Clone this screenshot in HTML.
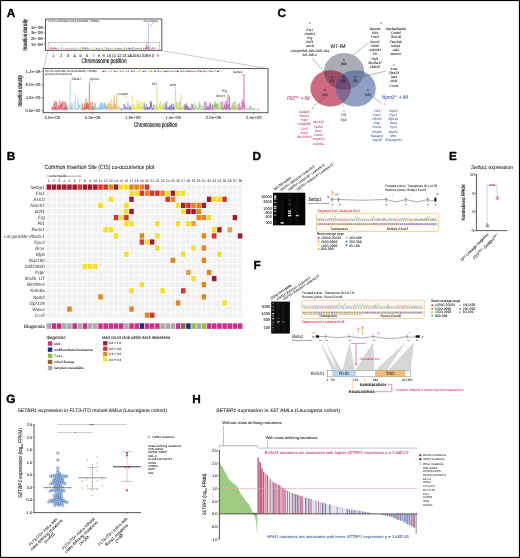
<!DOCTYPE html>
<html><head><meta charset="utf-8"><style>
html,body{margin:0;padding:0;background:#fff;}
svg{display:block;font-family:"Liberation Sans",sans-serif;}
text{text-rendering:geometricPrecision;}
</style></head><body>
<svg width="520" height="558" viewBox="0 0 520 558">
<rect x="0" y="0" width="520" height="558" fill="#fff"/>
<g opacity="0.999">
<text x="6.8" y="16.8" font-size="11.8" font-weight="bold" fill="#000" stroke="#000" stroke-width="0.35" stroke-linejoin="round">A</text>
<text x="6.8" y="160" font-size="11.8" font-weight="bold" fill="#000" stroke="#000" stroke-width="0.35" stroke-linejoin="round">B</text>
<text x="277.5" y="17" font-size="11.8" font-weight="bold" fill="#000" stroke="#000" stroke-width="0.35" stroke-linejoin="round">C</text>
<text x="252.5" y="159.8" font-size="11.8" font-weight="bold" fill="#000" stroke="#000" stroke-width="0.35" stroke-linejoin="round">D</text>
<text x="449" y="159.8" font-size="11.8" font-weight="bold" fill="#000" stroke="#000" stroke-width="0.35" stroke-linejoin="round">E</text>
<text x="253.5" y="269.2" font-size="11.8" font-weight="bold" fill="#000" stroke="#000" stroke-width="0.35" stroke-linejoin="round">F</text>
<text x="6.3" y="403" font-size="11.8" font-weight="bold" fill="#000" stroke="#000" stroke-width="0.35" stroke-linejoin="round">G</text>
<text x="192.3" y="403" font-size="11.8" font-weight="bold" fill="#000" stroke="#000" stroke-width="0.35" stroke-linejoin="round">H</text>
<path d="M51.8,110.6 L51.80,110.1 L52.34,106.2 L52.76,109.3 L53.17,107.7 L53.66,109.9 L54.15,102.8 L54.57,109.3 L55.00,100.6 L55.41,109.6 L55.81,106.9 L56.12,110.0 L56.42,101.6 L56.97,109.8 L57.52,108.6 L58.03,109.6 L58.53,104.8 L58.88,109.4 L59.23,107.2 L59.61,109.5 L60.00,100.6 L60.51,108.3 L61.01,104.3 L61.28,109.6 L61.55,103.3 L62.09,108.6 L62.64,101.4 L63.06,109.9 L63.49,108.6 L63.74,109.7 L64.00,101.6 L64.50,109.9 L65.00,107.1 L65.34,109.2 L65.69,102.1 L66.02,109.8 L66.34,105.2 L66.71,110.0 L67.08,108.5 L67.70,110.1 L67.7,110.6 Z" fill="#d03040" opacity="0.18" />
<path d="M51.80,110.1 L52.34,106.2 L52.76,109.3 L53.17,107.7 L53.66,109.9 L54.15,102.8 L54.57,109.3 L55.00,100.6 L55.41,109.6 L55.81,106.9 L56.12,110.0 L56.42,101.6 L56.97,109.8 L57.52,108.6 L58.03,109.6 L58.53,104.8 L58.88,109.4 L59.23,107.2 L59.61,109.5 L60.00,100.6 L60.51,108.3 L61.01,104.3 L61.28,109.6 L61.55,103.3 L62.09,108.6 L62.64,101.4 L63.06,109.9 L63.49,108.6 L63.74,109.7 L64.00,101.6 L64.50,109.9 L65.00,107.1 L65.34,109.2 L65.69,102.1 L66.02,109.8 L66.34,105.2 L66.71,110.0 L67.08,108.5 L67.70,110.1" fill="none" stroke="#d03040" stroke-width="0.42" />
<path d="M67.7,110.6 L67.70,110.1 L68.17,105.1 L68.70,109.0 L69.22,105.9 L69.71,109.5 L70.20,82.6 L70.39,109.6 L70.57,105.5 L71.00,109.5 L71.43,103.1 L71.69,110.0 L71.94,107.1 L72.20,109.2 L72.45,102.9 L72.90,109.9 L73.35,108.6 L73.90,109.6 L74.44,101.4 L74.92,108.7 L75.40,93.6 L75.63,109.5 L75.87,108.7 L76.27,109.6 L76.66,108.5 L76.95,110.1 L77.24,107.5 L77.62,109.8 L78.00,97.6 L78.22,107.6 L78.44,102.6 L78.84,109.0 L79.23,104.4 L79.62,108.1 L80.00,104.3 L80.38,109.6 L80.75,107.3 L81.30,110.0 L81.85,101.1 L82.20,110.1 L82.2,110.6 Z" fill="#9cc8e4" opacity="0.18" />
<path d="M67.70,110.1 L68.17,105.1 L68.70,109.0 L69.22,105.9 L69.71,109.5 L70.20,82.6 L70.39,109.6 L70.57,105.5 L71.00,109.5 L71.43,103.1 L71.69,110.0 L71.94,107.1 L72.20,109.2 L72.45,102.9 L72.90,109.9 L73.35,108.6 L73.90,109.6 L74.44,101.4 L74.92,108.7 L75.40,93.6 L75.63,109.5 L75.87,108.7 L76.27,109.6 L76.66,108.5 L76.95,110.1 L77.24,107.5 L77.62,109.8 L78.00,97.6 L78.22,107.6 L78.44,102.6 L78.84,109.0 L79.23,104.4 L79.62,108.1 L80.00,104.3 L80.38,109.6 L80.75,107.3 L81.30,110.0 L81.85,101.1 L82.20,110.1" fill="none" stroke="#9cc8e4" stroke-width="0.42" />
<path d="M82.2,110.6 L82.20,110.1 L82.68,104.3 L83.13,110.0 L83.57,108.1 L83.80,109.6 L84.02,106.6 L84.34,109.9 L84.65,102.9 L85.10,109.6 L85.55,104.8 L85.78,108.5 L86.00,98.6 L86.18,109.1 L86.36,104.3 L86.64,109.4 L86.91,106.1 L87.19,109.2 L87.46,102.0 L87.71,108.7 L87.95,102.8 L88.20,109.1 L88.45,104.0 L88.93,109.8 L89.40,82.6 L89.76,109.7 L90.12,108.7 L90.36,109.5 L90.61,101.9 L91.00,109.4 L91.39,108.4 L91.93,109.6 L92.48,101.6 L92.74,109.5 L93.00,106.2 L93.27,109.6 L93.54,107.0 L94.20,110.1 L94.2,110.6 Z" fill="#d65a38" opacity="0.18" />
<path d="M82.20,110.1 L82.68,104.3 L83.13,110.0 L83.57,108.1 L83.80,109.6 L84.02,106.6 L84.34,109.9 L84.65,102.9 L85.10,109.6 L85.55,104.8 L85.78,108.5 L86.00,98.6 L86.18,109.1 L86.36,104.3 L86.64,109.4 L86.91,106.1 L87.19,109.2 L87.46,102.0 L87.71,108.7 L87.95,102.8 L88.20,109.1 L88.45,104.0 L88.93,109.8 L89.40,82.6 L89.76,109.7 L90.12,108.7 L90.36,109.5 L90.61,101.9 L91.00,109.4 L91.39,108.4 L91.93,109.6 L92.48,101.6 L92.74,109.5 L93.00,106.2 L93.27,109.6 L93.54,107.0 L94.20,110.1" fill="none" stroke="#d65a38" stroke-width="0.42" />
<path d="M94.2,110.6 L94.20,110.1 L94.56,104.1 L95.00,109.6 L95.45,102.6 L95.74,109.3 L96.02,107.6 L96.29,109.3 L96.57,107.6 L97.03,109.4 L97.49,108.2 L97.89,109.6 L98.29,107.7 L98.61,109.6 L98.93,106.2 L99.47,109.0 L100.00,103.6 L100.19,109.9 L100.38,107.3 L100.66,109.4 L100.93,102.3 L101.42,108.8 L101.91,103.0 L102.40,109.5 L102.89,103.5 L103.43,109.4 L103.96,103.1 L104.27,108.6 L104.58,102.5 L104.96,109.3 L105.34,103.4 L105.75,109.4 L106.16,106.2 L106.50,109.2 L106.85,106.2 L107.20,110.1 L107.2,110.6 Z" fill="#7eaade" opacity="0.18" />
<path d="M94.20,110.1 L94.56,104.1 L95.00,109.6 L95.45,102.6 L95.74,109.3 L96.02,107.6 L96.29,109.3 L96.57,107.6 L97.03,109.4 L97.49,108.2 L97.89,109.6 L98.29,107.7 L98.61,109.6 L98.93,106.2 L99.47,109.0 L100.00,103.6 L100.19,109.9 L100.38,107.3 L100.66,109.4 L100.93,102.3 L101.42,108.8 L101.91,103.0 L102.40,109.5 L102.89,103.5 L103.43,109.4 L103.96,103.1 L104.27,108.6 L104.58,102.5 L104.96,109.3 L105.34,103.4 L105.75,109.4 L106.16,106.2 L106.50,109.2 L106.85,106.2 L107.20,110.1" fill="none" stroke="#7eaade" stroke-width="0.42" />
<path d="M107.2,110.6 L107.20,110.1 L107.46,103.9 L107.90,108.1 L108.34,101.7 L108.65,109.4 L108.96,107.4 L109.43,109.9 L109.89,104.3 L110.21,108.8 L110.54,104.1 L110.77,108.6 L111.00,99.6 L111.39,109.9 L111.77,107.6 L112.29,110.0 L112.81,106.7 L113.12,109.0 L113.43,103.0 L113.71,108.6 L114.00,95.6 L114.55,109.5 L115.10,104.2 L115.38,109.0 L115.65,104.3 L116.08,109.5 L116.50,94.6 L117.14,109.0 L117.77,106.4 L118.32,109.4 L118.87,106.1 L120.00,110.1 L120.0,110.6 Z" fill="#e6a03c" opacity="0.18" />
<path d="M107.20,110.1 L107.46,103.9 L107.90,108.1 L108.34,101.7 L108.65,109.4 L108.96,107.4 L109.43,109.9 L109.89,104.3 L110.21,108.8 L110.54,104.1 L110.77,108.6 L111.00,99.6 L111.39,109.9 L111.77,107.6 L112.29,110.0 L112.81,106.7 L113.12,109.0 L113.43,103.0 L113.71,108.6 L114.00,95.6 L114.55,109.5 L115.10,104.2 L115.38,109.0 L115.65,104.3 L116.08,109.5 L116.50,94.6 L117.14,109.0 L117.77,106.4 L118.32,109.4 L118.87,106.1 L120.00,110.1" fill="none" stroke="#e6a03c" stroke-width="0.42" />
<path d="M120.0,110.6 L120.00,110.1 L120.78,108.7 L121.24,109.9 L121.71,108.0 L122.25,109.8 L122.80,108.7 L123.31,109.6 L123.82,104.1 L124.41,108.6 L125.00,103.6 L125.22,109.6 L125.43,106.8 L125.89,109.2 L126.34,107.2 L126.65,109.1 L126.96,107.6 L127.47,109.6 L127.97,102.3 L128.46,109.2 L128.94,107.6 L129.47,110.0 L129.99,105.5 L130.29,109.8 L130.59,106.0 L130.95,110.0 L131.32,108.4 L131.70,110.1 L131.7,110.6 Z" fill="#7474c4" opacity="0.18" />
<path d="M120.00,110.1 L120.78,108.7 L121.24,109.9 L121.71,108.0 L122.25,109.8 L122.80,108.7 L123.31,109.6 L123.82,104.1 L124.41,108.6 L125.00,103.6 L125.22,109.6 L125.43,106.8 L125.89,109.2 L126.34,107.2 L126.65,109.1 L126.96,107.6 L127.47,109.6 L127.97,102.3 L128.46,109.2 L128.94,107.6 L129.47,110.0 L129.99,105.5 L130.29,109.8 L130.59,106.0 L130.95,110.0 L131.32,108.4 L131.70,110.1" fill="none" stroke="#7474c4" stroke-width="0.42" />
<path d="M131.7,110.6 L131.70,110.1 L132.30,95.1 L132.57,109.9 L132.84,106.0 L133.20,108.6 L133.55,104.3 L133.86,108.4 L134.17,104.5 L134.40,109.2 L134.63,107.1 L134.96,109.7 L135.30,108.1 L135.76,109.9 L136.23,107.0 L136.61,109.9 L137.00,99.1 L137.40,109.0 L137.81,102.1 L138.30,109.0 L138.78,104.2 L139.02,109.9 L139.25,106.0 L139.63,109.0 L140.00,100.1 L140.35,109.2 L140.70,107.0 L141.01,110.0 L141.32,103.1 L141.66,108.9 L142.00,106.2 L142.43,109.3 L142.87,101.6 L143.80,110.1 L143.8,110.6 Z" fill="#e4dc3a" opacity="0.18" />
<path d="M131.70,110.1 L132.30,95.1 L132.57,109.9 L132.84,106.0 L133.20,108.6 L133.55,104.3 L133.86,108.4 L134.17,104.5 L134.40,109.2 L134.63,107.1 L134.96,109.7 L135.30,108.1 L135.76,109.9 L136.23,107.0 L136.61,109.9 L137.00,99.1 L137.40,109.0 L137.81,102.1 L138.30,109.0 L138.78,104.2 L139.02,109.9 L139.25,106.0 L139.63,109.0 L140.00,100.1 L140.35,109.2 L140.70,107.0 L141.01,110.0 L141.32,103.1 L141.66,108.9 L142.00,106.2 L142.43,109.3 L142.87,101.6 L143.80,110.1" fill="none" stroke="#e4dc3a" stroke-width="0.42" />
<path d="M143.8,110.6 L143.80,110.1 L144.31,103.0 L144.85,109.8 L145.39,107.2 L145.86,109.5 L146.34,103.9 L146.78,109.5 L147.22,108.3 L147.45,109.6 L147.68,106.5 L148.15,109.7 L148.62,107.4 L149.01,110.0 L149.39,107.0 L149.89,109.0 L150.39,101.6 L150.75,108.5 L151.11,101.1 L151.35,107.5 L151.60,102.9 L152.11,110.0 L152.61,108.0 L153.07,109.5 L153.52,105.1 L154.60,110.1 L154.6,110.6 Z" fill="#5c5cb4" opacity="0.18" />
<path d="M143.80,110.1 L144.31,103.0 L144.85,109.8 L145.39,107.2 L145.86,109.5 L146.34,103.9 L146.78,109.5 L147.22,108.3 L147.45,109.6 L147.68,106.5 L148.15,109.7 L148.62,107.4 L149.01,110.0 L149.39,107.0 L149.89,109.0 L150.39,101.6 L150.75,108.5 L151.11,101.1 L151.35,107.5 L151.60,102.9 L152.11,110.0 L152.61,108.0 L153.07,109.5 L153.52,105.1 L154.60,110.1" fill="none" stroke="#5c5cb4" stroke-width="0.42" />
<path d="M154.6,110.6 L154.60,110.1 L154.91,104.3 L155.24,109.2 L155.58,107.8 L155.96,109.9 L156.34,105.7 L156.67,108.9 L157.00,88.1 L157.36,109.5 L157.73,107.4 L158.18,109.5 L158.63,106.9 L159.07,109.4 L159.52,103.1 L160.02,108.0 L160.53,101.6 L160.83,109.5 L161.13,107.5 L161.60,109.8 L162.06,105.0 L162.35,109.7 L162.64,104.1 L163.15,108.9 L163.66,102.7 L163.95,109.1 L164.25,107.1 L164.70,110.1 L164.7,110.6 Z" fill="#d2d244" opacity="0.18" />
<path d="M154.60,110.1 L154.91,104.3 L155.24,109.2 L155.58,107.8 L155.96,109.9 L156.34,105.7 L156.67,108.9 L157.00,88.1 L157.36,109.5 L157.73,107.4 L158.18,109.5 L158.63,106.9 L159.07,109.4 L159.52,103.1 L160.02,108.0 L160.53,101.6 L160.83,109.5 L161.13,107.5 L161.60,109.8 L162.06,105.0 L162.35,109.7 L162.64,104.1 L163.15,108.9 L163.66,102.7 L163.95,109.1 L164.25,107.1 L164.70,110.1" fill="none" stroke="#d2d244" stroke-width="0.42" />
<path d="M164.7,110.6 L164.70,110.1 L165.31,103.2 L165.70,109.5 L166.09,105.5 L166.45,108.6 L166.80,101.1 L167.12,109.4 L167.44,108.1 L167.75,109.5 L168.06,107.4 L168.39,109.1 L168.72,107.3 L168.98,109.8 L169.24,106.9 L169.57,109.4 L169.89,105.0 L170.18,109.6 L170.47,108.5 L170.77,109.6 L171.06,105.3 L171.41,109.3 L171.76,103.6 L172.24,109.8 L172.73,106.3 L172.99,109.2 L173.24,103.7 L173.72,109.9 L174.19,106.4 L174.80,110.1 L174.8,110.6 Z" fill="#6c60b6" opacity="0.18" />
<path d="M164.70,110.1 L165.31,103.2 L165.70,109.5 L166.09,105.5 L166.45,108.6 L166.80,101.1 L167.12,109.4 L167.44,108.1 L167.75,109.5 L168.06,107.4 L168.39,109.1 L168.72,107.3 L168.98,109.8 L169.24,106.9 L169.57,109.4 L169.89,105.0 L170.18,109.6 L170.47,108.5 L170.77,109.6 L171.06,105.3 L171.41,109.3 L171.76,103.6 L172.24,109.8 L172.73,106.3 L172.99,109.2 L173.24,103.7 L173.72,109.9 L174.19,106.4 L174.80,110.1" fill="none" stroke="#6c60b6" stroke-width="0.42" />
<path d="M174.8,110.6 L174.80,110.1 L175.50,89.1 L176.00,108.5 L176.49,102.0 L176.80,109.7 L177.11,104.5 L177.63,108.8 L178.15,102.3 L178.56,110.0 L178.97,107.9 L179.33,110.0 L179.69,101.2 L179.95,109.8 L180.21,107.0 L180.60,109.3 L181.00,94.6 L181.43,109.7 L181.86,107.0 L182.38,109.3 L182.90,106.9 L183.26,109.8 L183.63,104.6 L184.50,110.1 L184.5,110.6 Z" fill="#b4cc46" opacity="0.18" />
<path d="M174.80,110.1 L175.50,89.1 L176.00,108.5 L176.49,102.0 L176.80,109.7 L177.11,104.5 L177.63,108.8 L178.15,102.3 L178.56,110.0 L178.97,107.9 L179.33,110.0 L179.69,101.2 L179.95,109.8 L180.21,107.0 L180.60,109.3 L181.00,94.6 L181.43,109.7 L181.86,107.0 L182.38,109.3 L182.90,106.9 L183.26,109.8 L183.63,104.6 L184.50,110.1" fill="none" stroke="#b4cc46" stroke-width="0.42" />
<path d="M184.5,110.6 L184.50,110.1 L184.80,104.0 L185.23,109.5 L185.66,105.8 L185.96,109.2 L186.25,103.1 L186.74,109.8 L187.23,105.5 L187.62,109.2 L188.01,107.5 L188.23,109.7 L188.46,106.6 L188.87,110.0 L189.29,108.5 L189.77,109.6 L190.25,107.6 L190.55,110.0 L190.86,108.6 L191.40,109.5 L191.95,103.6 L192.46,109.1 L192.97,104.7 L193.50,110.1 L193.5,110.6 Z" fill="#8046a6" opacity="0.18" />
<path d="M184.50,110.1 L184.80,104.0 L185.23,109.5 L185.66,105.8 L185.96,109.2 L186.25,103.1 L186.74,109.8 L187.23,105.5 L187.62,109.2 L188.01,107.5 L188.23,109.7 L188.46,106.6 L188.87,110.0 L189.29,108.5 L189.77,109.6 L190.25,107.6 L190.55,110.0 L190.86,108.6 L191.40,109.5 L191.95,103.6 L192.46,109.1 L192.97,104.7 L193.50,110.1" fill="none" stroke="#8046a6" stroke-width="0.42" />
<path d="M193.5,110.6 L193.50,110.1 L194.27,108.1 L194.64,109.6 L195.00,102.6 L195.59,108.9 L196.18,106.8 L196.70,109.3 L197.21,107.6 L197.75,109.2 L198.29,107.0 L198.71,109.4 L199.13,101.8 L199.56,108.4 L200.00,103.6 L200.47,109.7 L200.93,108.6 L201.44,109.9 L201.95,104.9 L202.28,109.3 L202.61,107.8 L203.70,110.1 L203.7,110.6 Z" fill="#84bc48" opacity="0.18" />
<path d="M193.50,110.1 L194.27,108.1 L194.64,109.6 L195.00,102.6 L195.59,108.9 L196.18,106.8 L196.70,109.3 L197.21,107.6 L197.75,109.2 L198.29,107.0 L198.71,109.4 L199.13,101.8 L199.56,108.4 L200.00,103.6 L200.47,109.7 L200.93,108.6 L201.44,109.9 L201.95,104.9 L202.28,109.3 L202.61,107.8 L203.70,110.1" fill="none" stroke="#84bc48" stroke-width="0.42" />
<path d="M203.7,110.6 L203.70,110.1 L204.45,101.6 L204.97,109.9 L205.49,108.4 L205.74,109.6 L206.00,101.6 L206.56,109.8 L207.11,108.2 L207.40,109.7 L207.69,106.1 L207.99,109.1 L208.28,106.0 L208.52,109.9 L208.75,108.4 L209.37,110.0 L210.00,102.6 L210.22,108.9 L210.44,103.6 L210.79,109.6 L211.13,108.5 L211.61,109.7 L212.09,104.9 L212.52,109.1 L212.96,104.6 L213.80,110.1 L213.8,110.6 Z" fill="#9646a8" opacity="0.18" />
<path d="M203.70,110.1 L204.45,101.6 L204.97,109.9 L205.49,108.4 L205.74,109.6 L206.00,101.6 L206.56,109.8 L207.11,108.2 L207.40,109.7 L207.69,106.1 L207.99,109.1 L208.28,106.0 L208.52,109.9 L208.75,108.4 L209.37,110.0 L210.00,102.6 L210.22,108.9 L210.44,103.6 L210.79,109.6 L211.13,108.5 L211.61,109.7 L212.09,104.9 L212.52,109.1 L212.96,104.6 L213.80,110.1" fill="none" stroke="#9646a8" stroke-width="0.42" />
<path d="M213.8,110.6 L213.80,110.1 L214.43,102.6 L214.71,108.0 L215.00,101.1 L215.28,108.3 L215.57,104.2 L215.83,109.6 L216.08,103.4 L216.36,109.2 L216.63,103.9 L217.09,109.2 L217.55,103.3 L217.78,108.7 L218.00,103.6 L218.69,109.8 L219.38,108.2 L219.77,109.4 L220.17,101.5 L220.63,108.7 L221.10,106.1 L221.42,109.5 L221.74,101.6 L222.30,110.1 L222.3,110.6 Z" fill="#84bc4e" opacity="0.18" />
<path d="M213.80,110.1 L214.43,102.6 L214.71,108.0 L215.00,101.1 L215.28,108.3 L215.57,104.2 L215.83,109.6 L216.08,103.4 L216.36,109.2 L216.63,103.9 L217.09,109.2 L217.55,103.3 L217.78,108.7 L218.00,103.6 L218.69,109.8 L219.38,108.2 L219.77,109.4 L220.17,101.5 L220.63,108.7 L221.10,106.1 L221.42,109.5 L221.74,101.6 L222.30,110.1" fill="none" stroke="#84bc4e" stroke-width="0.42" />
<path d="M222.3,110.6 L222.30,110.1 L222.73,101.8 L223.23,109.6 L223.72,107.7 L224.23,110.0 L224.74,104.5 L224.98,108.1 L225.22,101.6 L225.53,109.4 L225.83,107.1 L226.17,109.9 L226.50,100.6 L226.80,108.7 L227.09,104.0 L227.55,109.1 L228.00,94.6 L228.52,109.6 L229.05,104.6 L229.27,109.6 L229.50,96.6 L229.77,109.7 L230.03,107.9 L230.80,110.1 L230.8,110.6 Z" fill="#b646a6" opacity="0.18" />
<path d="M222.30,110.1 L222.73,101.8 L223.23,109.6 L223.72,107.7 L224.23,110.0 L224.74,104.5 L224.98,108.1 L225.22,101.6 L225.53,109.4 L225.83,107.1 L226.17,109.9 L226.50,100.6 L226.80,108.7 L227.09,104.0 L227.55,109.1 L228.00,94.6 L228.52,109.6 L229.05,104.6 L229.27,109.6 L229.50,96.6 L229.77,109.7 L230.03,107.9 L230.80,110.1" fill="none" stroke="#b646a6" stroke-width="0.42" />
<path d="M230.8,110.6 L230.80,110.1 L231.45,107.7 L231.74,109.4 L232.03,104.8 L232.28,108.2 L232.52,103.2 L232.99,110.1 L233.47,108.6 L233.73,109.5 L234.00,101.6 L234.18,109.6 L234.36,105.6 L234.79,109.8 L235.22,101.6 L235.77,109.2 L236.31,106.3 L237.50,110.1 L237.5,110.6 Z" fill="#8cbc46" opacity="0.18" />
<path d="M230.80,110.1 L231.45,107.7 L231.74,109.4 L232.03,104.8 L232.28,108.2 L232.52,103.2 L232.99,110.1 L233.47,108.6 L233.73,109.5 L234.00,101.6 L234.18,109.6 L234.36,105.6 L234.79,109.8 L235.22,101.6 L235.77,109.2 L236.31,106.3 L237.50,110.1" fill="none" stroke="#8cbc46" stroke-width="0.42" />
<path d="M237.5,110.6 L237.50,110.1 L238.09,103.9 L238.63,109.5 L239.16,107.8 L239.41,109.2 L239.65,102.8 L239.99,110.0 L240.32,106.6 L240.81,109.3 L241.30,107.9 L241.65,109.5 L242.00,99.6 L242.42,109.1 L242.84,101.9 L243.42,108.2 L244.00,74.1 L244.33,109.1 L244.66,103.2 L245.10,110.1 L245.1,110.6 Z" fill="#d046a0" opacity="0.18" />
<path d="M237.50,110.1 L238.09,103.9 L238.63,109.5 L239.16,107.8 L239.41,109.2 L239.65,102.8 L239.99,110.0 L240.32,106.6 L240.81,109.3 L241.30,107.9 L241.65,109.5 L242.00,99.6 L242.42,109.1 L242.84,101.9 L243.42,108.2 L244.00,74.1 L244.33,109.1 L244.66,103.2 L245.10,110.1" fill="none" stroke="#d046a0" stroke-width="0.42" />
<path d="M245.1,110.6 L245.10,110.1 L245.37,109.4 L245.79,110.0 L246.21,109.3 L246.47,109.8 L246.74,108.4 L247.10,110.0 L247.46,109.2 L247.82,110.1 L248.17,106.8 L248.44,110.0 L248.70,109.3 L248.94,110.1 L249.17,109.1 L249.43,110.0 L249.68,106.2 L250.01,109.9 L250.34,106.2 L250.60,109.1 L250.87,106.5 L251.26,109.3 L251.65,107.5 L252.09,109.9 L252.53,109.0 L252.83,109.9 L253.13,107.5 L253.40,110.1 L253.67,109.7 L254.14,109.9 L254.62,107.7 L255.30,110.1 L255.3,110.6 Z" fill="#94c494" opacity="0.18" />
<path d="M245.10,110.1 L245.37,109.4 L245.79,110.0 L246.21,109.3 L246.47,109.8 L246.74,108.4 L247.10,110.0 L247.46,109.2 L247.82,110.1 L248.17,106.8 L248.44,110.0 L248.70,109.3 L248.94,110.1 L249.17,109.1 L249.43,110.0 L249.68,106.2 L250.01,109.9 L250.34,106.2 L250.60,109.1 L250.87,106.5 L251.26,109.3 L251.65,107.5 L252.09,109.9 L252.53,109.0 L252.83,109.9 L253.13,107.5 L253.40,110.1 L253.67,109.7 L254.14,109.9 L254.62,107.7 L255.30,110.1" fill="none" stroke="#94c494" stroke-width="0.42" />
<path d="M255.3,110.6 L255.30,110.1 L255.83,109.6 L256.33,110.0 L256.83,109.7 L257.22,110.1 L257.61,109.6 L257.97,110.0 L258.33,108.2 L259.00,110.1 L259.0,110.6 Z" fill="#d466be" opacity="0.18" />
<path d="M255.30,110.1 L255.83,109.6 L256.33,110.0 L256.83,109.7 L257.22,110.1 L257.61,109.6 L257.97,110.0 L258.33,108.2 L259.00,110.1" fill="none" stroke="#d466be" stroke-width="0.42" />
<rect x="43.20" y="68.60" width="224.80" height="44.10" fill="none" stroke="#444" stroke-width="0.9"/>
<text x="44.80" y="72.20" font-size="2.9" fill="#333" textLength="52.00" lengthAdjust="spacingAndGlyphs" text-rendering="geometricPrecision" stroke="#333" stroke-width="0.04">Top 5% cutoff data; kernel bandwidth = 2500bp</text>
<text x="44.80" y="75.20" font-size="2.9" fill="#333" textLength="27.00" lengthAdjust="spacingAndGlyphs" text-rendering="geometricPrecision" stroke="#333" stroke-width="0.04">excluding chromosome 18</text>
<rect x="102.40" y="70.80" width="2.20" height="1.30" fill="#d03040"/>
<text x="105.20" y="72.20" font-size="2.4" fill="#555" text-rendering="geometricPrecision" stroke="#555" stroke-width="0.04">1</text>
<rect x="108.12" y="70.80" width="2.20" height="1.30" fill="#9cc8e4"/>
<text x="110.92" y="72.20" font-size="2.4" fill="#555" text-rendering="geometricPrecision" stroke="#555" stroke-width="0.04">2</text>
<rect x="113.84" y="70.80" width="2.20" height="1.30" fill="#d65a38"/>
<text x="116.64" y="72.20" font-size="2.4" fill="#555" text-rendering="geometricPrecision" stroke="#555" stroke-width="0.04">3</text>
<rect x="119.56" y="70.80" width="2.20" height="1.30" fill="#7eaade"/>
<text x="122.36" y="72.20" font-size="2.4" fill="#555" text-rendering="geometricPrecision" stroke="#555" stroke-width="0.04">4</text>
<rect x="125.28" y="70.80" width="2.20" height="1.30" fill="#e6a03c"/>
<text x="128.08" y="72.20" font-size="2.4" fill="#555" text-rendering="geometricPrecision" stroke="#555" stroke-width="0.04">5</text>
<rect x="131.00" y="70.80" width="2.20" height="1.30" fill="#7474c4"/>
<text x="133.80" y="72.20" font-size="2.4" fill="#555" text-rendering="geometricPrecision" stroke="#555" stroke-width="0.04">6</text>
<rect x="136.72" y="70.80" width="2.20" height="1.30" fill="#e4dc3a"/>
<text x="139.52" y="72.20" font-size="2.4" fill="#555" text-rendering="geometricPrecision" stroke="#555" stroke-width="0.04">7</text>
<rect x="142.44" y="70.80" width="2.20" height="1.30" fill="#5c5cb4"/>
<text x="145.24" y="72.20" font-size="2.4" fill="#555" text-rendering="geometricPrecision" stroke="#555" stroke-width="0.04">8</text>
<rect x="148.16" y="70.80" width="2.20" height="1.30" fill="#d2d244"/>
<text x="150.96" y="72.20" font-size="2.4" fill="#555" text-rendering="geometricPrecision" stroke="#555" stroke-width="0.04">9</text>
<rect x="153.88" y="70.80" width="2.20" height="1.30" fill="#6c60b6"/>
<text x="156.68" y="72.20" font-size="2.4" fill="#555" text-rendering="geometricPrecision" stroke="#555" stroke-width="0.04">10</text>
<rect x="159.60" y="70.80" width="2.20" height="1.30" fill="#b4cc46"/>
<text x="162.40" y="72.20" font-size="2.4" fill="#555" text-rendering="geometricPrecision" stroke="#555" stroke-width="0.04">11</text>
<rect x="165.32" y="70.80" width="2.20" height="1.30" fill="#8046a6"/>
<text x="168.12" y="72.20" font-size="2.4" fill="#555" text-rendering="geometricPrecision" stroke="#555" stroke-width="0.04">12</text>
<rect x="171.04" y="70.80" width="2.20" height="1.30" fill="#84bc48"/>
<text x="173.84" y="72.20" font-size="2.4" fill="#555" text-rendering="geometricPrecision" stroke="#555" stroke-width="0.04">13</text>
<rect x="176.76" y="70.80" width="2.20" height="1.30" fill="#9646a8"/>
<text x="179.56" y="72.20" font-size="2.4" fill="#555" text-rendering="geometricPrecision" stroke="#555" stroke-width="0.04">14</text>
<rect x="182.48" y="70.80" width="2.20" height="1.30" fill="#84bc4e"/>
<text x="185.28" y="72.20" font-size="2.4" fill="#555" text-rendering="geometricPrecision" stroke="#555" stroke-width="0.04">15</text>
<rect x="188.20" y="70.80" width="2.20" height="1.30" fill="#b646a6"/>
<text x="191.00" y="72.20" font-size="2.4" fill="#555" text-rendering="geometricPrecision" stroke="#555" stroke-width="0.04">16</text>
<rect x="193.92" y="70.80" width="2.20" height="1.30" fill="#8cbc46"/>
<text x="196.72" y="72.20" font-size="2.4" fill="#555" text-rendering="geometricPrecision" stroke="#555" stroke-width="0.04">17</text>
<rect x="199.64" y="70.80" width="2.20" height="1.30" fill="#d046a0"/>
<text x="202.44" y="72.20" font-size="2.4" fill="#555" text-rendering="geometricPrecision" stroke="#555" stroke-width="0.04">18</text>
<rect x="205.36" y="70.80" width="2.20" height="1.30" fill="#94c494"/>
<text x="208.16" y="72.20" font-size="2.4" fill="#555" text-rendering="geometricPrecision" stroke="#555" stroke-width="0.04">19</text>
<rect x="211.08" y="70.80" width="2.20" height="1.30" fill="#d466be"/>
<text x="213.88" y="72.20" font-size="2.4" fill="#555" text-rendering="geometricPrecision" stroke="#555" stroke-width="0.04">X</text>
<rect x="216.80" y="70.80" width="2.20" height="1.30" fill="#b0306a"/>
<text x="219.60" y="72.20" font-size="2.4" fill="#555" text-rendering="geometricPrecision" stroke="#555" stroke-width="0.04">Y</text>
<line x1="41.20" y1="71.60" x2="43.20" y2="71.60" stroke="#444" stroke-width="0.5"/>
<text x="40.40" y="73.00" font-size="4.2" text-rendering="geometricPrecision" text-anchor="end" textLength="15.00" lengthAdjust="spacingAndGlyphs">1.2e-08</text>
<line x1="41.20" y1="84.60" x2="43.20" y2="84.60" stroke="#444" stroke-width="0.5"/>
<text x="40.40" y="86.00" font-size="4.2" text-rendering="geometricPrecision" text-anchor="end" textLength="15.00" lengthAdjust="spacingAndGlyphs">8.0e-09</text>
<line x1="41.20" y1="97.60" x2="43.20" y2="97.60" stroke="#444" stroke-width="0.5"/>
<text x="40.40" y="99.00" font-size="4.2" text-rendering="geometricPrecision" text-anchor="end" textLength="15.00" lengthAdjust="spacingAndGlyphs">4.0e-09</text>
<line x1="41.20" y1="110.60" x2="43.20" y2="110.60" stroke="#444" stroke-width="0.5"/>
<text x="40.40" y="112.00" font-size="4.2" text-rendering="geometricPrecision" text-anchor="end" textLength="15.00" lengthAdjust="spacingAndGlyphs">0.0e+00</text>
<text x="22.30" y="90.80" font-size="6.4" stroke="#111" stroke-width="0.18" text-rendering="geometricPrecision" text-anchor="middle" fill="#111" textLength="31.50" lengthAdjust="spacingAndGlyphs" transform="rotate(-90 22.30 90.80)">Insertion density</text>
<line x1="52.30" y1="112.70" x2="52.30" y2="114.30" stroke="#444" stroke-width="0.5"/>
<text x="52.30" y="119.40" font-size="4.2" text-rendering="geometricPrecision" text-anchor="middle" textLength="15.50" lengthAdjust="spacingAndGlyphs">0.0e+00</text>
<line x1="92.60" y1="112.70" x2="92.60" y2="114.30" stroke="#444" stroke-width="0.5"/>
<text x="92.60" y="119.40" font-size="4.2" text-rendering="geometricPrecision" text-anchor="middle" textLength="15.50" lengthAdjust="spacingAndGlyphs">5.0e+08</text>
<line x1="132.90" y1="112.70" x2="132.90" y2="114.30" stroke="#444" stroke-width="0.5"/>
<text x="132.90" y="119.40" font-size="4.2" text-rendering="geometricPrecision" text-anchor="middle" textLength="15.50" lengthAdjust="spacingAndGlyphs">1.0e+09</text>
<line x1="173.20" y1="112.70" x2="173.20" y2="114.30" stroke="#444" stroke-width="0.5"/>
<text x="173.20" y="119.40" font-size="4.2" text-rendering="geometricPrecision" text-anchor="middle" textLength="15.50" lengthAdjust="spacingAndGlyphs">1.5e+09</text>
<line x1="213.50" y1="112.70" x2="213.50" y2="114.30" stroke="#444" stroke-width="0.5"/>
<text x="213.50" y="119.40" font-size="4.2" text-rendering="geometricPrecision" text-anchor="middle" textLength="15.50" lengthAdjust="spacingAndGlyphs">2.0e+09</text>
<line x1="253.80" y1="112.70" x2="253.80" y2="114.30" stroke="#444" stroke-width="0.5"/>
<text x="253.80" y="119.40" font-size="4.2" text-rendering="geometricPrecision" text-anchor="middle" textLength="15.50" lengthAdjust="spacingAndGlyphs">2.5e+09</text>
<text x="155.60" y="127.10" font-size="6.8" stroke="#111" stroke-width="0.15" text-rendering="geometricPrecision" text-anchor="middle" fill="#111" textLength="43.00" lengthAdjust="spacingAndGlyphs">Chromosome position</text>
<text x="71.60" y="79.80" font-size="3.1" font-style="italic" fill="#444" text-rendering="geometricPrecision" stroke="#444" stroke-width="0.04">Skida1</text>
<line x1="71.90" y1="80.60" x2="70.30" y2="82.60" stroke="#555" stroke-width="0.35"/>
<text x="90.30" y="79.80" font-size="3.1" font-style="italic" fill="#444" text-rendering="geometricPrecision" stroke="#444" stroke-width="0.04">Kpna1</text>
<line x1="90.50" y1="80.60" x2="89.50" y2="82.60" stroke="#555" stroke-width="0.35"/>
<text x="117.50" y="95.30" font-size="3.1" font-style="italic" fill="#444" text-rendering="geometricPrecision" stroke="#444" stroke-width="0.04">Lincpint</text>
<line x1="126.00" y1="96.20" x2="126.50" y2="97.50" stroke="#555" stroke-width="0.35"/>
<text x="152.00" y="85.20" font-size="3.1" font-style="italic" fill="#444" text-rendering="geometricPrecision" stroke="#444" stroke-width="0.04">Fli1</text>
<line x1="156.00" y1="86.00" x2="157.00" y2="87.50" stroke="#555" stroke-width="0.35"/>
<text x="169.80" y="85.50" font-size="3.1" font-style="italic" fill="#444" text-rendering="geometricPrecision" stroke="#444" stroke-width="0.04">Ikzf1</text>
<line x1="174.20" y1="86.20" x2="175.50" y2="88.20" stroke="#555" stroke-width="0.35"/>
<text x="222.00" y="92.20" font-size="3.1" font-style="italic" fill="#444" text-rendering="geometricPrecision" stroke="#444" stroke-width="0.04">Erg</text>
<line x1="226.50" y1="93.00" x2="228.00" y2="94.30" stroke="#555" stroke-width="0.35"/>
<text x="216.20" y="97.40" font-size="3.1" font-style="italic" fill="#444" text-rendering="geometricPrecision" stroke="#444" stroke-width="0.04">Runx1</text>
<line x1="225.40" y1="97.60" x2="227.50" y2="98.20" stroke="#555" stroke-width="0.35"/>
<text x="232.80" y="73.40" font-size="3.1" font-style="italic" fill="#444" text-rendering="geometricPrecision" stroke="#444" stroke-width="0.04">Setbp1</text>
<line x1="241.50" y1="74.20" x2="244.00" y2="74.80" stroke="#555" stroke-width="0.35"/>
<path d="M49.0,49.6 L49.00,49.1 L49.50,48.7 L49.93,48.9 L50.36,48.8 L50.74,49.0 L51.12,47.1 L51.37,48.9 L51.63,48.6 L52.07,49.0 L52.52,49.0 L52.79,49.1 L53.07,47.5 L53.61,49.0 L54.15,48.6 L54.44,49.1 L54.72,47.1 L55.06,49.0 L55.39,48.0 L55.81,48.7 L56.23,47.9 L57.20,49.1 L57.2,49.6 Z" fill="#d03040" opacity="0.18" />
<path d="M49.00,49.1 L49.50,48.7 L49.93,48.9 L50.36,48.8 L50.74,49.0 L51.12,47.1 L51.37,48.9 L51.63,48.6 L52.07,49.0 L52.52,49.0 L52.79,49.1 L53.07,47.5 L53.61,49.0 L54.15,48.6 L54.44,49.1 L54.72,47.1 L55.06,49.0 L55.39,48.0 L55.81,48.7 L56.23,47.9 L57.20,49.1" fill="none" stroke="#d03040" stroke-width="0.4" />
<path d="M57.2,49.6 L57.20,49.1 L57.55,48.2 L57.82,48.8 L58.10,47.5 L58.40,49.1 L58.70,48.1 L59.23,49.1 L59.75,48.5 L60.29,49.0 L60.83,47.7 L61.24,48.7 L61.64,47.9 L61.82,49.0 L62.00,44.6 L62.24,48.9 L62.47,48.5 L63.02,49.0 L63.57,48.4 L64.40,49.1 L64.4,49.6 Z" fill="#9cc8e4" opacity="0.18" />
<path d="M57.20,49.1 L57.55,48.2 L57.82,48.8 L58.10,47.5 L58.40,49.1 L58.70,48.1 L59.23,49.1 L59.75,48.5 L60.29,49.0 L60.83,47.7 L61.24,48.7 L61.64,47.9 L61.82,49.0 L62.00,44.6 L62.24,48.9 L62.47,48.5 L63.02,49.0 L63.57,48.4 L64.40,49.1" fill="none" stroke="#9cc8e4" stroke-width="0.4" />
<path d="M64.4,49.6 L64.40,49.1 L65.19,49.0 L65.65,49.2 L66.11,48.3 L66.64,49.1 L67.17,48.4 L67.69,49.1 L68.22,48.9 L68.77,49.1 L69.31,48.4 L69.60,49.1 L69.88,48.6 L70.31,49.0 L70.74,49.1 L71.30,49.1 L71.3,49.6 Z" fill="#d65a38" opacity="0.18" />
<path d="M64.40,49.1 L65.19,49.0 L65.65,49.2 L66.11,48.3 L66.64,49.1 L67.17,48.4 L67.69,49.1 L68.22,48.9 L68.77,49.1 L69.31,48.4 L69.60,49.1 L69.88,48.6 L70.31,49.0 L70.74,49.1 L71.30,49.1" fill="none" stroke="#d65a38" stroke-width="0.4" />
<path d="M71.3,49.6 L71.30,49.1 L71.87,47.3 L72.24,49.0 L72.62,47.7 L73.15,49.0 L73.68,48.2 L74.14,48.9 L74.60,47.7 L75.11,49.1 L75.61,49.1 L75.89,49.1 L76.17,47.0 L76.64,49.0 L77.11,48.7 L77.60,49.1 L77.6,49.6 Z" fill="#7eaade" opacity="0.18" />
<path d="M71.30,49.1 L71.87,47.3 L72.24,49.0 L72.62,47.7 L73.15,49.0 L73.68,48.2 L74.14,48.9 L74.60,47.7 L75.11,49.1 L75.61,49.1 L75.89,49.1 L76.17,47.0 L76.64,49.0 L77.11,48.7 L77.60,49.1" fill="none" stroke="#7eaade" stroke-width="0.4" />
<path d="M77.6,49.6 L77.60,49.1 L78.35,48.9 L78.75,49.0 L79.16,48.3 L79.70,49.0 L80.23,48.5 L80.60,49.0 L80.97,48.1 L81.32,48.7 L81.67,47.2 L82.18,49.0 L82.69,47.7 L82.94,49.0 L83.18,47.0 L83.80,49.1 L83.8,49.6 Z" fill="#e6a03c" opacity="0.18" />
<path d="M77.60,49.1 L78.35,48.9 L78.75,49.0 L79.16,48.3 L79.70,49.0 L80.23,48.5 L80.60,49.0 L80.97,48.1 L81.32,48.7 L81.67,47.2 L82.18,49.0 L82.69,47.7 L82.94,49.0 L83.18,47.0 L83.80,49.1" fill="none" stroke="#e6a03c" stroke-width="0.4" />
<path d="M83.8,49.6 L83.80,49.1 L84.05,47.1 L84.33,48.7 L84.60,47.7 L85.10,48.7 L85.60,47.7 L85.92,49.1 L86.24,48.5 L86.70,49.1 L87.16,47.1 L87.60,48.8 L88.04,48.1 L88.40,48.9 L88.75,48.4 L89.21,48.8 L89.66,48.4 L90.30,49.1 L90.3,49.6 Z" fill="#7474c4" opacity="0.18" />
<path d="M83.80,49.1 L84.05,47.1 L84.33,48.7 L84.60,47.7 L85.10,48.7 L85.60,47.7 L85.92,49.1 L86.24,48.5 L86.70,49.1 L87.16,47.1 L87.60,48.8 L88.04,48.1 L88.40,48.9 L88.75,48.4 L89.21,48.8 L89.66,48.4 L90.30,49.1" fill="none" stroke="#7474c4" stroke-width="0.4" />
<path d="M90.3,49.6 L90.30,49.1 L91.08,48.1 L91.46,48.7 L91.84,48.2 L92.31,48.9 L92.79,47.0 L93.15,49.1 L93.51,48.8 L93.86,49.2 L94.20,49.0 L94.64,49.1 L95.07,47.0 L95.36,48.6 L95.66,47.6 L96.20,49.1 L96.2,49.6 Z" fill="#e4dc3a" opacity="0.18" />
<path d="M90.30,49.1 L91.08,48.1 L91.46,48.7 L91.84,48.2 L92.31,48.9 L92.79,47.0 L93.15,49.1 L93.51,48.8 L93.86,49.2 L94.20,49.0 L94.64,49.1 L95.07,47.0 L95.36,48.6 L95.66,47.6 L96.20,49.1" fill="none" stroke="#e4dc3a" stroke-width="0.4" />
<path d="M96.2,49.6 L96.20,49.1 L96.43,48.0 L96.66,48.9 L96.89,48.2 L97.43,49.0 L97.97,48.7 L98.51,49.0 L99.06,47.9 L99.57,49.0 L100.08,49.1 L101.30,49.1 L101.3,49.6 Z" fill="#5c5cb4" opacity="0.18" />
<path d="M96.20,49.1 L96.43,48.0 L96.66,48.9 L96.89,48.2 L97.43,49.0 L97.97,48.7 L98.51,49.0 L99.06,47.9 L99.57,49.0 L100.08,49.1 L101.30,49.1" fill="none" stroke="#5c5cb4" stroke-width="0.4" />
<path d="M101.3,49.6 L101.30,49.1 L101.85,48.8 L102.28,49.1 L102.72,47.1 L102.95,49.0 L103.19,48.3 L103.53,49.0 L103.87,48.7 L104.38,49.1 L104.89,47.1 L105.38,48.9 L105.86,48.4 L106.30,49.1 L106.3,49.6 Z" fill="#d2d244" opacity="0.18" />
<path d="M101.30,49.1 L101.85,48.8 L102.28,49.1 L102.72,47.1 L102.95,49.0 L103.19,48.3 L103.53,49.0 L103.87,48.7 L104.38,49.1 L104.89,47.1 L105.38,48.9 L105.86,48.4 L106.30,49.1" fill="none" stroke="#d2d244" stroke-width="0.4" />
<path d="M106.3,49.6 L106.30,49.1 L106.63,47.2 L107.17,49.1 L107.70,49.1 L108.20,49.1 L108.70,47.7 L109.15,49.1 L109.59,49.1 L110.09,49.1 L110.58,48.5 L111.20,49.1 L111.2,49.6 Z" fill="#6c60b6" opacity="0.18" />
<path d="M106.30,49.1 L106.63,47.2 L107.17,49.1 L107.70,49.1 L108.20,49.1 L108.70,47.7 L109.15,49.1 L109.59,49.1 L110.09,49.1 L110.58,48.5 L111.20,49.1" fill="none" stroke="#6c60b6" stroke-width="0.4" />
<path d="M111.2,49.6 L111.20,49.1 L111.58,48.1 L111.90,48.8 L112.21,47.5 L112.58,49.1 L112.96,48.6 L113.48,48.9 L113.99,47.5 L114.50,49.0 L115.00,47.9 L115.29,49.0 L115.57,48.5 L116.40,49.1 L116.4,49.6 Z" fill="#b4cc46" opacity="0.18" />
<path d="M111.20,49.1 L111.58,48.1 L111.90,48.8 L112.21,47.5 L112.58,49.1 L112.96,48.6 L113.48,48.9 L113.99,47.5 L114.50,49.0 L115.00,47.9 L115.29,49.0 L115.57,48.5 L116.40,49.1" fill="none" stroke="#b4cc46" stroke-width="0.4" />
<path d="M116.4,49.6 L116.40,49.1 L116.90,48.1 L117.38,48.9 L117.87,48.6 L118.20,49.0 L118.53,47.8 L118.91,49.0 L119.30,48.5 L119.65,49.0 L120.01,48.6 L120.29,49.1 L120.57,47.9 L121.70,49.1 L121.7,49.6 Z" fill="#8046a6" opacity="0.18" />
<path d="M116.40,49.1 L116.90,48.1 L117.38,48.9 L117.87,48.6 L118.20,49.0 L118.53,47.8 L118.91,49.0 L119.30,48.5 L119.65,49.0 L120.01,48.6 L120.29,49.1 L120.57,47.9 L121.70,49.1" fill="none" stroke="#8046a6" stroke-width="0.4" />
<path d="M121.7,49.6 L121.70,49.1 L122.46,48.9 L123.00,49.1 L123.54,48.8 L123.91,49.1 L124.29,47.3 L124.63,48.9 L124.97,48.2 L125.25,48.9 L125.53,47.1 L126.70,49.1 L126.7,49.6 Z" fill="#84bc48" opacity="0.18" />
<path d="M121.70,49.1 L122.46,48.9 L123.00,49.1 L123.54,48.8 L123.91,49.1 L124.29,47.3 L124.63,48.9 L124.97,48.2 L125.25,48.9 L125.53,47.1 L126.70,49.1" fill="none" stroke="#84bc48" stroke-width="0.4" />
<path d="M126.7,49.6 L126.70,49.1 L127.17,48.7 L127.69,48.9 L128.21,48.3 L128.46,48.8 L128.71,47.6 L128.96,49.1 L129.21,48.8 L129.46,49.1 L129.71,47.9 L130.21,48.8 L130.71,48.0 L131.30,49.1 L131.3,49.6 Z" fill="#9646a8" opacity="0.18" />
<path d="M126.70,49.1 L127.17,48.7 L127.69,48.9 L128.21,48.3 L128.46,48.8 L128.71,47.6 L128.96,49.1 L129.21,48.8 L129.46,49.1 L129.71,47.9 L130.21,48.8 L130.71,48.0 L131.30,49.1" fill="none" stroke="#9646a8" stroke-width="0.4" />
<path d="M131.3,49.6 L131.30,49.1 L131.79,47.9 L132.14,49.0 L132.50,47.2 L132.73,48.5 L132.96,47.0 L133.41,48.7 L133.87,47.5 L134.70,49.1 L134.7,49.6 Z" fill="#84bc4e" opacity="0.18" />
<path d="M131.30,49.1 L131.79,47.9 L132.14,49.0 L132.50,47.2 L132.73,48.5 L132.96,47.0 L133.41,48.7 L133.87,47.5 L134.70,49.1" fill="none" stroke="#84bc4e" stroke-width="0.4" />
<path d="M134.7,49.6 L134.70,49.1 L135.15,48.7 L135.65,49.1 L136.15,48.4 L136.54,48.9 L136.94,48.1 L137.28,49.0 L137.61,47.9 L138.50,49.1 L138.5,49.6 Z" fill="#b646a6" opacity="0.18" />
<path d="M134.70,49.1 L135.15,48.7 L135.65,49.1 L136.15,48.4 L136.54,48.9 L136.94,48.1 L137.28,49.0 L137.61,47.9 L138.50,49.1" fill="none" stroke="#b646a6" stroke-width="0.4" />
<path d="M138.5,49.6 L138.50,49.1 L138.74,48.4 L139.05,49.1 L139.35,48.4 L139.66,49.0 L139.97,47.4 L140.38,49.0 L140.78,47.7 L141.31,48.8 L141.84,48.2 L142.21,49.1 L142.59,48.9 L143.20,49.1 L143.2,49.6 Z" fill="#8cbc46" opacity="0.18" />
<path d="M138.50,49.1 L138.74,48.4 L139.05,49.1 L139.35,48.4 L139.66,49.0 L139.97,47.4 L140.38,49.0 L140.78,47.7 L141.31,48.8 L141.84,48.2 L142.21,49.1 L142.59,48.9 L143.20,49.1" fill="none" stroke="#8cbc46" stroke-width="0.4" />
<path d="M143.2,49.6 L143.20,49.1 L143.44,47.6 L143.99,49.1 L144.53,48.4 L145.06,49.1 L145.59,48.4 L146.02,49.1 L146.44,47.2 L146.80,49.1 L146.8,49.6 Z" fill="#d046a0" opacity="0.18" />
<path d="M143.20,49.1 L143.44,47.6 L143.99,49.1 L144.53,48.4 L145.06,49.1 L145.59,48.4 L146.02,49.1 L146.44,47.2 L146.80,49.1" fill="none" stroke="#d046a0" stroke-width="0.4" />
<path d="M146.8,49.6 L146.80,49.1 L147.45,47.2 L147.91,48.8 L148.38,47.2 L148.64,48.7 L148.90,48.1 L149.27,49.1 L149.63,48.7 L150.60,49.1 L150.6,49.6 Z" fill="#94c494" opacity="0.18" />
<path d="M146.80,49.1 L147.45,47.2 L147.91,48.8 L148.38,47.2 L148.64,48.7 L148.90,48.1 L149.27,49.1 L149.63,48.7 L150.60,49.1" fill="none" stroke="#94c494" stroke-width="0.4" />
<path d="M150.6,49.6 L150.60,49.1 L151.21,49.0 L151.49,49.1 L151.77,48.0 L152.10,48.9 L152.43,47.2 L152.91,48.8 L153.39,47.4 L153.75,48.8 L154.11,47.5 L154.52,48.8 L154.93,47.4 L155.60,49.1 L155.6,49.6 Z" fill="#d466be" opacity="0.18" />
<path d="M150.60,49.1 L151.21,49.0 L151.49,49.1 L151.77,48.0 L152.10,48.9 L152.43,47.2 L152.91,48.8 L153.39,47.4 L153.75,48.8 L154.11,47.5 L154.52,48.8 L154.93,47.4 L155.60,49.1" fill="none" stroke="#d466be" stroke-width="0.4" />
<path d="M146.6,49.6 L146.60,49.1 L147.04,48.7 L147.37,49.0 L147.70,47.1 L148.05,48.6 L148.40,22.4 L148.80,48.7 L149.20,45.6 L149.63,48.3 L150.05,46.8 L150.60,49.1 L150.6,49.6 Z" fill="#98b8e8" opacity="0.4" />
<path d="M146.60,49.1 L147.04,48.7 L147.37,49.0 L147.70,47.1 L148.05,48.6 L148.40,22.4 L148.80,48.7 L149.20,45.6 L149.63,48.3 L150.05,46.8 L150.60,49.1" fill="none" stroke="#98b8e8" stroke-width="0.45" />
<path d="M145.5,49.6 L145.50,49.1 L145.91,46.7 L146.36,49.0 L146.80,43.6 L147.08,48.7 L147.35,47.0 L148.00,49.1 L148.0,49.6 Z" fill="#e06080" opacity="0.18" />
<path d="M145.50,49.1 L145.91,46.7 L146.36,49.0 L146.80,43.6 L147.08,48.7 L147.35,47.0 L148.00,49.1" fill="none" stroke="#e06080" stroke-width="0.45" />
<rect x="45.50" y="19.00" width="116.30" height="31.30" fill="none" stroke="#444" stroke-width="0.9"/>
<rect x="48.10" y="42.30" width="111.20" height="8.00" fill="none" stroke="#777" stroke-width="0.4"/>
<text x="47.30" y="22.20" font-size="2.9" fill="#333" textLength="52.00" lengthAdjust="spacingAndGlyphs" text-rendering="geometricPrecision" stroke="#333" stroke-width="0.04">Top 5% cutoff data; kernel bandwidth = 2500bp</text>
<text x="143.50" y="21.60" font-size="2.6" font-style="italic" fill="#444" text-rendering="geometricPrecision" stroke="#444" stroke-width="0.04">Ercc4</text>
<text x="150.30" y="21.60" font-size="2.6" font-style="italic" fill="#444" textLength="8.00" lengthAdjust="spacingAndGlyphs" text-rendering="geometricPrecision" stroke="#444" stroke-width="0.04">Setbp1</text>
<line x1="153.50" y1="22.50" x2="150.20" y2="26.50" stroke="#555" stroke-width="0.4"/>
<line x1="43.70" y1="27.80" x2="45.50" y2="27.80" stroke="#444" stroke-width="0.5"/>
<text x="43.00" y="29.20" font-size="4.2" text-rendering="geometricPrecision" text-anchor="end" textLength="12.30" lengthAdjust="spacingAndGlyphs">4e-08</text>
<line x1="43.70" y1="32.90" x2="45.50" y2="32.90" stroke="#444" stroke-width="0.5"/>
<text x="43.00" y="34.30" font-size="4.2" text-rendering="geometricPrecision" text-anchor="end" textLength="12.30" lengthAdjust="spacingAndGlyphs">3e-08</text>
<line x1="43.70" y1="38.50" x2="45.50" y2="38.50" stroke="#444" stroke-width="0.5"/>
<text x="43.00" y="39.90" font-size="4.2" text-rendering="geometricPrecision" text-anchor="end" textLength="12.30" lengthAdjust="spacingAndGlyphs">2e-08</text>
<line x1="43.70" y1="44.10" x2="45.50" y2="44.10" stroke="#444" stroke-width="0.5"/>
<text x="43.00" y="45.50" font-size="4.2" text-rendering="geometricPrecision" text-anchor="end" textLength="12.30" lengthAdjust="spacingAndGlyphs">1e-08</text>
<text x="27.20" y="34.70" font-size="6.2" stroke="#111" stroke-width="0.18" text-rendering="geometricPrecision" text-anchor="middle" fill="#111" textLength="31.50" lengthAdjust="spacingAndGlyphs" transform="rotate(-90 27.20 34.70)">Insertion density</text>
<line x1="53.40" y1="50.30" x2="53.40" y2="51.60" stroke="#444" stroke-width="0.4"/>
<text x="53.40" y="56.60" font-size="4.0" text-anchor="middle" text-rendering="geometricPrecision" stroke="#222" stroke-width="0.04">1</text>
<line x1="61.00" y1="50.30" x2="61.00" y2="51.60" stroke="#444" stroke-width="0.4"/>
<text x="61.00" y="56.60" font-size="4.0" text-anchor="middle" text-rendering="geometricPrecision" stroke="#222" stroke-width="0.04">2</text>
<line x1="68.00" y1="50.30" x2="68.00" y2="51.60" stroke="#444" stroke-width="0.4"/>
<text x="68.00" y="56.60" font-size="4.0" text-anchor="middle" text-rendering="geometricPrecision" stroke="#222" stroke-width="0.04">3</text>
<line x1="74.60" y1="50.30" x2="74.60" y2="51.60" stroke="#444" stroke-width="0.4"/>
<text x="74.60" y="56.60" font-size="4.0" text-anchor="middle" text-rendering="geometricPrecision" stroke="#222" stroke-width="0.04">4</text>
<line x1="80.60" y1="50.30" x2="80.60" y2="51.60" stroke="#444" stroke-width="0.4"/>
<text x="80.60" y="56.60" font-size="4.0" text-anchor="middle" text-rendering="geometricPrecision" stroke="#222" stroke-width="0.04">5</text>
<line x1="87.00" y1="50.30" x2="87.00" y2="51.60" stroke="#444" stroke-width="0.4"/>
<text x="87.00" y="56.60" font-size="4.0" text-anchor="middle" text-rendering="geometricPrecision" stroke="#222" stroke-width="0.04">6</text>
<line x1="93.50" y1="50.30" x2="93.50" y2="51.60" stroke="#444" stroke-width="0.4"/>
<text x="93.50" y="56.60" font-size="4.0" text-anchor="middle" text-rendering="geometricPrecision" stroke="#222" stroke-width="0.04">7</text>
<line x1="98.80" y1="50.30" x2="98.80" y2="51.60" stroke="#444" stroke-width="0.4"/>
<text x="98.80" y="56.60" font-size="4.0" text-anchor="middle" text-rendering="geometricPrecision" stroke="#222" stroke-width="0.04">8</text>
<line x1="103.70" y1="50.30" x2="103.70" y2="51.60" stroke="#444" stroke-width="0.4"/>
<text x="103.70" y="56.60" font-size="4.0" text-anchor="middle" text-rendering="geometricPrecision" stroke="#222" stroke-width="0.04">9</text>
<line x1="108.90" y1="50.30" x2="108.90" y2="51.60" stroke="#444" stroke-width="0.4"/>
<text x="108.90" y="56.60" font-size="4.0" text-anchor="middle" text-rendering="geometricPrecision" stroke="#222" stroke-width="0.04">10</text>
<line x1="113.80" y1="50.30" x2="113.80" y2="51.60" stroke="#444" stroke-width="0.4"/>
<text x="113.80" y="56.60" font-size="4.0" text-anchor="middle" text-rendering="geometricPrecision" stroke="#222" stroke-width="0.04">11</text>
<line x1="119.20" y1="50.30" x2="119.20" y2="51.60" stroke="#444" stroke-width="0.4"/>
<text x="119.20" y="56.60" font-size="4.0" text-anchor="middle" text-rendering="geometricPrecision" stroke="#222" stroke-width="0.04">12</text>
<line x1="124.20" y1="50.30" x2="124.20" y2="51.60" stroke="#444" stroke-width="0.4"/>
<text x="124.20" y="56.60" font-size="4.0" text-anchor="middle" text-rendering="geometricPrecision" stroke="#222" stroke-width="0.04">13</text>
<line x1="129.20" y1="50.30" x2="129.20" y2="51.60" stroke="#444" stroke-width="0.4"/>
<text x="129.20" y="56.60" font-size="4.0" text-anchor="middle" text-rendering="geometricPrecision" stroke="#222" stroke-width="0.04">14</text>
<line x1="133.00" y1="50.30" x2="133.00" y2="51.60" stroke="#444" stroke-width="0.4"/>
<text x="133.00" y="56.60" font-size="4.0" text-anchor="middle" text-rendering="geometricPrecision" stroke="#222" stroke-width="0.04">15</text>
<line x1="137.00" y1="50.30" x2="137.00" y2="51.60" stroke="#444" stroke-width="0.4"/>
<text x="137.00" y="56.60" font-size="4.0" text-anchor="middle" text-rendering="geometricPrecision" stroke="#222" stroke-width="0.04">16</text>
<line x1="141.30" y1="50.30" x2="141.30" y2="51.60" stroke="#444" stroke-width="0.4"/>
<text x="141.30" y="56.60" font-size="4.0" text-anchor="middle" text-rendering="geometricPrecision" stroke="#222" stroke-width="0.04">17</text>
<line x1="145.00" y1="50.30" x2="145.00" y2="51.60" stroke="#444" stroke-width="0.4"/>
<text x="145.00" y="56.60" font-size="4.0" text-anchor="middle" text-rendering="geometricPrecision" stroke="#222" stroke-width="0.04">18</text>
<line x1="148.60" y1="50.30" x2="148.60" y2="51.60" stroke="#444" stroke-width="0.4"/>
<text x="148.60" y="56.60" font-size="4.0" text-anchor="middle" text-rendering="geometricPrecision" stroke="#222" stroke-width="0.04">19</text>
<line x1="153.10" y1="50.30" x2="153.10" y2="51.60" stroke="#444" stroke-width="0.4"/>
<text x="153.10" y="56.60" font-size="4.0" text-anchor="middle" text-rendering="geometricPrecision" stroke="#222" stroke-width="0.04">X</text>
<line x1="158.00" y1="50.30" x2="158.00" y2="51.60" stroke="#444" stroke-width="0.4"/>
<text x="158.00" y="56.60" font-size="4.0" text-anchor="middle" text-rendering="geometricPrecision" stroke="#222" stroke-width="0.04">Y</text>
<text x="104.00" y="63.20" font-size="6.8" stroke="#111" stroke-width="0.15" text-rendering="geometricPrecision" text-anchor="middle" fill="#111" textLength="45.00" lengthAdjust="spacingAndGlyphs">Chromosome position</text>
<line x1="48.10" y1="50.30" x2="43.50" y2="68.60" stroke="#888" stroke-width="0.45"/>
<line x1="159.30" y1="50.30" x2="268.00" y2="68.60" stroke="#888" stroke-width="0.45"/>
<text x="44.80" y="188.70" font-size="4.6" text-anchor="end" font-style="italic" fill="#4a4a4a" text-rendering="geometricPrecision" stroke="#4a4a4a" stroke-width="0.04">Setbp1</text>
<rect x="46.55" y="184.45" width="4.50" height="5.30" fill="#a31a2e"/>
<rect x="51.72" y="184.45" width="4.50" height="5.30" fill="#a31a2e"/>
<rect x="56.89" y="184.45" width="4.50" height="5.30" fill="#a31a2e"/>
<rect x="62.06" y="184.45" width="4.50" height="5.30" fill="#a31a2e"/>
<rect x="67.23" y="184.45" width="4.50" height="5.30" fill="#a31a2e"/>
<rect x="72.40" y="184.45" width="4.50" height="5.30" fill="#a31a2e"/>
<rect x="77.57" y="184.45" width="4.50" height="5.30" fill="#d8342a"/>
<rect x="82.74" y="184.45" width="4.50" height="5.30" fill="#a31a2e"/>
<rect x="87.91" y="184.45" width="4.50" height="5.30" fill="#a31a2e"/>
<rect x="93.08" y="184.45" width="4.50" height="5.30" fill="#a31a2e"/>
<rect x="98.25" y="184.45" width="4.50" height="5.30" fill="#d8342a"/>
<rect x="103.42" y="184.45" width="4.50" height="5.30" fill="#d8342a"/>
<rect x="108.59" y="184.45" width="4.50" height="5.30" fill="#e3851f"/>
<rect x="113.76" y="184.45" width="4.50" height="5.30" fill="#a31a2e"/>
<rect x="118.93" y="184.45" width="4.50" height="5.30" fill="#f4df26"/>
<rect x="124.10" y="184.45" width="4.50" height="5.30" fill="#f4df26"/>
<rect x="129.27" y="184.45" width="4.50" height="5.30" fill="#e3851f"/>
<rect x="134.44" y="184.45" width="4.50" height="5.30" fill="#e3851f"/>
<rect x="139.61" y="184.45" width="4.50" height="5.30" fill="#e3851f"/>
<rect x="144.78" y="184.45" width="4.50" height="5.30" fill="#d8342a"/>
<rect x="149.95" y="184.45" width="4.50" height="5.30" fill="#f2f2f3"/>
<rect x="155.12" y="184.45" width="4.50" height="5.30" fill="#f2f2f3"/>
<rect x="160.29" y="184.45" width="4.50" height="5.30" fill="#f2f2f3"/>
<rect x="165.46" y="184.45" width="4.50" height="5.30" fill="#f2f2f3"/>
<rect x="170.63" y="184.45" width="4.50" height="5.30" fill="#f2f2f3"/>
<rect x="175.80" y="184.45" width="4.50" height="5.30" fill="#f2f2f3"/>
<rect x="180.97" y="184.45" width="4.50" height="5.30" fill="#f2f2f3"/>
<rect x="186.14" y="184.45" width="4.50" height="5.30" fill="#f2f2f3"/>
<rect x="191.31" y="184.45" width="4.50" height="5.30" fill="#f2f2f3"/>
<rect x="196.48" y="184.45" width="4.50" height="5.30" fill="#f2f2f3"/>
<rect x="201.65" y="184.45" width="4.50" height="5.30" fill="#f2f2f3"/>
<rect x="206.82" y="184.45" width="4.50" height="5.30" fill="#f2f2f3"/>
<rect x="211.99" y="184.45" width="4.50" height="5.30" fill="#f2f2f3"/>
<rect x="217.16" y="184.45" width="4.50" height="5.30" fill="#f2f2f3"/>
<rect x="222.33" y="184.45" width="4.50" height="5.30" fill="#f2f2f3"/>
<rect x="227.50" y="184.45" width="4.50" height="5.30" fill="#f2f2f3"/>
<rect x="232.67" y="184.45" width="4.50" height="5.30" fill="#f2f2f3"/>
<rect x="237.84" y="184.45" width="4.50" height="5.30" fill="#f2f2f3"/>
<text x="44.80" y="194.80" font-size="4.6" text-anchor="end" font-style="italic" fill="#4a4a4a" text-rendering="geometricPrecision" stroke="#4a4a4a" stroke-width="0.04">Ets1</text>
<rect x="46.55" y="190.55" width="4.50" height="5.30" fill="#f2f2f3"/>
<rect x="51.72" y="190.55" width="4.50" height="5.30" fill="#f2f2f3"/>
<rect x="56.89" y="190.55" width="4.50" height="5.30" fill="#f2f2f3"/>
<rect x="62.06" y="190.55" width="4.50" height="5.30" fill="#f2f2f3"/>
<rect x="67.23" y="190.55" width="4.50" height="5.30" fill="#f2f2f3"/>
<rect x="72.40" y="190.55" width="4.50" height="5.30" fill="#f2f2f3"/>
<rect x="77.57" y="190.55" width="4.50" height="5.30" fill="#f2f2f3"/>
<rect x="82.74" y="190.55" width="4.50" height="5.30" fill="#f2f2f3"/>
<rect x="87.91" y="190.55" width="4.50" height="5.30" fill="#f2f2f3"/>
<rect x="93.08" y="190.55" width="4.50" height="5.30" fill="#f2f2f3"/>
<rect x="98.25" y="190.55" width="4.50" height="5.30" fill="#f2f2f3"/>
<rect x="103.42" y="190.55" width="4.50" height="5.30" fill="#f2f2f3"/>
<rect x="108.59" y="190.55" width="4.50" height="5.30" fill="#f2f2f3"/>
<rect x="113.76" y="190.55" width="4.50" height="5.30" fill="#f2f2f3"/>
<rect x="118.93" y="190.55" width="4.50" height="5.30" fill="#f2f2f3"/>
<rect x="124.10" y="190.55" width="4.50" height="5.30" fill="#f2f2f3"/>
<rect x="129.27" y="190.55" width="4.50" height="5.30" fill="#f4df26"/>
<rect x="134.44" y="190.55" width="4.50" height="5.30" fill="#f4df26"/>
<rect x="139.61" y="190.55" width="4.50" height="5.30" fill="#d8342a"/>
<rect x="144.78" y="190.55" width="4.50" height="5.30" fill="#e3851f"/>
<rect x="149.95" y="190.55" width="4.50" height="5.30" fill="#d8342a"/>
<rect x="155.12" y="190.55" width="4.50" height="5.30" fill="#d8342a"/>
<rect x="160.29" y="190.55" width="4.50" height="5.30" fill="#e3851f"/>
<rect x="165.46" y="190.55" width="4.50" height="5.30" fill="#f4df26"/>
<rect x="170.63" y="190.55" width="4.50" height="5.30" fill="#a31a2e"/>
<rect x="175.80" y="190.55" width="4.50" height="5.30" fill="#f4df26"/>
<rect x="180.97" y="190.55" width="4.50" height="5.30" fill="#f4df26"/>
<rect x="186.14" y="190.55" width="4.50" height="5.30" fill="#f2f2f3"/>
<rect x="191.31" y="190.55" width="4.50" height="5.30" fill="#f2f2f3"/>
<rect x="196.48" y="190.55" width="4.50" height="5.30" fill="#f2f2f3"/>
<rect x="201.65" y="190.55" width="4.50" height="5.30" fill="#f2f2f3"/>
<rect x="206.82" y="190.55" width="4.50" height="5.30" fill="#f2f2f3"/>
<rect x="211.99" y="190.55" width="4.50" height="5.30" fill="#f2f2f3"/>
<rect x="217.16" y="190.55" width="4.50" height="5.30" fill="#f2f2f3"/>
<rect x="222.33" y="190.55" width="4.50" height="5.30" fill="#f2f2f3"/>
<rect x="227.50" y="190.55" width="4.50" height="5.30" fill="#f2f2f3"/>
<rect x="232.67" y="190.55" width="4.50" height="5.30" fill="#f2f2f3"/>
<rect x="237.84" y="190.55" width="4.50" height="5.30" fill="#f2f2f3"/>
<text x="44.80" y="200.90" font-size="4.6" text-anchor="end" font-style="italic" fill="#4a4a4a" text-rendering="geometricPrecision" stroke="#4a4a4a" stroke-width="0.04">Ash1l</text>
<rect x="46.55" y="196.65" width="4.50" height="5.30" fill="#f2f2f3"/>
<rect x="51.72" y="196.65" width="4.50" height="5.30" fill="#f2f2f3"/>
<rect x="56.89" y="196.65" width="4.50" height="5.30" fill="#f2f2f3"/>
<rect x="62.06" y="196.65" width="4.50" height="5.30" fill="#f2f2f3"/>
<rect x="67.23" y="196.65" width="4.50" height="5.30" fill="#f2f2f3"/>
<rect x="72.40" y="196.65" width="4.50" height="5.30" fill="#f2f2f3"/>
<rect x="77.57" y="196.65" width="4.50" height="5.30" fill="#f2f2f3"/>
<rect x="82.74" y="196.65" width="4.50" height="5.30" fill="#f2f2f3"/>
<rect x="87.91" y="196.65" width="4.50" height="5.30" fill="#f2f2f3"/>
<rect x="93.08" y="196.65" width="4.50" height="5.30" fill="#f2f2f3"/>
<rect x="98.25" y="196.65" width="4.50" height="5.30" fill="#f2f2f3"/>
<rect x="103.42" y="196.65" width="4.50" height="5.30" fill="#f2f2f3"/>
<rect x="108.59" y="196.65" width="4.50" height="5.30" fill="#f4df26"/>
<rect x="113.76" y="196.65" width="4.50" height="5.30" fill="#f2f2f3"/>
<rect x="118.93" y="196.65" width="4.50" height="5.30" fill="#f2f2f3"/>
<rect x="124.10" y="196.65" width="4.50" height="5.30" fill="#f2f2f3"/>
<rect x="129.27" y="196.65" width="4.50" height="5.30" fill="#a31a2e"/>
<rect x="134.44" y="196.65" width="4.50" height="5.30" fill="#f2f2f3"/>
<rect x="139.61" y="196.65" width="4.50" height="5.30" fill="#f2f2f3"/>
<rect x="144.78" y="196.65" width="4.50" height="5.30" fill="#f2f2f3"/>
<rect x="149.95" y="196.65" width="4.50" height="5.30" fill="#f2f2f3"/>
<rect x="155.12" y="196.65" width="4.50" height="5.30" fill="#f2f2f3"/>
<rect x="160.29" y="196.65" width="4.50" height="5.30" fill="#f2f2f3"/>
<rect x="165.46" y="196.65" width="4.50" height="5.30" fill="#d8342a"/>
<rect x="170.63" y="196.65" width="4.50" height="5.30" fill="#e3851f"/>
<rect x="175.80" y="196.65" width="4.50" height="5.30" fill="#f2f2f3"/>
<rect x="180.97" y="196.65" width="4.50" height="5.30" fill="#f2f2f3"/>
<rect x="186.14" y="196.65" width="4.50" height="5.30" fill="#f2f2f3"/>
<rect x="191.31" y="196.65" width="4.50" height="5.30" fill="#f2f2f3"/>
<rect x="196.48" y="196.65" width="4.50" height="5.30" fill="#f2f2f3"/>
<rect x="201.65" y="196.65" width="4.50" height="5.30" fill="#f2f2f3"/>
<rect x="206.82" y="196.65" width="4.50" height="5.30" fill="#a31a2e"/>
<rect x="211.99" y="196.65" width="4.50" height="5.30" fill="#f4df26"/>
<rect x="217.16" y="196.65" width="4.50" height="5.30" fill="#f4df26"/>
<rect x="222.33" y="196.65" width="4.50" height="5.30" fill="#d8342a"/>
<rect x="227.50" y="196.65" width="4.50" height="5.30" fill="#f2f2f3"/>
<rect x="232.67" y="196.65" width="4.50" height="5.30" fill="#f2f2f3"/>
<rect x="237.84" y="196.65" width="4.50" height="5.30" fill="#f2f2f3"/>
<text x="44.80" y="207.00" font-size="4.6" text-anchor="end" font-style="italic" fill="#4a4a4a" text-rendering="geometricPrecision" stroke="#4a4a4a" stroke-width="0.04">Notch1</text>
<rect x="46.55" y="202.75" width="4.50" height="5.30" fill="#f2f2f3"/>
<rect x="51.72" y="202.75" width="4.50" height="5.30" fill="#f2f2f3"/>
<rect x="56.89" y="202.75" width="4.50" height="5.30" fill="#f2f2f3"/>
<rect x="62.06" y="202.75" width="4.50" height="5.30" fill="#f2f2f3"/>
<rect x="67.23" y="202.75" width="4.50" height="5.30" fill="#f2f2f3"/>
<rect x="72.40" y="202.75" width="4.50" height="5.30" fill="#f2f2f3"/>
<rect x="77.57" y="202.75" width="4.50" height="5.30" fill="#f2f2f3"/>
<rect x="82.74" y="202.75" width="4.50" height="5.30" fill="#f2f2f3"/>
<rect x="87.91" y="202.75" width="4.50" height="5.30" fill="#f2f2f3"/>
<rect x="93.08" y="202.75" width="4.50" height="5.30" fill="#f2f2f3"/>
<rect x="98.25" y="202.75" width="4.50" height="5.30" fill="#f4df26"/>
<rect x="103.42" y="202.75" width="4.50" height="5.30" fill="#f2f2f3"/>
<rect x="108.59" y="202.75" width="4.50" height="5.30" fill="#f2f2f3"/>
<rect x="113.76" y="202.75" width="4.50" height="5.30" fill="#f2f2f3"/>
<rect x="118.93" y="202.75" width="4.50" height="5.30" fill="#f2f2f3"/>
<rect x="124.10" y="202.75" width="4.50" height="5.30" fill="#f4df26"/>
<rect x="129.27" y="202.75" width="4.50" height="5.30" fill="#f2f2f3"/>
<rect x="134.44" y="202.75" width="4.50" height="5.30" fill="#f2f2f3"/>
<rect x="139.61" y="202.75" width="4.50" height="5.30" fill="#f2f2f3"/>
<rect x="144.78" y="202.75" width="4.50" height="5.30" fill="#f2f2f3"/>
<rect x="149.95" y="202.75" width="4.50" height="5.30" fill="#f2f2f3"/>
<rect x="155.12" y="202.75" width="4.50" height="5.30" fill="#f2f2f3"/>
<rect x="160.29" y="202.75" width="4.50" height="5.30" fill="#f2f2f3"/>
<rect x="165.46" y="202.75" width="4.50" height="5.30" fill="#f2f2f3"/>
<rect x="170.63" y="202.75" width="4.50" height="5.30" fill="#f2f2f3"/>
<rect x="175.80" y="202.75" width="4.50" height="5.30" fill="#f4df26"/>
<rect x="180.97" y="202.75" width="4.50" height="5.30" fill="#a31a2e"/>
<rect x="186.14" y="202.75" width="4.50" height="5.30" fill="#d8342a"/>
<rect x="191.31" y="202.75" width="4.50" height="5.30" fill="#e3851f"/>
<rect x="196.48" y="202.75" width="4.50" height="5.30" fill="#e3851f"/>
<rect x="201.65" y="202.75" width="4.50" height="5.30" fill="#a31a2e"/>
<rect x="206.82" y="202.75" width="4.50" height="5.30" fill="#f2f2f3"/>
<rect x="211.99" y="202.75" width="4.50" height="5.30" fill="#f2f2f3"/>
<rect x="217.16" y="202.75" width="4.50" height="5.30" fill="#f2f2f3"/>
<rect x="222.33" y="202.75" width="4.50" height="5.30" fill="#f2f2f3"/>
<rect x="227.50" y="202.75" width="4.50" height="5.30" fill="#f2f2f3"/>
<rect x="232.67" y="202.75" width="4.50" height="5.30" fill="#f2f2f3"/>
<rect x="237.84" y="202.75" width="4.50" height="5.30" fill="#f2f2f3"/>
<text x="44.80" y="213.10" font-size="4.6" text-anchor="end" font-style="italic" fill="#4a4a4a" text-rendering="geometricPrecision" stroke="#4a4a4a" stroke-width="0.04">Ikzf1</text>
<rect x="46.55" y="208.85" width="4.50" height="5.30" fill="#f2f2f3"/>
<rect x="51.72" y="208.85" width="4.50" height="5.30" fill="#f2f2f3"/>
<rect x="56.89" y="208.85" width="4.50" height="5.30" fill="#f2f2f3"/>
<rect x="62.06" y="208.85" width="4.50" height="5.30" fill="#f2f2f3"/>
<rect x="67.23" y="208.85" width="4.50" height="5.30" fill="#f2f2f3"/>
<rect x="72.40" y="208.85" width="4.50" height="5.30" fill="#f2f2f3"/>
<rect x="77.57" y="208.85" width="4.50" height="5.30" fill="#f2f2f3"/>
<rect x="82.74" y="208.85" width="4.50" height="5.30" fill="#f2f2f3"/>
<rect x="87.91" y="208.85" width="4.50" height="5.30" fill="#f2f2f3"/>
<rect x="93.08" y="208.85" width="4.50" height="5.30" fill="#f2f2f3"/>
<rect x="98.25" y="208.85" width="4.50" height="5.30" fill="#f2f2f3"/>
<rect x="103.42" y="208.85" width="4.50" height="5.30" fill="#f2f2f3"/>
<rect x="108.59" y="208.85" width="4.50" height="5.30" fill="#f2f2f3"/>
<rect x="113.76" y="208.85" width="4.50" height="5.30" fill="#f2f2f3"/>
<rect x="118.93" y="208.85" width="4.50" height="5.30" fill="#f2f2f3"/>
<rect x="124.10" y="208.85" width="4.50" height="5.30" fill="#f4df26"/>
<rect x="129.27" y="208.85" width="4.50" height="5.30" fill="#a31a2e"/>
<rect x="134.44" y="208.85" width="4.50" height="5.30" fill="#f2f2f3"/>
<rect x="139.61" y="208.85" width="4.50" height="5.30" fill="#f2f2f3"/>
<rect x="144.78" y="208.85" width="4.50" height="5.30" fill="#f2f2f3"/>
<rect x="149.95" y="208.85" width="4.50" height="5.30" fill="#f2f2f3"/>
<rect x="155.12" y="208.85" width="4.50" height="5.30" fill="#f2f2f3"/>
<rect x="160.29" y="208.85" width="4.50" height="5.30" fill="#f2f2f3"/>
<rect x="165.46" y="208.85" width="4.50" height="5.30" fill="#f2f2f3"/>
<rect x="170.63" y="208.85" width="4.50" height="5.30" fill="#f2f2f3"/>
<rect x="175.80" y="208.85" width="4.50" height="5.30" fill="#f2f2f3"/>
<rect x="180.97" y="208.85" width="4.50" height="5.30" fill="#f4df26"/>
<rect x="186.14" y="208.85" width="4.50" height="5.30" fill="#a31a2e"/>
<rect x="191.31" y="208.85" width="4.50" height="5.30" fill="#a31a2e"/>
<rect x="196.48" y="208.85" width="4.50" height="5.30" fill="#e3851f"/>
<rect x="201.65" y="208.85" width="4.50" height="5.30" fill="#f2f2f3"/>
<rect x="206.82" y="208.85" width="4.50" height="5.30" fill="#f2f2f3"/>
<rect x="211.99" y="208.85" width="4.50" height="5.30" fill="#f2f2f3"/>
<rect x="217.16" y="208.85" width="4.50" height="5.30" fill="#f2f2f3"/>
<rect x="222.33" y="208.85" width="4.50" height="5.30" fill="#f2f2f3"/>
<rect x="227.50" y="208.85" width="4.50" height="5.30" fill="#f2f2f3"/>
<rect x="232.67" y="208.85" width="4.50" height="5.30" fill="#f2f2f3"/>
<rect x="237.84" y="208.85" width="4.50" height="5.30" fill="#f2f2f3"/>
<text x="44.80" y="219.20" font-size="4.6" text-anchor="end" font-style="italic" fill="#4a4a4a" text-rendering="geometricPrecision" stroke="#4a4a4a" stroke-width="0.04">Erg</text>
<rect x="46.55" y="214.95" width="4.50" height="5.30" fill="#f2f2f3"/>
<rect x="51.72" y="214.95" width="4.50" height="5.30" fill="#f2f2f3"/>
<rect x="56.89" y="214.95" width="4.50" height="5.30" fill="#f2f2f3"/>
<rect x="62.06" y="214.95" width="4.50" height="5.30" fill="#f2f2f3"/>
<rect x="67.23" y="214.95" width="4.50" height="5.30" fill="#f2f2f3"/>
<rect x="72.40" y="214.95" width="4.50" height="5.30" fill="#f2f2f3"/>
<rect x="77.57" y="214.95" width="4.50" height="5.30" fill="#f2f2f3"/>
<rect x="82.74" y="214.95" width="4.50" height="5.30" fill="#f2f2f3"/>
<rect x="87.91" y="214.95" width="4.50" height="5.30" fill="#f2f2f3"/>
<rect x="93.08" y="214.95" width="4.50" height="5.30" fill="#f2f2f3"/>
<rect x="98.25" y="214.95" width="4.50" height="5.30" fill="#f2f2f3"/>
<rect x="103.42" y="214.95" width="4.50" height="5.30" fill="#f2f2f3"/>
<rect x="108.59" y="214.95" width="4.50" height="5.30" fill="#f2f2f3"/>
<rect x="113.76" y="214.95" width="4.50" height="5.30" fill="#d8342a"/>
<rect x="118.93" y="214.95" width="4.50" height="5.30" fill="#f4df26"/>
<rect x="124.10" y="214.95" width="4.50" height="5.30" fill="#d8342a"/>
<rect x="129.27" y="214.95" width="4.50" height="5.30" fill="#f2f2f3"/>
<rect x="134.44" y="214.95" width="4.50" height="5.30" fill="#f2f2f3"/>
<rect x="139.61" y="214.95" width="4.50" height="5.30" fill="#f2f2f3"/>
<rect x="144.78" y="214.95" width="4.50" height="5.30" fill="#f2f2f3"/>
<rect x="149.95" y="214.95" width="4.50" height="5.30" fill="#f2f2f3"/>
<rect x="155.12" y="214.95" width="4.50" height="5.30" fill="#f2f2f3"/>
<rect x="160.29" y="214.95" width="4.50" height="5.30" fill="#f2f2f3"/>
<rect x="165.46" y="214.95" width="4.50" height="5.30" fill="#f2f2f3"/>
<rect x="170.63" y="214.95" width="4.50" height="5.30" fill="#f2f2f3"/>
<rect x="175.80" y="214.95" width="4.50" height="5.30" fill="#f2f2f3"/>
<rect x="180.97" y="214.95" width="4.50" height="5.30" fill="#f2f2f3"/>
<rect x="186.14" y="214.95" width="4.50" height="5.30" fill="#f2f2f3"/>
<rect x="191.31" y="214.95" width="4.50" height="5.30" fill="#f2f2f3"/>
<rect x="196.48" y="214.95" width="4.50" height="5.30" fill="#e3851f"/>
<rect x="201.65" y="214.95" width="4.50" height="5.30" fill="#e3851f"/>
<rect x="206.82" y="214.95" width="4.50" height="5.30" fill="#f4df26"/>
<rect x="211.99" y="214.95" width="4.50" height="5.30" fill="#f2f2f3"/>
<rect x="217.16" y="214.95" width="4.50" height="5.30" fill="#f2f2f3"/>
<rect x="222.33" y="214.95" width="4.50" height="5.30" fill="#f2f2f3"/>
<rect x="227.50" y="214.95" width="4.50" height="5.30" fill="#f2f2f3"/>
<rect x="232.67" y="214.95" width="4.50" height="5.30" fill="#a31a2e"/>
<rect x="237.84" y="214.95" width="4.50" height="5.30" fill="#f2f2f3"/>
<text x="44.80" y="225.30" font-size="4.6" text-anchor="end" font-style="italic" fill="#4a4a4a" text-rendering="geometricPrecision" stroke="#4a4a4a" stroke-width="0.04">Fli1</text>
<rect x="46.55" y="221.05" width="4.50" height="5.30" fill="#f2f2f3"/>
<rect x="51.72" y="221.05" width="4.50" height="5.30" fill="#f2f2f3"/>
<rect x="56.89" y="221.05" width="4.50" height="5.30" fill="#f2f2f3"/>
<rect x="62.06" y="221.05" width="4.50" height="5.30" fill="#f2f2f3"/>
<rect x="67.23" y="221.05" width="4.50" height="5.30" fill="#f2f2f3"/>
<rect x="72.40" y="221.05" width="4.50" height="5.30" fill="#f2f2f3"/>
<rect x="77.57" y="221.05" width="4.50" height="5.30" fill="#f2f2f3"/>
<rect x="82.74" y="221.05" width="4.50" height="5.30" fill="#f2f2f3"/>
<rect x="87.91" y="221.05" width="4.50" height="5.30" fill="#f2f2f3"/>
<rect x="93.08" y="221.05" width="4.50" height="5.30" fill="#f2f2f3"/>
<rect x="98.25" y="221.05" width="4.50" height="5.30" fill="#f2f2f3"/>
<rect x="103.42" y="221.05" width="4.50" height="5.30" fill="#f2f2f3"/>
<rect x="108.59" y="221.05" width="4.50" height="5.30" fill="#f2f2f3"/>
<rect x="113.76" y="221.05" width="4.50" height="5.30" fill="#f2f2f3"/>
<rect x="118.93" y="221.05" width="4.50" height="5.30" fill="#f2f2f3"/>
<rect x="124.10" y="221.05" width="4.50" height="5.30" fill="#f4df26"/>
<rect x="129.27" y="221.05" width="4.50" height="5.30" fill="#f4df26"/>
<rect x="134.44" y="221.05" width="4.50" height="5.30" fill="#f2f2f3"/>
<rect x="139.61" y="221.05" width="4.50" height="5.30" fill="#f2f2f3"/>
<rect x="144.78" y="221.05" width="4.50" height="5.30" fill="#f2f2f3"/>
<rect x="149.95" y="221.05" width="4.50" height="5.30" fill="#f2f2f3"/>
<rect x="155.12" y="221.05" width="4.50" height="5.30" fill="#f4df26"/>
<rect x="160.29" y="221.05" width="4.50" height="5.30" fill="#f2f2f3"/>
<rect x="165.46" y="221.05" width="4.50" height="5.30" fill="#f2f2f3"/>
<rect x="170.63" y="221.05" width="4.50" height="5.30" fill="#f2f2f3"/>
<rect x="175.80" y="221.05" width="4.50" height="5.30" fill="#f4df26"/>
<rect x="180.97" y="221.05" width="4.50" height="5.30" fill="#f2f2f3"/>
<rect x="186.14" y="221.05" width="4.50" height="5.30" fill="#f4df26"/>
<rect x="191.31" y="221.05" width="4.50" height="5.30" fill="#eba040"/>
<rect x="196.48" y="221.05" width="4.50" height="5.30" fill="#f2f2f3"/>
<rect x="201.65" y="221.05" width="4.50" height="5.30" fill="#f2f2f3"/>
<rect x="206.82" y="221.05" width="4.50" height="5.30" fill="#f2f2f3"/>
<rect x="211.99" y="221.05" width="4.50" height="5.30" fill="#f2f2f3"/>
<rect x="217.16" y="221.05" width="4.50" height="5.30" fill="#f2f2f3"/>
<rect x="222.33" y="221.05" width="4.50" height="5.30" fill="#f2f2f3"/>
<rect x="227.50" y="221.05" width="4.50" height="5.30" fill="#f2f2f3"/>
<rect x="232.67" y="221.05" width="4.50" height="5.30" fill="#f2f2f3"/>
<rect x="237.84" y="221.05" width="4.50" height="5.30" fill="#f2f2f3"/>
<text x="44.80" y="231.40" font-size="4.6" text-anchor="end" font-style="italic" fill="#4a4a4a" text-rendering="geometricPrecision" stroke="#4a4a4a" stroke-width="0.04">Runx1</text>
<rect x="46.55" y="227.15" width="4.50" height="5.30" fill="#f2f2f3"/>
<rect x="51.72" y="227.15" width="4.50" height="5.30" fill="#f2f2f3"/>
<rect x="56.89" y="227.15" width="4.50" height="5.30" fill="#f2f2f3"/>
<rect x="62.06" y="227.15" width="4.50" height="5.30" fill="#f2f2f3"/>
<rect x="67.23" y="227.15" width="4.50" height="5.30" fill="#f2f2f3"/>
<rect x="72.40" y="227.15" width="4.50" height="5.30" fill="#f2f2f3"/>
<rect x="77.57" y="227.15" width="4.50" height="5.30" fill="#f2f2f3"/>
<rect x="82.74" y="227.15" width="4.50" height="5.30" fill="#f2f2f3"/>
<rect x="87.91" y="227.15" width="4.50" height="5.30" fill="#f2f2f3"/>
<rect x="93.08" y="227.15" width="4.50" height="5.30" fill="#f2f2f3"/>
<rect x="98.25" y="227.15" width="4.50" height="5.30" fill="#f2f2f3"/>
<rect x="103.42" y="227.15" width="4.50" height="5.30" fill="#f4df26"/>
<rect x="108.59" y="227.15" width="4.50" height="5.30" fill="#f4df26"/>
<rect x="113.76" y="227.15" width="4.50" height="5.30" fill="#f2f2f3"/>
<rect x="118.93" y="227.15" width="4.50" height="5.30" fill="#f2f2f3"/>
<rect x="124.10" y="227.15" width="4.50" height="5.30" fill="#f2f2f3"/>
<rect x="129.27" y="227.15" width="4.50" height="5.30" fill="#f2f2f3"/>
<rect x="134.44" y="227.15" width="4.50" height="5.30" fill="#f2f2f3"/>
<rect x="139.61" y="227.15" width="4.50" height="5.30" fill="#f2f2f3"/>
<rect x="144.78" y="227.15" width="4.50" height="5.30" fill="#f2f2f3"/>
<rect x="149.95" y="227.15" width="4.50" height="5.30" fill="#f2f2f3"/>
<rect x="155.12" y="227.15" width="4.50" height="5.30" fill="#f2f2f3"/>
<rect x="160.29" y="227.15" width="4.50" height="5.30" fill="#f2f2f3"/>
<rect x="165.46" y="227.15" width="4.50" height="5.30" fill="#f2f2f3"/>
<rect x="170.63" y="227.15" width="4.50" height="5.30" fill="#f2f2f3"/>
<rect x="175.80" y="227.15" width="4.50" height="5.30" fill="#f2f2f3"/>
<rect x="180.97" y="227.15" width="4.50" height="5.30" fill="#f2f2f3"/>
<rect x="186.14" y="227.15" width="4.50" height="5.30" fill="#f2f2f3"/>
<rect x="191.31" y="227.15" width="4.50" height="5.30" fill="#f2f2f3"/>
<rect x="196.48" y="227.15" width="4.50" height="5.30" fill="#f2f2f3"/>
<rect x="201.65" y="227.15" width="4.50" height="5.30" fill="#f2f2f3"/>
<rect x="206.82" y="227.15" width="4.50" height="5.30" fill="#f2f2f3"/>
<rect x="211.99" y="227.15" width="4.50" height="5.30" fill="#f4df26"/>
<rect x="217.16" y="227.15" width="4.50" height="5.30" fill="#a31a2e"/>
<rect x="222.33" y="227.15" width="4.50" height="5.30" fill="#f2f2f3"/>
<rect x="227.50" y="227.15" width="4.50" height="5.30" fill="#eba040"/>
<rect x="232.67" y="227.15" width="4.50" height="5.30" fill="#f2f2f3"/>
<rect x="237.84" y="227.15" width="4.50" height="5.30" fill="#f2f2f3"/>
<text x="44.80" y="237.50" font-size="4.6" text-anchor="end" font-style="italic" fill="#4a4a4a" text-rendering="geometricPrecision" stroke="#4a4a4a" stroke-width="0.04">Lincpint/Mir-29a/b-1</text>
<rect x="46.55" y="233.25" width="4.50" height="5.30" fill="#f2f2f3"/>
<rect x="51.72" y="233.25" width="4.50" height="5.30" fill="#f2f2f3"/>
<rect x="56.89" y="233.25" width="4.50" height="5.30" fill="#f2f2f3"/>
<rect x="62.06" y="233.25" width="4.50" height="5.30" fill="#f2f2f3"/>
<rect x="67.23" y="233.25" width="4.50" height="5.30" fill="#f2f2f3"/>
<rect x="72.40" y="233.25" width="4.50" height="5.30" fill="#f2f2f3"/>
<rect x="77.57" y="233.25" width="4.50" height="5.30" fill="#f2f2f3"/>
<rect x="82.74" y="233.25" width="4.50" height="5.30" fill="#f2f2f3"/>
<rect x="87.91" y="233.25" width="4.50" height="5.30" fill="#f2f2f3"/>
<rect x="93.08" y="233.25" width="4.50" height="5.30" fill="#f2f2f3"/>
<rect x="98.25" y="233.25" width="4.50" height="5.30" fill="#f2f2f3"/>
<rect x="103.42" y="233.25" width="4.50" height="5.30" fill="#f2f2f3"/>
<rect x="108.59" y="233.25" width="4.50" height="5.30" fill="#f2f2f3"/>
<rect x="113.76" y="233.25" width="4.50" height="5.30" fill="#f4df26"/>
<rect x="118.93" y="233.25" width="4.50" height="5.30" fill="#f2f2f3"/>
<rect x="124.10" y="233.25" width="4.50" height="5.30" fill="#f2f2f3"/>
<rect x="129.27" y="233.25" width="4.50" height="5.30" fill="#f2f2f3"/>
<rect x="134.44" y="233.25" width="4.50" height="5.30" fill="#f2f2f3"/>
<rect x="139.61" y="233.25" width="4.50" height="5.30" fill="#e3851f"/>
<rect x="144.78" y="233.25" width="4.50" height="5.30" fill="#f2f2f3"/>
<rect x="149.95" y="233.25" width="4.50" height="5.30" fill="#f2f2f3"/>
<rect x="155.12" y="233.25" width="4.50" height="5.30" fill="#f4df26"/>
<rect x="160.29" y="233.25" width="4.50" height="5.30" fill="#f2f2f3"/>
<rect x="165.46" y="233.25" width="4.50" height="5.30" fill="#f2f2f3"/>
<rect x="170.63" y="233.25" width="4.50" height="5.30" fill="#f2f2f3"/>
<rect x="175.80" y="233.25" width="4.50" height="5.30" fill="#f2f2f3"/>
<rect x="180.97" y="233.25" width="4.50" height="5.30" fill="#f2f2f3"/>
<rect x="186.14" y="233.25" width="4.50" height="5.30" fill="#f2f2f3"/>
<rect x="191.31" y="233.25" width="4.50" height="5.30" fill="#f2f2f3"/>
<rect x="196.48" y="233.25" width="4.50" height="5.30" fill="#f2f2f3"/>
<rect x="201.65" y="233.25" width="4.50" height="5.30" fill="#e3851f"/>
<rect x="206.82" y="233.25" width="4.50" height="5.30" fill="#f2f2f3"/>
<rect x="211.99" y="233.25" width="4.50" height="5.30" fill="#d8342a"/>
<rect x="217.16" y="233.25" width="4.50" height="5.30" fill="#f2f2f3"/>
<rect x="222.33" y="233.25" width="4.50" height="5.30" fill="#f2f2f3"/>
<rect x="227.50" y="233.25" width="4.50" height="5.30" fill="#f2f2f3"/>
<rect x="232.67" y="233.25" width="4.50" height="5.30" fill="#f2f2f3"/>
<rect x="237.84" y="233.25" width="4.50" height="5.30" fill="#a31a2e"/>
<text x="44.80" y="243.60" font-size="4.6" text-anchor="end" font-style="italic" fill="#4a4a4a" text-rendering="geometricPrecision" stroke="#4a4a4a" stroke-width="0.04">Epc2</text>
<rect x="46.55" y="239.35" width="4.50" height="5.30" fill="#f2f2f3"/>
<rect x="51.72" y="239.35" width="4.50" height="5.30" fill="#f2f2f3"/>
<rect x="56.89" y="239.35" width="4.50" height="5.30" fill="#f2f2f3"/>
<rect x="62.06" y="239.35" width="4.50" height="5.30" fill="#f2f2f3"/>
<rect x="67.23" y="239.35" width="4.50" height="5.30" fill="#f2f2f3"/>
<rect x="72.40" y="239.35" width="4.50" height="5.30" fill="#f2f2f3"/>
<rect x="77.57" y="239.35" width="4.50" height="5.30" fill="#f2f2f3"/>
<rect x="82.74" y="239.35" width="4.50" height="5.30" fill="#f2f2f3"/>
<rect x="87.91" y="239.35" width="4.50" height="5.30" fill="#f2f2f3"/>
<rect x="93.08" y="239.35" width="4.50" height="5.30" fill="#f2f2f3"/>
<rect x="98.25" y="239.35" width="4.50" height="5.30" fill="#f2f2f3"/>
<rect x="103.42" y="239.35" width="4.50" height="5.30" fill="#f2f2f3"/>
<rect x="108.59" y="239.35" width="4.50" height="5.30" fill="#f2f2f3"/>
<rect x="113.76" y="239.35" width="4.50" height="5.30" fill="#f2f2f3"/>
<rect x="118.93" y="239.35" width="4.50" height="5.30" fill="#f2f2f3"/>
<rect x="124.10" y="239.35" width="4.50" height="5.30" fill="#f2f2f3"/>
<rect x="129.27" y="239.35" width="4.50" height="5.30" fill="#f2f2f3"/>
<rect x="134.44" y="239.35" width="4.50" height="5.30" fill="#f2f2f3"/>
<rect x="139.61" y="239.35" width="4.50" height="5.30" fill="#d8342a"/>
<rect x="144.78" y="239.35" width="4.50" height="5.30" fill="#f4df26"/>
<rect x="149.95" y="239.35" width="4.50" height="5.30" fill="#a31a2e"/>
<rect x="155.12" y="239.35" width="4.50" height="5.30" fill="#f2f2f3"/>
<rect x="160.29" y="239.35" width="4.50" height="5.30" fill="#f2f2f3"/>
<rect x="165.46" y="239.35" width="4.50" height="5.30" fill="#f2f2f3"/>
<rect x="170.63" y="239.35" width="4.50" height="5.30" fill="#f2f2f3"/>
<rect x="175.80" y="239.35" width="4.50" height="5.30" fill="#f2f2f3"/>
<rect x="180.97" y="239.35" width="4.50" height="5.30" fill="#f2f2f3"/>
<rect x="186.14" y="239.35" width="4.50" height="5.30" fill="#f2f2f3"/>
<rect x="191.31" y="239.35" width="4.50" height="5.30" fill="#f2f2f3"/>
<rect x="196.48" y="239.35" width="4.50" height="5.30" fill="#f2f2f3"/>
<rect x="201.65" y="239.35" width="4.50" height="5.30" fill="#f2f2f3"/>
<rect x="206.82" y="239.35" width="4.50" height="5.30" fill="#f2f2f3"/>
<rect x="211.99" y="239.35" width="4.50" height="5.30" fill="#f2f2f3"/>
<rect x="217.16" y="239.35" width="4.50" height="5.30" fill="#f2f2f3"/>
<rect x="222.33" y="239.35" width="4.50" height="5.30" fill="#f2f2f3"/>
<rect x="227.50" y="239.35" width="4.50" height="5.30" fill="#f2f2f3"/>
<rect x="232.67" y="239.35" width="4.50" height="5.30" fill="#f2f2f3"/>
<rect x="237.84" y="239.35" width="4.50" height="5.30" fill="#f2f2f3"/>
<text x="44.80" y="249.70" font-size="4.6" text-anchor="end" font-style="italic" fill="#4a4a4a" text-rendering="geometricPrecision" stroke="#4a4a4a" stroke-width="0.04">Bcor</text>
<rect x="46.55" y="245.45" width="4.50" height="5.30" fill="#f2f2f3"/>
<rect x="51.72" y="245.45" width="4.50" height="5.30" fill="#f2f2f3"/>
<rect x="56.89" y="245.45" width="4.50" height="5.30" fill="#f2f2f3"/>
<rect x="62.06" y="245.45" width="4.50" height="5.30" fill="#f2f2f3"/>
<rect x="67.23" y="245.45" width="4.50" height="5.30" fill="#f2f2f3"/>
<rect x="72.40" y="245.45" width="4.50" height="5.30" fill="#f2f2f3"/>
<rect x="77.57" y="245.45" width="4.50" height="5.30" fill="#f2f2f3"/>
<rect x="82.74" y="245.45" width="4.50" height="5.30" fill="#f2f2f3"/>
<rect x="87.91" y="245.45" width="4.50" height="5.30" fill="#f2f2f3"/>
<rect x="93.08" y="245.45" width="4.50" height="5.30" fill="#f2f2f3"/>
<rect x="98.25" y="245.45" width="4.50" height="5.30" fill="#f2f2f3"/>
<rect x="103.42" y="245.45" width="4.50" height="5.30" fill="#f2f2f3"/>
<rect x="108.59" y="245.45" width="4.50" height="5.30" fill="#f2f2f3"/>
<rect x="113.76" y="245.45" width="4.50" height="5.30" fill="#f2f2f3"/>
<rect x="118.93" y="245.45" width="4.50" height="5.30" fill="#f2f2f3"/>
<rect x="124.10" y="245.45" width="4.50" height="5.30" fill="#f2f2f3"/>
<rect x="129.27" y="245.45" width="4.50" height="5.30" fill="#f2f2f3"/>
<rect x="134.44" y="245.45" width="4.50" height="5.30" fill="#f2f2f3"/>
<rect x="139.61" y="245.45" width="4.50" height="5.30" fill="#f2f2f3"/>
<rect x="144.78" y="245.45" width="4.50" height="5.30" fill="#f2f2f3"/>
<rect x="149.95" y="245.45" width="4.50" height="5.30" fill="#f2f2f3"/>
<rect x="155.12" y="245.45" width="4.50" height="5.30" fill="#f4df26"/>
<rect x="160.29" y="245.45" width="4.50" height="5.30" fill="#f2f2f3"/>
<rect x="165.46" y="245.45" width="4.50" height="5.30" fill="#f2f2f3"/>
<rect x="170.63" y="245.45" width="4.50" height="5.30" fill="#f2f2f3"/>
<rect x="175.80" y="245.45" width="4.50" height="5.30" fill="#f2f2f3"/>
<rect x="180.97" y="245.45" width="4.50" height="5.30" fill="#f2f2f3"/>
<rect x="186.14" y="245.45" width="4.50" height="5.30" fill="#f2f2f3"/>
<rect x="191.31" y="245.45" width="4.50" height="5.30" fill="#f4df26"/>
<rect x="196.48" y="245.45" width="4.50" height="5.30" fill="#f2f2f3"/>
<rect x="201.65" y="245.45" width="4.50" height="5.30" fill="#e3851f"/>
<rect x="206.82" y="245.45" width="4.50" height="5.30" fill="#f2f2f3"/>
<rect x="211.99" y="245.45" width="4.50" height="5.30" fill="#f2f2f3"/>
<rect x="217.16" y="245.45" width="4.50" height="5.30" fill="#f2f2f3"/>
<rect x="222.33" y="245.45" width="4.50" height="5.30" fill="#f2f2f3"/>
<rect x="227.50" y="245.45" width="4.50" height="5.30" fill="#f2f2f3"/>
<rect x="232.67" y="245.45" width="4.50" height="5.30" fill="#f2f2f3"/>
<rect x="237.84" y="245.45" width="4.50" height="5.30" fill="#f2f2f3"/>
<text x="44.80" y="255.80" font-size="4.6" text-anchor="end" font-style="italic" fill="#4a4a4a" text-rendering="geometricPrecision" stroke="#4a4a4a" stroke-width="0.04">Myb</text>
<rect x="46.55" y="251.55" width="4.50" height="5.30" fill="#f2f2f3"/>
<rect x="51.72" y="251.55" width="4.50" height="5.30" fill="#f2f2f3"/>
<rect x="56.89" y="251.55" width="4.50" height="5.30" fill="#f2f2f3"/>
<rect x="62.06" y="251.55" width="4.50" height="5.30" fill="#f2f2f3"/>
<rect x="67.23" y="251.55" width="4.50" height="5.30" fill="#f2f2f3"/>
<rect x="72.40" y="251.55" width="4.50" height="5.30" fill="#f2f2f3"/>
<rect x="77.57" y="251.55" width="4.50" height="5.30" fill="#f2f2f3"/>
<rect x="82.74" y="251.55" width="4.50" height="5.30" fill="#f2f2f3"/>
<rect x="87.91" y="251.55" width="4.50" height="5.30" fill="#f2f2f3"/>
<rect x="93.08" y="251.55" width="4.50" height="5.30" fill="#f2f2f3"/>
<rect x="98.25" y="251.55" width="4.50" height="5.30" fill="#f2f2f3"/>
<rect x="103.42" y="251.55" width="4.50" height="5.30" fill="#f2f2f3"/>
<rect x="108.59" y="251.55" width="4.50" height="5.30" fill="#f2f2f3"/>
<rect x="113.76" y="251.55" width="4.50" height="5.30" fill="#f2f2f3"/>
<rect x="118.93" y="251.55" width="4.50" height="5.30" fill="#f2f2f3"/>
<rect x="124.10" y="251.55" width="4.50" height="5.30" fill="#f4df26"/>
<rect x="129.27" y="251.55" width="4.50" height="5.30" fill="#f2f2f3"/>
<rect x="134.44" y="251.55" width="4.50" height="5.30" fill="#f2f2f3"/>
<rect x="139.61" y="251.55" width="4.50" height="5.30" fill="#f2f2f3"/>
<rect x="144.78" y="251.55" width="4.50" height="5.30" fill="#f2f2f3"/>
<rect x="149.95" y="251.55" width="4.50" height="5.30" fill="#f2f2f3"/>
<rect x="155.12" y="251.55" width="4.50" height="5.30" fill="#f2f2f3"/>
<rect x="160.29" y="251.55" width="4.50" height="5.30" fill="#f2f2f3"/>
<rect x="165.46" y="251.55" width="4.50" height="5.30" fill="#f2f2f3"/>
<rect x="170.63" y="251.55" width="4.50" height="5.30" fill="#f2f2f3"/>
<rect x="175.80" y="251.55" width="4.50" height="5.30" fill="#f2f2f3"/>
<rect x="180.97" y="251.55" width="4.50" height="5.30" fill="#f4df26"/>
<rect x="186.14" y="251.55" width="4.50" height="5.30" fill="#f2f2f3"/>
<rect x="191.31" y="251.55" width="4.50" height="5.30" fill="#f2f2f3"/>
<rect x="196.48" y="251.55" width="4.50" height="5.30" fill="#f2f2f3"/>
<rect x="201.65" y="251.55" width="4.50" height="5.30" fill="#f2f2f3"/>
<rect x="206.82" y="251.55" width="4.50" height="5.30" fill="#f2f2f3"/>
<rect x="211.99" y="251.55" width="4.50" height="5.30" fill="#f2f2f3"/>
<rect x="217.16" y="251.55" width="4.50" height="5.30" fill="#f4df26"/>
<rect x="222.33" y="251.55" width="4.50" height="5.30" fill="#f2f2f3"/>
<rect x="227.50" y="251.55" width="4.50" height="5.30" fill="#f2f2f3"/>
<rect x="232.67" y="251.55" width="4.50" height="5.30" fill="#f2f2f3"/>
<rect x="237.84" y="251.55" width="4.50" height="5.30" fill="#f2f2f3"/>
<text x="44.80" y="261.90" font-size="4.6" text-anchor="end" font-style="italic" fill="#4a4a4a" text-rendering="geometricPrecision" stroke="#4a4a4a" stroke-width="0.04">Nup160</text>
<rect x="46.55" y="257.65" width="4.50" height="5.30" fill="#f2f2f3"/>
<rect x="51.72" y="257.65" width="4.50" height="5.30" fill="#f2f2f3"/>
<rect x="56.89" y="257.65" width="4.50" height="5.30" fill="#f2f2f3"/>
<rect x="62.06" y="257.65" width="4.50" height="5.30" fill="#f2f2f3"/>
<rect x="67.23" y="257.65" width="4.50" height="5.30" fill="#f2f2f3"/>
<rect x="72.40" y="257.65" width="4.50" height="5.30" fill="#f2f2f3"/>
<rect x="77.57" y="257.65" width="4.50" height="5.30" fill="#f2f2f3"/>
<rect x="82.74" y="257.65" width="4.50" height="5.30" fill="#f2f2f3"/>
<rect x="87.91" y="257.65" width="4.50" height="5.30" fill="#f2f2f3"/>
<rect x="93.08" y="257.65" width="4.50" height="5.30" fill="#f2f2f3"/>
<rect x="98.25" y="257.65" width="4.50" height="5.30" fill="#f2f2f3"/>
<rect x="103.42" y="257.65" width="4.50" height="5.30" fill="#f2f2f3"/>
<rect x="108.59" y="257.65" width="4.50" height="5.30" fill="#f2f2f3"/>
<rect x="113.76" y="257.65" width="4.50" height="5.30" fill="#f2f2f3"/>
<rect x="118.93" y="257.65" width="4.50" height="5.30" fill="#f2f2f3"/>
<rect x="124.10" y="257.65" width="4.50" height="5.30" fill="#f2f2f3"/>
<rect x="129.27" y="257.65" width="4.50" height="5.30" fill="#f2f2f3"/>
<rect x="134.44" y="257.65" width="4.50" height="5.30" fill="#f2f2f3"/>
<rect x="139.61" y="257.65" width="4.50" height="5.30" fill="#f2f2f3"/>
<rect x="144.78" y="257.65" width="4.50" height="5.30" fill="#f2f2f3"/>
<rect x="149.95" y="257.65" width="4.50" height="5.30" fill="#f2f2f3"/>
<rect x="155.12" y="257.65" width="4.50" height="5.30" fill="#f2f2f3"/>
<rect x="160.29" y="257.65" width="4.50" height="5.30" fill="#f2f2f3"/>
<rect x="165.46" y="257.65" width="4.50" height="5.30" fill="#f2f2f3"/>
<rect x="170.63" y="257.65" width="4.50" height="5.30" fill="#e3851f"/>
<rect x="175.80" y="257.65" width="4.50" height="5.30" fill="#f2f2f3"/>
<rect x="180.97" y="257.65" width="4.50" height="5.30" fill="#f2f2f3"/>
<rect x="186.14" y="257.65" width="4.50" height="5.30" fill="#f2f2f3"/>
<rect x="191.31" y="257.65" width="4.50" height="5.30" fill="#f2f2f3"/>
<rect x="196.48" y="257.65" width="4.50" height="5.30" fill="#f2f2f3"/>
<rect x="201.65" y="257.65" width="4.50" height="5.30" fill="#e3851f"/>
<rect x="206.82" y="257.65" width="4.50" height="5.30" fill="#f2f2f3"/>
<rect x="211.99" y="257.65" width="4.50" height="5.30" fill="#f2f2f3"/>
<rect x="217.16" y="257.65" width="4.50" height="5.30" fill="#f2f2f3"/>
<rect x="222.33" y="257.65" width="4.50" height="5.30" fill="#f2f2f3"/>
<rect x="227.50" y="257.65" width="4.50" height="5.30" fill="#f2f2f3"/>
<rect x="232.67" y="257.65" width="4.50" height="5.30" fill="#f2f2f3"/>
<rect x="237.84" y="257.65" width="4.50" height="5.30" fill="#f2f2f3"/>
<text x="44.80" y="268.00" font-size="4.6" text-anchor="end" font-style="italic" fill="#4a4a4a" text-rendering="geometricPrecision" stroke="#4a4a4a" stroke-width="0.04">GM10800</text>
<rect x="46.55" y="263.75" width="4.50" height="5.30" fill="#f2f2f3"/>
<rect x="51.72" y="263.75" width="4.50" height="5.30" fill="#f2f2f3"/>
<rect x="56.89" y="263.75" width="4.50" height="5.30" fill="#f2f2f3"/>
<rect x="62.06" y="263.75" width="4.50" height="5.30" fill="#f2f2f3"/>
<rect x="67.23" y="263.75" width="4.50" height="5.30" fill="#f2f2f3"/>
<rect x="72.40" y="263.75" width="4.50" height="5.30" fill="#f2f2f3"/>
<rect x="77.57" y="263.75" width="4.50" height="5.30" fill="#f2f2f3"/>
<rect x="82.74" y="263.75" width="4.50" height="5.30" fill="#f4df26"/>
<rect x="87.91" y="263.75" width="4.50" height="5.30" fill="#f4df26"/>
<rect x="93.08" y="263.75" width="4.50" height="5.30" fill="#f4df26"/>
<rect x="98.25" y="263.75" width="4.50" height="5.30" fill="#f2f2f3"/>
<rect x="103.42" y="263.75" width="4.50" height="5.30" fill="#f2f2f3"/>
<rect x="108.59" y="263.75" width="4.50" height="5.30" fill="#f2f2f3"/>
<rect x="113.76" y="263.75" width="4.50" height="5.30" fill="#f2f2f3"/>
<rect x="118.93" y="263.75" width="4.50" height="5.30" fill="#f2f2f3"/>
<rect x="124.10" y="263.75" width="4.50" height="5.30" fill="#f2f2f3"/>
<rect x="129.27" y="263.75" width="4.50" height="5.30" fill="#f2f2f3"/>
<rect x="134.44" y="263.75" width="4.50" height="5.30" fill="#f2f2f3"/>
<rect x="139.61" y="263.75" width="4.50" height="5.30" fill="#f2f2f3"/>
<rect x="144.78" y="263.75" width="4.50" height="5.30" fill="#f2f2f3"/>
<rect x="149.95" y="263.75" width="4.50" height="5.30" fill="#f2f2f3"/>
<rect x="155.12" y="263.75" width="4.50" height="5.30" fill="#f2f2f3"/>
<rect x="160.29" y="263.75" width="4.50" height="5.30" fill="#f2f2f3"/>
<rect x="165.46" y="263.75" width="4.50" height="5.30" fill="#f2f2f3"/>
<rect x="170.63" y="263.75" width="4.50" height="5.30" fill="#f2f2f3"/>
<rect x="175.80" y="263.75" width="4.50" height="5.30" fill="#f2f2f3"/>
<rect x="180.97" y="263.75" width="4.50" height="5.30" fill="#f2f2f3"/>
<rect x="186.14" y="263.75" width="4.50" height="5.30" fill="#f2f2f3"/>
<rect x="191.31" y="263.75" width="4.50" height="5.30" fill="#f2f2f3"/>
<rect x="196.48" y="263.75" width="4.50" height="5.30" fill="#f2f2f3"/>
<rect x="201.65" y="263.75" width="4.50" height="5.30" fill="#f2f2f3"/>
<rect x="206.82" y="263.75" width="4.50" height="5.30" fill="#f2f2f3"/>
<rect x="211.99" y="263.75" width="4.50" height="5.30" fill="#f2f2f3"/>
<rect x="217.16" y="263.75" width="4.50" height="5.30" fill="#f2f2f3"/>
<rect x="222.33" y="263.75" width="4.50" height="5.30" fill="#f2f2f3"/>
<rect x="227.50" y="263.75" width="4.50" height="5.30" fill="#f2f2f3"/>
<rect x="232.67" y="263.75" width="4.50" height="5.30" fill="#f2f2f3"/>
<rect x="237.84" y="263.75" width="4.50" height="5.30" fill="#f2f2f3"/>
<text x="44.80" y="274.10" font-size="4.6" text-anchor="end" font-style="italic" fill="#4a4a4a" text-rendering="geometricPrecision" stroke="#4a4a4a" stroke-width="0.04">Pdpr</text>
<rect x="46.55" y="269.85" width="4.50" height="5.30" fill="#f2f2f3"/>
<rect x="51.72" y="269.85" width="4.50" height="5.30" fill="#f2f2f3"/>
<rect x="56.89" y="269.85" width="4.50" height="5.30" fill="#f2f2f3"/>
<rect x="62.06" y="269.85" width="4.50" height="5.30" fill="#f2f2f3"/>
<rect x="67.23" y="269.85" width="4.50" height="5.30" fill="#f2f2f3"/>
<rect x="72.40" y="269.85" width="4.50" height="5.30" fill="#f2f2f3"/>
<rect x="77.57" y="269.85" width="4.50" height="5.30" fill="#f2f2f3"/>
<rect x="82.74" y="269.85" width="4.50" height="5.30" fill="#f2f2f3"/>
<rect x="87.91" y="269.85" width="4.50" height="5.30" fill="#f2f2f3"/>
<rect x="93.08" y="269.85" width="4.50" height="5.30" fill="#f2f2f3"/>
<rect x="98.25" y="269.85" width="4.50" height="5.30" fill="#f2f2f3"/>
<rect x="103.42" y="269.85" width="4.50" height="5.30" fill="#f2f2f3"/>
<rect x="108.59" y="269.85" width="4.50" height="5.30" fill="#f2f2f3"/>
<rect x="113.76" y="269.85" width="4.50" height="5.30" fill="#f2f2f3"/>
<rect x="118.93" y="269.85" width="4.50" height="5.30" fill="#f2f2f3"/>
<rect x="124.10" y="269.85" width="4.50" height="5.30" fill="#f2f2f3"/>
<rect x="129.27" y="269.85" width="4.50" height="5.30" fill="#f2f2f3"/>
<rect x="134.44" y="269.85" width="4.50" height="5.30" fill="#f2f2f3"/>
<rect x="139.61" y="269.85" width="4.50" height="5.30" fill="#f2f2f3"/>
<rect x="144.78" y="269.85" width="4.50" height="5.30" fill="#f2f2f3"/>
<rect x="149.95" y="269.85" width="4.50" height="5.30" fill="#f2f2f3"/>
<rect x="155.12" y="269.85" width="4.50" height="5.30" fill="#f2f2f3"/>
<rect x="160.29" y="269.85" width="4.50" height="5.30" fill="#f2f2f3"/>
<rect x="165.46" y="269.85" width="4.50" height="5.30" fill="#f2f2f3"/>
<rect x="170.63" y="269.85" width="4.50" height="5.30" fill="#f2f2f3"/>
<rect x="175.80" y="269.85" width="4.50" height="5.30" fill="#f2f2f3"/>
<rect x="180.97" y="269.85" width="4.50" height="5.30" fill="#f2f2f3"/>
<rect x="186.14" y="269.85" width="4.50" height="5.30" fill="#eba040"/>
<rect x="191.31" y="269.85" width="4.50" height="5.30" fill="#f2f2f3"/>
<rect x="196.48" y="269.85" width="4.50" height="5.30" fill="#f2f2f3"/>
<rect x="201.65" y="269.85" width="4.50" height="5.30" fill="#f2f2f3"/>
<rect x="206.82" y="269.85" width="4.50" height="5.30" fill="#e3851f"/>
<rect x="211.99" y="269.85" width="4.50" height="5.30" fill="#f2f2f3"/>
<rect x="217.16" y="269.85" width="4.50" height="5.30" fill="#f2f2f3"/>
<rect x="222.33" y="269.85" width="4.50" height="5.30" fill="#f2f2f3"/>
<rect x="227.50" y="269.85" width="4.50" height="5.30" fill="#f2f2f3"/>
<rect x="232.67" y="269.85" width="4.50" height="5.30" fill="#f2f2f3"/>
<rect x="237.84" y="269.85" width="4.50" height="5.30" fill="#f2f2f3"/>
<text x="44.80" y="280.20" font-size="4.6" text-anchor="end" font-style="italic" fill="#4a4a4a" text-rendering="geometricPrecision" stroke="#4a4a4a" stroke-width="0.04">Itm2b, UT</text>
<rect x="46.55" y="275.95" width="4.50" height="5.30" fill="#f2f2f3"/>
<rect x="51.72" y="275.95" width="4.50" height="5.30" fill="#f2f2f3"/>
<rect x="56.89" y="275.95" width="4.50" height="5.30" fill="#f2f2f3"/>
<rect x="62.06" y="275.95" width="4.50" height="5.30" fill="#f2f2f3"/>
<rect x="67.23" y="275.95" width="4.50" height="5.30" fill="#f2f2f3"/>
<rect x="72.40" y="275.95" width="4.50" height="5.30" fill="#f2f2f3"/>
<rect x="77.57" y="275.95" width="4.50" height="5.30" fill="#f2f2f3"/>
<rect x="82.74" y="275.95" width="4.50" height="5.30" fill="#f2f2f3"/>
<rect x="87.91" y="275.95" width="4.50" height="5.30" fill="#f2f2f3"/>
<rect x="93.08" y="275.95" width="4.50" height="5.30" fill="#f2f2f3"/>
<rect x="98.25" y="275.95" width="4.50" height="5.30" fill="#f2f2f3"/>
<rect x="103.42" y="275.95" width="4.50" height="5.30" fill="#f2f2f3"/>
<rect x="108.59" y="275.95" width="4.50" height="5.30" fill="#f2f2f3"/>
<rect x="113.76" y="275.95" width="4.50" height="5.30" fill="#f2f2f3"/>
<rect x="118.93" y="275.95" width="4.50" height="5.30" fill="#f2f2f3"/>
<rect x="124.10" y="275.95" width="4.50" height="5.30" fill="#f2f2f3"/>
<rect x="129.27" y="275.95" width="4.50" height="5.30" fill="#f2f2f3"/>
<rect x="134.44" y="275.95" width="4.50" height="5.30" fill="#f2f2f3"/>
<rect x="139.61" y="275.95" width="4.50" height="5.30" fill="#f2f2f3"/>
<rect x="144.78" y="275.95" width="4.50" height="5.30" fill="#f2f2f3"/>
<rect x="149.95" y="275.95" width="4.50" height="5.30" fill="#f2f2f3"/>
<rect x="155.12" y="275.95" width="4.50" height="5.30" fill="#f2f2f3"/>
<rect x="160.29" y="275.95" width="4.50" height="5.30" fill="#f2f2f3"/>
<rect x="165.46" y="275.95" width="4.50" height="5.30" fill="#f2f2f3"/>
<rect x="170.63" y="275.95" width="4.50" height="5.30" fill="#f2f2f3"/>
<rect x="175.80" y="275.95" width="4.50" height="5.30" fill="#f2f2f3"/>
<rect x="180.97" y="275.95" width="4.50" height="5.30" fill="#f2f2f3"/>
<rect x="186.14" y="275.95" width="4.50" height="5.30" fill="#f2f2f3"/>
<rect x="191.31" y="275.95" width="4.50" height="5.30" fill="#f4df26"/>
<rect x="196.48" y="275.95" width="4.50" height="5.30" fill="#f2f2f3"/>
<rect x="201.65" y="275.95" width="4.50" height="5.30" fill="#f2f2f3"/>
<rect x="206.82" y="275.95" width="4.50" height="5.30" fill="#f2f2f3"/>
<rect x="211.99" y="275.95" width="4.50" height="5.30" fill="#a31a2e"/>
<rect x="217.16" y="275.95" width="4.50" height="5.30" fill="#f2f2f3"/>
<rect x="222.33" y="275.95" width="4.50" height="5.30" fill="#f2f2f3"/>
<rect x="227.50" y="275.95" width="4.50" height="5.30" fill="#f2f2f3"/>
<rect x="232.67" y="275.95" width="4.50" height="5.30" fill="#f2f2f3"/>
<rect x="237.84" y="275.95" width="4.50" height="5.30" fill="#f2f2f3"/>
<text x="44.80" y="286.30" font-size="4.6" text-anchor="end" font-style="italic" fill="#4a4a4a" text-rendering="geometricPrecision" stroke="#4a4a4a" stroke-width="0.04">Mir296-2</text>
<rect x="46.55" y="282.05" width="4.50" height="5.30" fill="#f2f2f3"/>
<rect x="51.72" y="282.05" width="4.50" height="5.30" fill="#f2f2f3"/>
<rect x="56.89" y="282.05" width="4.50" height="5.30" fill="#f2f2f3"/>
<rect x="62.06" y="282.05" width="4.50" height="5.30" fill="#f2f2f3"/>
<rect x="67.23" y="282.05" width="4.50" height="5.30" fill="#f2f2f3"/>
<rect x="72.40" y="282.05" width="4.50" height="5.30" fill="#f2f2f3"/>
<rect x="77.57" y="282.05" width="4.50" height="5.30" fill="#f2f2f3"/>
<rect x="82.74" y="282.05" width="4.50" height="5.30" fill="#f2f2f3"/>
<rect x="87.91" y="282.05" width="4.50" height="5.30" fill="#f2f2f3"/>
<rect x="93.08" y="282.05" width="4.50" height="5.30" fill="#f2f2f3"/>
<rect x="98.25" y="282.05" width="4.50" height="5.30" fill="#f2f2f3"/>
<rect x="103.42" y="282.05" width="4.50" height="5.30" fill="#f2f2f3"/>
<rect x="108.59" y="282.05" width="4.50" height="5.30" fill="#f2f2f3"/>
<rect x="113.76" y="282.05" width="4.50" height="5.30" fill="#f2f2f3"/>
<rect x="118.93" y="282.05" width="4.50" height="5.30" fill="#f2f2f3"/>
<rect x="124.10" y="282.05" width="4.50" height="5.30" fill="#f2f2f3"/>
<rect x="129.27" y="282.05" width="4.50" height="5.30" fill="#f2f2f3"/>
<rect x="134.44" y="282.05" width="4.50" height="5.30" fill="#f2f2f3"/>
<rect x="139.61" y="282.05" width="4.50" height="5.30" fill="#f4df26"/>
<rect x="144.78" y="282.05" width="4.50" height="5.30" fill="#f2f2f3"/>
<rect x="149.95" y="282.05" width="4.50" height="5.30" fill="#f2f2f3"/>
<rect x="155.12" y="282.05" width="4.50" height="5.30" fill="#f2f2f3"/>
<rect x="160.29" y="282.05" width="4.50" height="5.30" fill="#f2f2f3"/>
<rect x="165.46" y="282.05" width="4.50" height="5.30" fill="#f2f2f3"/>
<rect x="170.63" y="282.05" width="4.50" height="5.30" fill="#f2f2f3"/>
<rect x="175.80" y="282.05" width="4.50" height="5.30" fill="#f2f2f3"/>
<rect x="180.97" y="282.05" width="4.50" height="5.30" fill="#f2f2f3"/>
<rect x="186.14" y="282.05" width="4.50" height="5.30" fill="#f2f2f3"/>
<rect x="191.31" y="282.05" width="4.50" height="5.30" fill="#f2f2f3"/>
<rect x="196.48" y="282.05" width="4.50" height="5.30" fill="#f2f2f3"/>
<rect x="201.65" y="282.05" width="4.50" height="5.30" fill="#e3851f"/>
<rect x="206.82" y="282.05" width="4.50" height="5.30" fill="#f2f2f3"/>
<rect x="211.99" y="282.05" width="4.50" height="5.30" fill="#f2f2f3"/>
<rect x="217.16" y="282.05" width="4.50" height="5.30" fill="#f2f2f3"/>
<rect x="222.33" y="282.05" width="4.50" height="5.30" fill="#f2f2f3"/>
<rect x="227.50" y="282.05" width="4.50" height="5.30" fill="#f2f2f3"/>
<rect x="232.67" y="282.05" width="4.50" height="5.30" fill="#f2f2f3"/>
<rect x="237.84" y="282.05" width="4.50" height="5.30" fill="#f2f2f3"/>
<text x="44.80" y="292.40" font-size="4.6" text-anchor="end" font-style="italic" fill="#4a4a4a" text-rendering="geometricPrecision" stroke="#4a4a4a" stroke-width="0.04">Kdm6a</text>
<rect x="46.55" y="288.15" width="4.50" height="5.30" fill="#f2f2f3"/>
<rect x="51.72" y="288.15" width="4.50" height="5.30" fill="#f2f2f3"/>
<rect x="56.89" y="288.15" width="4.50" height="5.30" fill="#f2f2f3"/>
<rect x="62.06" y="288.15" width="4.50" height="5.30" fill="#f2f2f3"/>
<rect x="67.23" y="288.15" width="4.50" height="5.30" fill="#f2f2f3"/>
<rect x="72.40" y="288.15" width="4.50" height="5.30" fill="#f2f2f3"/>
<rect x="77.57" y="288.15" width="4.50" height="5.30" fill="#f2f2f3"/>
<rect x="82.74" y="288.15" width="4.50" height="5.30" fill="#f2f2f3"/>
<rect x="87.91" y="288.15" width="4.50" height="5.30" fill="#f2f2f3"/>
<rect x="93.08" y="288.15" width="4.50" height="5.30" fill="#f2f2f3"/>
<rect x="98.25" y="288.15" width="4.50" height="5.30" fill="#f2f2f3"/>
<rect x="103.42" y="288.15" width="4.50" height="5.30" fill="#f2f2f3"/>
<rect x="108.59" y="288.15" width="4.50" height="5.30" fill="#f2f2f3"/>
<rect x="113.76" y="288.15" width="4.50" height="5.30" fill="#f2f2f3"/>
<rect x="118.93" y="288.15" width="4.50" height="5.30" fill="#f2f2f3"/>
<rect x="124.10" y="288.15" width="4.50" height="5.30" fill="#f2f2f3"/>
<rect x="129.27" y="288.15" width="4.50" height="5.30" fill="#f4df26"/>
<rect x="134.44" y="288.15" width="4.50" height="5.30" fill="#f2f2f3"/>
<rect x="139.61" y="288.15" width="4.50" height="5.30" fill="#f2f2f3"/>
<rect x="144.78" y="288.15" width="4.50" height="5.30" fill="#f2f2f3"/>
<rect x="149.95" y="288.15" width="4.50" height="5.30" fill="#f2f2f3"/>
<rect x="155.12" y="288.15" width="4.50" height="5.30" fill="#f2f2f3"/>
<rect x="160.29" y="288.15" width="4.50" height="5.30" fill="#f4df26"/>
<rect x="165.46" y="288.15" width="4.50" height="5.30" fill="#f2f2f3"/>
<rect x="170.63" y="288.15" width="4.50" height="5.30" fill="#f2f2f3"/>
<rect x="175.80" y="288.15" width="4.50" height="5.30" fill="#f2f2f3"/>
<rect x="180.97" y="288.15" width="4.50" height="5.30" fill="#d8342a"/>
<rect x="186.14" y="288.15" width="4.50" height="5.30" fill="#f2f2f3"/>
<rect x="191.31" y="288.15" width="4.50" height="5.30" fill="#f2f2f3"/>
<rect x="196.48" y="288.15" width="4.50" height="5.30" fill="#f2f2f3"/>
<rect x="201.65" y="288.15" width="4.50" height="5.30" fill="#f2f2f3"/>
<rect x="206.82" y="288.15" width="4.50" height="5.30" fill="#f2f2f3"/>
<rect x="211.99" y="288.15" width="4.50" height="5.30" fill="#f2f2f3"/>
<rect x="217.16" y="288.15" width="4.50" height="5.30" fill="#f2f2f3"/>
<rect x="222.33" y="288.15" width="4.50" height="5.30" fill="#f2f2f3"/>
<rect x="227.50" y="288.15" width="4.50" height="5.30" fill="#f2f2f3"/>
<rect x="232.67" y="288.15" width="4.50" height="5.30" fill="#f2f2f3"/>
<rect x="237.84" y="288.15" width="4.50" height="5.30" fill="#f2f2f3"/>
<text x="44.80" y="298.50" font-size="4.6" text-anchor="end" font-style="italic" fill="#4a4a4a" text-rendering="geometricPrecision" stroke="#4a4a4a" stroke-width="0.04">Nplh2</text>
<rect x="46.55" y="294.25" width="4.50" height="5.30" fill="#f2f2f3"/>
<rect x="51.72" y="294.25" width="4.50" height="5.30" fill="#f2f2f3"/>
<rect x="56.89" y="294.25" width="4.50" height="5.30" fill="#f2f2f3"/>
<rect x="62.06" y="294.25" width="4.50" height="5.30" fill="#f2f2f3"/>
<rect x="67.23" y="294.25" width="4.50" height="5.30" fill="#f2f2f3"/>
<rect x="72.40" y="294.25" width="4.50" height="5.30" fill="#f2f2f3"/>
<rect x="77.57" y="294.25" width="4.50" height="5.30" fill="#f2f2f3"/>
<rect x="82.74" y="294.25" width="4.50" height="5.30" fill="#f2f2f3"/>
<rect x="87.91" y="294.25" width="4.50" height="5.30" fill="#f2f2f3"/>
<rect x="93.08" y="294.25" width="4.50" height="5.30" fill="#f2f2f3"/>
<rect x="98.25" y="294.25" width="4.50" height="5.30" fill="#e3851f"/>
<rect x="103.42" y="294.25" width="4.50" height="5.30" fill="#f2f2f3"/>
<rect x="108.59" y="294.25" width="4.50" height="5.30" fill="#f2f2f3"/>
<rect x="113.76" y="294.25" width="4.50" height="5.30" fill="#f2f2f3"/>
<rect x="118.93" y="294.25" width="4.50" height="5.30" fill="#f2f2f3"/>
<rect x="124.10" y="294.25" width="4.50" height="5.30" fill="#f2f2f3"/>
<rect x="129.27" y="294.25" width="4.50" height="5.30" fill="#f2f2f3"/>
<rect x="134.44" y="294.25" width="4.50" height="5.30" fill="#f2f2f3"/>
<rect x="139.61" y="294.25" width="4.50" height="5.30" fill="#f2f2f3"/>
<rect x="144.78" y="294.25" width="4.50" height="5.30" fill="#f2f2f3"/>
<rect x="149.95" y="294.25" width="4.50" height="5.30" fill="#f2f2f3"/>
<rect x="155.12" y="294.25" width="4.50" height="5.30" fill="#f2f2f3"/>
<rect x="160.29" y="294.25" width="4.50" height="5.30" fill="#f2f2f3"/>
<rect x="165.46" y="294.25" width="4.50" height="5.30" fill="#f2f2f3"/>
<rect x="170.63" y="294.25" width="4.50" height="5.30" fill="#f2f2f3"/>
<rect x="175.80" y="294.25" width="4.50" height="5.30" fill="#f2f2f3"/>
<rect x="180.97" y="294.25" width="4.50" height="5.30" fill="#f2f2f3"/>
<rect x="186.14" y="294.25" width="4.50" height="5.30" fill="#f2f2f3"/>
<rect x="191.31" y="294.25" width="4.50" height="5.30" fill="#f2f2f3"/>
<rect x="196.48" y="294.25" width="4.50" height="5.30" fill="#f2f2f3"/>
<rect x="201.65" y="294.25" width="4.50" height="5.30" fill="#e3851f"/>
<rect x="206.82" y="294.25" width="4.50" height="5.30" fill="#f2f2f3"/>
<rect x="211.99" y="294.25" width="4.50" height="5.30" fill="#f2f2f3"/>
<rect x="217.16" y="294.25" width="4.50" height="5.30" fill="#f2f2f3"/>
<rect x="222.33" y="294.25" width="4.50" height="5.30" fill="#f2f2f3"/>
<rect x="227.50" y="294.25" width="4.50" height="5.30" fill="#f2f2f3"/>
<rect x="232.67" y="294.25" width="4.50" height="5.30" fill="#f2f2f3"/>
<rect x="237.84" y="294.25" width="4.50" height="5.30" fill="#f2f2f3"/>
<text x="44.80" y="304.60" font-size="4.6" text-anchor="end" font-style="italic" fill="#4a4a4a" text-rendering="geometricPrecision" stroke="#4a4a4a" stroke-width="0.04">Gpr126</text>
<rect x="46.55" y="300.35" width="4.50" height="5.30" fill="#f2f2f3"/>
<rect x="51.72" y="300.35" width="4.50" height="5.30" fill="#f2f2f3"/>
<rect x="56.89" y="300.35" width="4.50" height="5.30" fill="#f2f2f3"/>
<rect x="62.06" y="300.35" width="4.50" height="5.30" fill="#f2f2f3"/>
<rect x="67.23" y="300.35" width="4.50" height="5.30" fill="#f2f2f3"/>
<rect x="72.40" y="300.35" width="4.50" height="5.30" fill="#f2f2f3"/>
<rect x="77.57" y="300.35" width="4.50" height="5.30" fill="#f2f2f3"/>
<rect x="82.74" y="300.35" width="4.50" height="5.30" fill="#f2f2f3"/>
<rect x="87.91" y="300.35" width="4.50" height="5.30" fill="#f2f2f3"/>
<rect x="93.08" y="300.35" width="4.50" height="5.30" fill="#f2f2f3"/>
<rect x="98.25" y="300.35" width="4.50" height="5.30" fill="#f2f2f3"/>
<rect x="103.42" y="300.35" width="4.50" height="5.30" fill="#f2f2f3"/>
<rect x="108.59" y="300.35" width="4.50" height="5.30" fill="#f2f2f3"/>
<rect x="113.76" y="300.35" width="4.50" height="5.30" fill="#f2f2f3"/>
<rect x="118.93" y="300.35" width="4.50" height="5.30" fill="#f2f2f3"/>
<rect x="124.10" y="300.35" width="4.50" height="5.30" fill="#f2f2f3"/>
<rect x="129.27" y="300.35" width="4.50" height="5.30" fill="#f2f2f3"/>
<rect x="134.44" y="300.35" width="4.50" height="5.30" fill="#f2f2f3"/>
<rect x="139.61" y="300.35" width="4.50" height="5.30" fill="#f2f2f3"/>
<rect x="144.78" y="300.35" width="4.50" height="5.30" fill="#f2f2f3"/>
<rect x="149.95" y="300.35" width="4.50" height="5.30" fill="#f2f2f3"/>
<rect x="155.12" y="300.35" width="4.50" height="5.30" fill="#f2f2f3"/>
<rect x="160.29" y="300.35" width="4.50" height="5.30" fill="#f2f2f3"/>
<rect x="165.46" y="300.35" width="4.50" height="5.30" fill="#f2f2f3"/>
<rect x="170.63" y="300.35" width="4.50" height="5.30" fill="#f2f2f3"/>
<rect x="175.80" y="300.35" width="4.50" height="5.30" fill="#e3851f"/>
<rect x="180.97" y="300.35" width="4.50" height="5.30" fill="#f2f2f3"/>
<rect x="186.14" y="300.35" width="4.50" height="5.30" fill="#f2f2f3"/>
<rect x="191.31" y="300.35" width="4.50" height="5.30" fill="#f2f2f3"/>
<rect x="196.48" y="300.35" width="4.50" height="5.30" fill="#f2f2f3"/>
<rect x="201.65" y="300.35" width="4.50" height="5.30" fill="#f2f2f3"/>
<rect x="206.82" y="300.35" width="4.50" height="5.30" fill="#f2f2f3"/>
<rect x="211.99" y="300.35" width="4.50" height="5.30" fill="#f2f2f3"/>
<rect x="217.16" y="300.35" width="4.50" height="5.30" fill="#f2f2f3"/>
<rect x="222.33" y="300.35" width="4.50" height="5.30" fill="#f4df26"/>
<rect x="227.50" y="300.35" width="4.50" height="5.30" fill="#f2f2f3"/>
<rect x="232.67" y="300.35" width="4.50" height="5.30" fill="#f2f2f3"/>
<rect x="237.84" y="300.35" width="4.50" height="5.30" fill="#f2f2f3"/>
<text x="44.80" y="310.70" font-size="4.6" text-anchor="end" font-style="italic" fill="#4a4a4a" text-rendering="geometricPrecision" stroke="#4a4a4a" stroke-width="0.04">Wwox</text>
<rect x="46.55" y="306.45" width="4.50" height="5.30" fill="#f2f2f3"/>
<rect x="51.72" y="306.45" width="4.50" height="5.30" fill="#f2f2f3"/>
<rect x="56.89" y="306.45" width="4.50" height="5.30" fill="#f2f2f3"/>
<rect x="62.06" y="306.45" width="4.50" height="5.30" fill="#f2f2f3"/>
<rect x="67.23" y="306.45" width="4.50" height="5.30" fill="#e3851f"/>
<rect x="72.40" y="306.45" width="4.50" height="5.30" fill="#f2f2f3"/>
<rect x="77.57" y="306.45" width="4.50" height="5.30" fill="#f2f2f3"/>
<rect x="82.74" y="306.45" width="4.50" height="5.30" fill="#f2f2f3"/>
<rect x="87.91" y="306.45" width="4.50" height="5.30" fill="#f2f2f3"/>
<rect x="93.08" y="306.45" width="4.50" height="5.30" fill="#f2f2f3"/>
<rect x="98.25" y="306.45" width="4.50" height="5.30" fill="#f2f2f3"/>
<rect x="103.42" y="306.45" width="4.50" height="5.30" fill="#f2f2f3"/>
<rect x="108.59" y="306.45" width="4.50" height="5.30" fill="#f2f2f3"/>
<rect x="113.76" y="306.45" width="4.50" height="5.30" fill="#f2f2f3"/>
<rect x="118.93" y="306.45" width="4.50" height="5.30" fill="#f2f2f3"/>
<rect x="124.10" y="306.45" width="4.50" height="5.30" fill="#f2f2f3"/>
<rect x="129.27" y="306.45" width="4.50" height="5.30" fill="#e3851f"/>
<rect x="134.44" y="306.45" width="4.50" height="5.30" fill="#f2f2f3"/>
<rect x="139.61" y="306.45" width="4.50" height="5.30" fill="#f2f2f3"/>
<rect x="144.78" y="306.45" width="4.50" height="5.30" fill="#f2f2f3"/>
<rect x="149.95" y="306.45" width="4.50" height="5.30" fill="#f2f2f3"/>
<rect x="155.12" y="306.45" width="4.50" height="5.30" fill="#f2f2f3"/>
<rect x="160.29" y="306.45" width="4.50" height="5.30" fill="#f2f2f3"/>
<rect x="165.46" y="306.45" width="4.50" height="5.30" fill="#f2f2f3"/>
<rect x="170.63" y="306.45" width="4.50" height="5.30" fill="#f2f2f3"/>
<rect x="175.80" y="306.45" width="4.50" height="5.30" fill="#f2f2f3"/>
<rect x="180.97" y="306.45" width="4.50" height="5.30" fill="#f2f2f3"/>
<rect x="186.14" y="306.45" width="4.50" height="5.30" fill="#f2f2f3"/>
<rect x="191.31" y="306.45" width="4.50" height="5.30" fill="#f2f2f3"/>
<rect x="196.48" y="306.45" width="4.50" height="5.30" fill="#f2f2f3"/>
<rect x="201.65" y="306.45" width="4.50" height="5.30" fill="#f2f2f3"/>
<rect x="206.82" y="306.45" width="4.50" height="5.30" fill="#f2f2f3"/>
<rect x="211.99" y="306.45" width="4.50" height="5.30" fill="#f2f2f3"/>
<rect x="217.16" y="306.45" width="4.50" height="5.30" fill="#f2f2f3"/>
<rect x="222.33" y="306.45" width="4.50" height="5.30" fill="#f2f2f3"/>
<rect x="227.50" y="306.45" width="4.50" height="5.30" fill="#f2f2f3"/>
<rect x="232.67" y="306.45" width="4.50" height="5.30" fill="#f2f2f3"/>
<rect x="237.84" y="306.45" width="4.50" height="5.30" fill="#f2f2f3"/>
<text x="44.80" y="316.80" font-size="4.6" text-anchor="end" font-style="italic" fill="#4a4a4a" text-rendering="geometricPrecision" stroke="#4a4a4a" stroke-width="0.04">Ccr5</text>
<rect x="46.55" y="312.55" width="4.50" height="5.30" fill="#f2f2f3"/>
<rect x="51.72" y="312.55" width="4.50" height="5.30" fill="#f2f2f3"/>
<rect x="56.89" y="312.55" width="4.50" height="5.30" fill="#f2f2f3"/>
<rect x="62.06" y="312.55" width="4.50" height="5.30" fill="#f2f2f3"/>
<rect x="67.23" y="312.55" width="4.50" height="5.30" fill="#f2f2f3"/>
<rect x="72.40" y="312.55" width="4.50" height="5.30" fill="#f2f2f3"/>
<rect x="77.57" y="312.55" width="4.50" height="5.30" fill="#f2f2f3"/>
<rect x="82.74" y="312.55" width="4.50" height="5.30" fill="#f2f2f3"/>
<rect x="87.91" y="312.55" width="4.50" height="5.30" fill="#f2f2f3"/>
<rect x="93.08" y="312.55" width="4.50" height="5.30" fill="#f2f2f3"/>
<rect x="98.25" y="312.55" width="4.50" height="5.30" fill="#f2f2f3"/>
<rect x="103.42" y="312.55" width="4.50" height="5.30" fill="#f2f2f3"/>
<rect x="108.59" y="312.55" width="4.50" height="5.30" fill="#f2f2f3"/>
<rect x="113.76" y="312.55" width="4.50" height="5.30" fill="#f2f2f3"/>
<rect x="118.93" y="312.55" width="4.50" height="5.30" fill="#f2f2f3"/>
<rect x="124.10" y="312.55" width="4.50" height="5.30" fill="#f2f2f3"/>
<rect x="129.27" y="312.55" width="4.50" height="5.30" fill="#f2f2f3"/>
<rect x="134.44" y="312.55" width="4.50" height="5.30" fill="#f2f2f3"/>
<rect x="139.61" y="312.55" width="4.50" height="5.30" fill="#f2f2f3"/>
<rect x="144.78" y="312.55" width="4.50" height="5.30" fill="#e3851f"/>
<rect x="149.95" y="312.55" width="4.50" height="5.30" fill="#d8342a"/>
<rect x="155.12" y="312.55" width="4.50" height="5.30" fill="#f2f2f3"/>
<rect x="160.29" y="312.55" width="4.50" height="5.30" fill="#f2f2f3"/>
<rect x="165.46" y="312.55" width="4.50" height="5.30" fill="#f2f2f3"/>
<rect x="170.63" y="312.55" width="4.50" height="5.30" fill="#f2f2f3"/>
<rect x="175.80" y="312.55" width="4.50" height="5.30" fill="#f2f2f3"/>
<rect x="180.97" y="312.55" width="4.50" height="5.30" fill="#f2f2f3"/>
<rect x="186.14" y="312.55" width="4.50" height="5.30" fill="#f2f2f3"/>
<rect x="191.31" y="312.55" width="4.50" height="5.30" fill="#f2f2f3"/>
<rect x="196.48" y="312.55" width="4.50" height="5.30" fill="#f2f2f3"/>
<rect x="201.65" y="312.55" width="4.50" height="5.30" fill="#f2f2f3"/>
<rect x="206.82" y="312.55" width="4.50" height="5.30" fill="#f2f2f3"/>
<rect x="211.99" y="312.55" width="4.50" height="5.30" fill="#f2f2f3"/>
<rect x="217.16" y="312.55" width="4.50" height="5.30" fill="#f2f2f3"/>
<rect x="222.33" y="312.55" width="4.50" height="5.30" fill="#f2f2f3"/>
<rect x="227.50" y="312.55" width="4.50" height="5.30" fill="#f2f2f3"/>
<rect x="232.67" y="312.55" width="4.50" height="5.30" fill="#f2f2f3"/>
<rect x="237.84" y="312.55" width="4.50" height="5.30" fill="#f2f2f3"/>
<text x="48.80" y="182.00" font-size="3.4" text-anchor="middle" fill="#333" text-rendering="geometricPrecision" stroke="#333" stroke-width="0.04">1</text>
<text x="53.97" y="182.00" font-size="3.4" text-anchor="middle" fill="#333" text-rendering="geometricPrecision" stroke="#333" stroke-width="0.04">2</text>
<text x="59.14" y="182.00" font-size="3.4" text-anchor="middle" fill="#333" text-rendering="geometricPrecision" stroke="#333" stroke-width="0.04">3</text>
<text x="64.31" y="182.00" font-size="3.4" text-anchor="middle" fill="#333" text-rendering="geometricPrecision" stroke="#333" stroke-width="0.04">4</text>
<text x="69.48" y="182.00" font-size="3.4" text-anchor="middle" fill="#333" text-rendering="geometricPrecision" stroke="#333" stroke-width="0.04">5</text>
<text x="74.65" y="182.00" font-size="3.4" text-anchor="middle" fill="#333" text-rendering="geometricPrecision" stroke="#333" stroke-width="0.04">6</text>
<text x="79.82" y="182.00" font-size="3.4" text-anchor="middle" fill="#333" text-rendering="geometricPrecision" stroke="#333" stroke-width="0.04">7</text>
<text x="84.99" y="182.00" font-size="3.4" text-anchor="middle" fill="#333" text-rendering="geometricPrecision" stroke="#333" stroke-width="0.04">8</text>
<text x="90.16" y="182.00" font-size="3.4" text-anchor="middle" fill="#333" text-rendering="geometricPrecision" stroke="#333" stroke-width="0.04">9</text>
<text x="95.33" y="182.00" font-size="3.4" text-anchor="middle" fill="#333" text-rendering="geometricPrecision" stroke="#333" stroke-width="0.04">10</text>
<text x="100.50" y="182.00" font-size="3.4" text-anchor="middle" fill="#333" text-rendering="geometricPrecision" stroke="#333" stroke-width="0.04">11</text>
<text x="105.67" y="182.00" font-size="3.4" text-anchor="middle" fill="#333" text-rendering="geometricPrecision" stroke="#333" stroke-width="0.04">12</text>
<text x="110.84" y="182.00" font-size="3.4" text-anchor="middle" fill="#333" text-rendering="geometricPrecision" stroke="#333" stroke-width="0.04">13</text>
<text x="116.01" y="182.00" font-size="3.4" text-anchor="middle" fill="#333" text-rendering="geometricPrecision" stroke="#333" stroke-width="0.04">14</text>
<text x="121.18" y="182.00" font-size="3.4" text-anchor="middle" fill="#333" text-rendering="geometricPrecision" stroke="#333" stroke-width="0.04">15</text>
<text x="126.35" y="182.00" font-size="3.4" text-anchor="middle" fill="#333" text-rendering="geometricPrecision" stroke="#333" stroke-width="0.04">16</text>
<text x="131.52" y="182.00" font-size="3.4" text-anchor="middle" fill="#333" text-rendering="geometricPrecision" stroke="#333" stroke-width="0.04">17</text>
<text x="136.69" y="182.00" font-size="3.4" text-anchor="middle" fill="#333" text-rendering="geometricPrecision" stroke="#333" stroke-width="0.04">18</text>
<text x="141.86" y="182.00" font-size="3.4" text-anchor="middle" fill="#333" text-rendering="geometricPrecision" stroke="#333" stroke-width="0.04">19</text>
<text x="147.03" y="182.00" font-size="3.4" text-anchor="middle" fill="#333" text-rendering="geometricPrecision" stroke="#333" stroke-width="0.04">20</text>
<text x="152.20" y="182.00" font-size="3.4" text-anchor="middle" fill="#333" text-rendering="geometricPrecision" stroke="#333" stroke-width="0.04">21</text>
<text x="157.37" y="182.00" font-size="3.4" text-anchor="middle" fill="#333" text-rendering="geometricPrecision" stroke="#333" stroke-width="0.04">22</text>
<text x="162.54" y="182.00" font-size="3.4" text-anchor="middle" fill="#333" text-rendering="geometricPrecision" stroke="#333" stroke-width="0.04">23</text>
<text x="167.71" y="182.00" font-size="3.4" text-anchor="middle" fill="#333" text-rendering="geometricPrecision" stroke="#333" stroke-width="0.04">24</text>
<text x="172.88" y="182.00" font-size="3.4" text-anchor="middle" fill="#333" text-rendering="geometricPrecision" stroke="#333" stroke-width="0.04">25</text>
<text x="178.05" y="182.00" font-size="3.4" text-anchor="middle" fill="#333" text-rendering="geometricPrecision" stroke="#333" stroke-width="0.04">26</text>
<text x="183.22" y="182.00" font-size="3.4" text-anchor="middle" fill="#333" text-rendering="geometricPrecision" stroke="#333" stroke-width="0.04">27</text>
<text x="188.39" y="182.00" font-size="3.4" text-anchor="middle" fill="#333" text-rendering="geometricPrecision" stroke="#333" stroke-width="0.04">28</text>
<text x="193.56" y="182.00" font-size="3.4" text-anchor="middle" fill="#333" text-rendering="geometricPrecision" stroke="#333" stroke-width="0.04">29</text>
<text x="198.73" y="182.00" font-size="3.4" text-anchor="middle" fill="#333" text-rendering="geometricPrecision" stroke="#333" stroke-width="0.04">30</text>
<text x="203.90" y="182.00" font-size="3.4" text-anchor="middle" fill="#333" text-rendering="geometricPrecision" stroke="#333" stroke-width="0.04">31</text>
<text x="209.07" y="182.00" font-size="3.4" text-anchor="middle" fill="#333" text-rendering="geometricPrecision" stroke="#333" stroke-width="0.04">32</text>
<text x="214.24" y="182.00" font-size="3.4" text-anchor="middle" fill="#333" text-rendering="geometricPrecision" stroke="#333" stroke-width="0.04">33</text>
<text x="219.41" y="182.00" font-size="3.4" text-anchor="middle" fill="#333" text-rendering="geometricPrecision" stroke="#333" stroke-width="0.04">34</text>
<text x="224.58" y="182.00" font-size="3.4" text-anchor="middle" fill="#333" text-rendering="geometricPrecision" stroke="#333" stroke-width="0.04">35</text>
<text x="229.75" y="182.00" font-size="3.4" text-anchor="middle" fill="#333" text-rendering="geometricPrecision" stroke="#333" stroke-width="0.04">36</text>
<text x="234.92" y="182.00" font-size="3.4" text-anchor="middle" fill="#333" text-rendering="geometricPrecision" stroke="#333" stroke-width="0.04">37</text>
<text x="240.09" y="182.00" font-size="3.4" text-anchor="middle" fill="#333" text-rendering="geometricPrecision" stroke="#333" stroke-width="0.04">38</text>
<text x="47.50" y="177.40" font-size="3.4" fill="#333" text-rendering="geometricPrecision" stroke="#333" stroke-width="0.04">Leukemia ID</text>
<line x1="60.00" y1="176.20" x2="80.50" y2="176.20" stroke="#555" stroke-width="0.5"/>
<path d="M79.5,175.4 L81,176.2 L79.5,177" fill="none" stroke="#555" stroke-width="0.4" />
<text x="44.50" y="168.50" font-size="6.1" textLength="109.70" lengthAdjust="spacingAndGlyphs" text-rendering="geometricPrecision" stroke="#222" stroke-width="0.04">Common Insertion Site (CIS) co-occurrence plot</text>
<rect x="46.55" y="323.30" width="4.50" height="5.60" fill="#a9a9ab"/>
<rect x="51.72" y="323.30" width="4.50" height="5.60" fill="#cf2d8a"/>
<rect x="56.89" y="323.30" width="4.50" height="5.60" fill="#cf2d8a"/>
<rect x="62.06" y="323.30" width="4.50" height="5.60" fill="#a9a9ab"/>
<rect x="67.23" y="323.30" width="4.50" height="5.60" fill="#a9a9ab"/>
<rect x="72.40" y="323.30" width="4.50" height="5.60" fill="#cf2d8a"/>
<rect x="77.57" y="323.30" width="4.50" height="5.60" fill="#a9a9ab"/>
<rect x="82.74" y="323.30" width="4.50" height="5.60" fill="#cf2d8a"/>
<rect x="87.91" y="323.30" width="4.50" height="5.60" fill="#a9a9ab"/>
<rect x="93.08" y="323.30" width="4.50" height="5.60" fill="#a9a9ab"/>
<rect x="98.25" y="323.30" width="4.50" height="5.60" fill="#cf2d8a"/>
<rect x="103.42" y="323.30" width="4.50" height="5.60" fill="#cf2d8a"/>
<rect x="108.59" y="323.30" width="4.50" height="5.60" fill="#cf2d8a"/>
<rect x="113.76" y="323.30" width="4.50" height="5.60" fill="#cf2d8a"/>
<rect x="118.93" y="323.30" width="4.50" height="5.60" fill="#cf2d8a"/>
<rect x="124.10" y="323.30" width="4.50" height="5.60" fill="#a9a9ab"/>
<rect x="129.27" y="323.30" width="4.50" height="5.60" fill="#cf2d8a"/>
<rect x="134.44" y="323.30" width="4.50" height="5.60" fill="#cf2d8a"/>
<rect x="139.61" y="323.30" width="4.50" height="5.60" fill="#1c2f8c"/>
<rect x="144.78" y="323.30" width="4.50" height="5.60" fill="#cf2d8a"/>
<rect x="149.95" y="323.30" width="4.50" height="5.60" fill="#cf2d8a"/>
<rect x="155.12" y="323.30" width="4.50" height="5.60" fill="#cf2d8a"/>
<rect x="160.29" y="323.30" width="4.50" height="5.60" fill="#a9a9ab"/>
<rect x="165.46" y="323.30" width="4.50" height="5.60" fill="#a9a9ab"/>
<rect x="170.63" y="323.30" width="4.50" height="5.60" fill="#a9a9ab"/>
<rect x="175.80" y="323.30" width="4.50" height="5.60" fill="#cf2d8a"/>
<rect x="180.97" y="323.30" width="4.50" height="5.60" fill="#93663a"/>
<rect x="186.14" y="323.30" width="4.50" height="5.60" fill="#1c2f8c"/>
<rect x="191.31" y="323.30" width="4.50" height="5.60" fill="#8dc13f"/>
<rect x="196.48" y="323.30" width="4.50" height="5.60" fill="#a9a9ab"/>
<rect x="201.65" y="323.30" width="4.50" height="5.60" fill="#8dc13f"/>
<rect x="206.82" y="323.30" width="4.50" height="5.60" fill="#cf2d8a"/>
<rect x="211.99" y="323.30" width="4.50" height="5.60" fill="#cf2d8a"/>
<rect x="217.16" y="323.30" width="4.50" height="5.60" fill="#cf2d8a"/>
<rect x="222.33" y="323.30" width="4.50" height="5.60" fill="#cf2d8a"/>
<rect x="227.50" y="323.30" width="4.50" height="5.60" fill="#cf2d8a"/>
<rect x="232.67" y="323.30" width="4.50" height="5.60" fill="#cf2d8a"/>
<rect x="237.84" y="323.30" width="4.50" height="5.60" fill="#cf2d8a"/>
<text x="44.80" y="327.90" font-size="4.8" stroke="#222" stroke-width="0.05" text-rendering="geometricPrecision" text-anchor="end">Diagnosis</text>
<text x="46.50" y="338.90" font-size="4.5" stroke="#111" stroke-width="0.06" text-rendering="geometricPrecision" fill="#111">diagnosis</text>
<rect x="47.80" y="341.30" width="4.50" height="4.40" fill="#cf2d8a"/>
<text x="54.00" y="344.60" font-size="3.3" fill="#111" text-rendering="geometricPrecision" stroke="#111" stroke-width="0.04">AML</text>
<rect x="47.80" y="347.45" width="4.50" height="4.40" fill="#1c2f8c"/>
<text x="54.00" y="350.75" font-size="3.3" fill="#111" text-rendering="geometricPrecision" stroke="#111" stroke-width="0.04">undifferentiated leukaemia</text>
<rect x="47.80" y="353.60" width="4.50" height="4.40" fill="#8dc13f"/>
<text x="54.00" y="356.90" font-size="3.3" fill="#111" text-rendering="geometricPrecision" stroke="#111" stroke-width="0.04">T-ALL</text>
<rect x="47.80" y="359.75" width="4.50" height="4.40" fill="#93663a"/>
<text x="54.00" y="363.05" font-size="3.3" fill="#111" text-rendering="geometricPrecision" stroke="#111" stroke-width="0.04">mixed lineage</text>
<rect x="47.80" y="365.90" width="4.50" height="4.40" fill="#a9a9ab"/>
<text x="54.00" y="369.20" font-size="3.3" fill="#111" text-rendering="geometricPrecision" stroke="#111" stroke-width="0.04">samples unavailable</text>
<text x="101.80" y="338.90" font-size="4.5" stroke="#111" stroke-width="0.06" text-rendering="geometricPrecision" fill="#111" textLength="68.50" lengthAdjust="spacingAndGlyphs">read count rank within each leukaemia</text>
<rect x="103.10" y="341.20" width="4.30" height="4.20" fill="#a31a2e"/>
<text x="108.80" y="344.40" font-size="3.2" fill="#111" text-rendering="geometricPrecision" stroke="#111" stroke-width="0.04">0.8 &lt; 1.0</text>
<rect x="103.10" y="346.60" width="4.30" height="4.20" fill="#d8342a"/>
<text x="108.80" y="349.80" font-size="3.2" fill="#111" text-rendering="geometricPrecision" stroke="#111" stroke-width="0.04">0.6 &lt; 0.8</text>
<rect x="103.10" y="352.00" width="4.30" height="4.20" fill="#e3851f"/>
<text x="108.80" y="355.20" font-size="3.2" fill="#111" text-rendering="geometricPrecision" stroke="#111" stroke-width="0.04">0.2 &lt; 0.6</text>
<rect x="103.10" y="357.40" width="4.30" height="4.20" fill="#f4df26"/>
<text x="108.80" y="360.60" font-size="3.2" fill="#111" text-rendering="geometricPrecision" stroke="#111" stroke-width="0.04">0.0 &lt; 0.2</text>
<defs><clipPath id="cpG"><ellipse cx="344" cy="71.4" rx="20.2" ry="18.4" fill="#000" /></clipPath><clipPath id="cpB"><ellipse cx="355.6" cy="88.4" rx="20.2" ry="18.2" fill="#000" /></clipPath></defs>
<ellipse cx="330.6" cy="88.4" rx="20.2" ry="18.2" fill="#cd6a80" />
<ellipse cx="355.6" cy="88.4" rx="20.2" ry="18.2" fill="#8fa0c4" />
<ellipse cx="344" cy="71.4" rx="20.2" ry="18.4" fill="#a9adb8" />
<g clip-path="url(#cpG)"><ellipse cx="330.6" cy="88.4" rx="20.2" ry="18.2" fill="#9b4d63" /><ellipse cx="355.6" cy="88.4" rx="20.2" ry="18.2" fill="#6f7fa3" /></g>
<g clip-path="url(#cpB)"><ellipse cx="330.6" cy="88.4" rx="20.2" ry="18.2" fill="#86688f" /></g>
<g clip-path="url(#cpG)"><g clip-path="url(#cpB)"><ellipse cx="330.6" cy="88.4" rx="20.2" ry="18.2" fill="#6b4b75" /></g></g>
<text x="343.80" y="60.60" font-size="3.2" text-anchor="middle" text-rendering="geometricPrecision" stroke="#222" stroke-width="0.04">n</text>
<text x="343.80" y="64.70" font-size="3.4" text-anchor="middle" text-rendering="geometricPrecision" stroke="#222" stroke-width="0.04">(99)</text>
<text x="332.00" y="78.00" font-size="3.2" text-anchor="middle" text-rendering="geometricPrecision" stroke="#222" stroke-width="0.04">n</text>
<text x="332.00" y="82.30" font-size="3.4" text-anchor="middle" text-rendering="geometricPrecision" stroke="#222" stroke-width="0.04">(7)</text>
<text x="343.60" y="78.00" font-size="3.2" text-anchor="middle" text-rendering="geometricPrecision" stroke="#222" stroke-width="0.04">n</text>
<text x="343.60" y="82.30" font-size="3.4" text-anchor="middle" text-rendering="geometricPrecision" stroke="#222" stroke-width="0.04">(3)</text>
<text x="355.40" y="78.00" font-size="3.2" text-anchor="middle" text-rendering="geometricPrecision" stroke="#222" stroke-width="0.04">n</text>
<text x="355.40" y="82.30" font-size="3.4" text-anchor="middle" text-rendering="geometricPrecision" stroke="#222" stroke-width="0.04">(5)</text>
<text x="324.80" y="91.40" font-size="3.2" text-anchor="middle" text-rendering="geometricPrecision" stroke="#222" stroke-width="0.04">n</text>
<text x="324.80" y="96.00" font-size="3.4" text-anchor="middle" text-rendering="geometricPrecision" stroke="#222" stroke-width="0.04">(13)</text>
<text x="367.80" y="91.40" font-size="3.2" text-anchor="middle" text-rendering="geometricPrecision" stroke="#222" stroke-width="0.04">n</text>
<text x="367.80" y="96.00" font-size="3.4" text-anchor="middle" text-rendering="geometricPrecision" stroke="#222" stroke-width="0.04">(13)</text>
<text x="338.00" y="47.80" font-size="5.6" text-anchor="middle" textLength="15.00" lengthAdjust="spacingAndGlyphs" text-rendering="geometricPrecision" stroke="#222" stroke-width="0.04">WT-IM</text>
<text x="287" y="99.9" font-size="5.4" font-style="italic" fill="#c0385c" stroke="#c0385c" stroke-width="0.07" textLength="22.5" lengthAdjust="spacingAndGlyphs">Flt3<tspan font-size="2.4" dy="-2">ITD/+</tspan><tspan dy="2"> + IM</tspan></text>
<text x="381.8" y="98.9" font-size="5.4" font-style="italic" fill="#3d5aa0" stroke="#3d5aa0" stroke-width="0.07" textLength="26.3" lengthAdjust="spacingAndGlyphs">Npm1<tspan font-size="2.4" dy="-2">c/+</tspan><tspan dy="2"> + IM</tspan></text>
<text x="309.80" y="24.00" font-size="3.0" text-anchor="middle" fill="#333" text-rendering="geometricPrecision" stroke="#333" stroke-width="0.04">n</text>
<text x="309.80" y="30.50" font-size="3.3" text-anchor="middle" font-style="italic" text-rendering="geometricPrecision" stroke="#222" stroke-width="0.04">Ets1</text>
<text x="309.80" y="34.70" font-size="3.3" text-anchor="middle" font-style="italic" text-rendering="geometricPrecision" stroke="#222" stroke-width="0.04">Notch1</text>
<text x="309.80" y="38.90" font-size="3.3" text-anchor="middle" font-style="italic" text-rendering="geometricPrecision" stroke="#222" stroke-width="0.04">Erg</text>
<text x="309.80" y="43.10" font-size="3.3" text-anchor="middle" font-style="italic" text-rendering="geometricPrecision" stroke="#222" stroke-width="0.04">Ikzf1</text>
<text x="309.80" y="47.30" font-size="3.3" text-anchor="middle" font-style="italic" text-rendering="geometricPrecision" stroke="#222" stroke-width="0.04">Ash1l</text>
<text x="309.80" y="51.50" font-size="3.3" text-anchor="middle" font-style="italic" text-rendering="geometricPrecision" stroke="#222" stroke-width="0.04">Lincpint/Mir-29b-1/Mir-29a</text>
<text x="309.80" y="55.70" font-size="3.3" text-anchor="middle" font-style="italic" text-rendering="geometricPrecision" stroke="#222" stroke-width="0.04">Mir-298-2</text>
<line x1="312.20" y1="58.30" x2="329.50" y2="78.00" stroke="#444" stroke-width="0.4"/>
<text x="381.00" y="24.00" font-size="3.0" text-anchor="middle" fill="#333" text-rendering="geometricPrecision" stroke="#333" stroke-width="0.04">n</text>
<text x="375.00" y="29.90" font-size="3.3" text-anchor="middle" font-style="italic" text-rendering="geometricPrecision" stroke="#222" stroke-width="0.04">Gpnmb</text>
<text x="375.00" y="34.15" font-size="3.3" text-anchor="middle" font-style="italic" text-rendering="geometricPrecision" stroke="#222" stroke-width="0.04">Kit4</text>
<text x="375.00" y="38.40" font-size="3.3" text-anchor="middle" font-style="italic" text-rendering="geometricPrecision" stroke="#222" stroke-width="0.04">Fosl1</text>
<text x="375.00" y="42.65" font-size="3.3" text-anchor="middle" font-style="italic" text-rendering="geometricPrecision" stroke="#222" stroke-width="0.04">Suz12</text>
<text x="375.00" y="46.90" font-size="3.3" text-anchor="middle" font-style="italic" text-rendering="geometricPrecision" stroke="#222" stroke-width="0.04">Pkd6</text>
<text x="375.00" y="51.15" font-size="3.3" text-anchor="middle" font-style="italic" text-rendering="geometricPrecision" stroke="#222" stroke-width="0.04">Ankrd11</text>
<text x="375.00" y="55.40" font-size="3.3" text-anchor="middle" font-style="italic" text-rendering="geometricPrecision" stroke="#222" stroke-width="0.04">Pit</text>
<text x="375.00" y="59.65" font-size="3.3" text-anchor="middle" font-style="italic" text-rendering="geometricPrecision" stroke="#222" stroke-width="0.04">Rpl1</text>
<text x="375.00" y="63.90" font-size="3.3" text-anchor="middle" font-style="italic" text-rendering="geometricPrecision" stroke="#222" stroke-width="0.04">Slc25a37</text>
<text x="375.00" y="68.15" font-size="3.3" text-anchor="middle" font-style="italic" text-rendering="geometricPrecision" stroke="#222" stroke-width="0.04">Zbtb25</text>
<text x="395.80" y="29.90" font-size="3.3" text-anchor="middle" font-style="italic" text-rendering="geometricPrecision" stroke="#222" stroke-width="0.04">Starba/Starbb</text>
<text x="395.80" y="34.15" font-size="3.3" text-anchor="middle" font-style="italic" text-rendering="geometricPrecision" stroke="#222" stroke-width="0.04">Cnot6l</text>
<text x="395.80" y="38.40" font-size="3.3" text-anchor="middle" font-style="italic" text-rendering="geometricPrecision" stroke="#222" stroke-width="0.04">Tbc1d5</text>
<text x="395.80" y="42.65" font-size="3.3" text-anchor="middle" font-style="italic" text-rendering="geometricPrecision" stroke="#222" stroke-width="0.04">Fam49b</text>
<text x="395.80" y="46.90" font-size="3.3" text-anchor="middle" font-style="italic" text-rendering="geometricPrecision" stroke="#222" stroke-width="0.04">Ncbp1</text>
<text x="395.80" y="51.15" font-size="3.3" text-anchor="middle" font-style="italic" text-rendering="geometricPrecision" stroke="#222" stroke-width="0.04">Jak1</text>
<text x="395.80" y="55.40" font-size="3.3" text-anchor="middle" font-style="italic" text-rendering="geometricPrecision" stroke="#222" stroke-width="0.04">Mecom</text>
<line x1="368.50" y1="42.50" x2="352.50" y2="55.50" stroke="#444" stroke-width="0.4"/>
<text x="393.50" y="65.60" font-size="3.0" text-anchor="middle" fill="#333" text-rendering="geometricPrecision" stroke="#333" stroke-width="0.04">n</text>
<text x="394.00" y="69.90" font-size="3.3" text-anchor="middle" font-style="italic" text-rendering="geometricPrecision" stroke="#222" stroke-width="0.04">Kras</text>
<text x="394.00" y="74.05" font-size="3.3" text-anchor="middle" font-style="italic" text-rendering="geometricPrecision" stroke="#222" stroke-width="0.04">Zfp423</text>
<text x="394.00" y="78.20" font-size="3.3" text-anchor="middle" font-style="italic" text-rendering="geometricPrecision" stroke="#222" stroke-width="0.04">Jak1</text>
<text x="394.00" y="82.35" font-size="3.3" text-anchor="middle" font-style="italic" text-rendering="geometricPrecision" stroke="#222" stroke-width="0.04">Ikzf1</text>
<text x="394.00" y="86.50" font-size="3.3" text-anchor="middle" font-style="italic" text-rendering="geometricPrecision" stroke="#222" stroke-width="0.04">Cnot1</text>
<line x1="386.00" y1="71.00" x2="363.00" y2="76.50" stroke="#444" stroke-width="0.4"/>
<text x="312.80" y="109.00" font-size="3.0" text-anchor="middle" fill="#c0385c" text-rendering="geometricPrecision" stroke="#c0385c" stroke-width="0.04">n</text>
<line x1="313.80" y1="106.00" x2="325.50" y2="97.00" stroke="#444" stroke-width="0.4"/>
<text x="304.30" y="112.70" font-size="3.3" text-anchor="middle" font-style="italic" fill="#c0385c" text-rendering="geometricPrecision" stroke="#c0385c" stroke-width="0.04">Setbp1</text>
<text x="304.30" y="116.90" font-size="3.3" text-anchor="middle" font-style="italic" fill="#c0385c" text-rendering="geometricPrecision" stroke="#c0385c" stroke-width="0.04">Runx1</text>
<text x="304.30" y="121.10" font-size="3.3" text-anchor="middle" font-style="italic" fill="#c0385c" text-rendering="geometricPrecision" stroke="#c0385c" stroke-width="0.04">Pdpr</text>
<text x="304.30" y="125.30" font-size="3.3" text-anchor="middle" font-style="italic" fill="#c0385c" text-rendering="geometricPrecision" stroke="#c0385c" stroke-width="0.04">Arhgef2b</text>
<text x="304.30" y="129.50" font-size="3.3" text-anchor="middle" font-style="italic" fill="#c0385c" text-rendering="geometricPrecision" stroke="#c0385c" stroke-width="0.04">Ccr5</text>
<text x="304.30" y="133.70" font-size="3.3" text-anchor="middle" font-style="italic" fill="#c0385c" text-rendering="geometricPrecision" stroke="#c0385c" stroke-width="0.04">Epc2</text>
<text x="304.30" y="137.90" font-size="3.3" text-anchor="middle" font-style="italic" fill="#c0385c" text-rendering="geometricPrecision" stroke="#c0385c" stroke-width="0.04">Gm10800</text>
<text x="318.50" y="123.30" font-size="3.3" text-anchor="middle" font-style="italic" fill="#c0385c" text-rendering="geometricPrecision" stroke="#c0385c" stroke-width="0.04">Gpr126</text>
<text x="318.50" y="127.55" font-size="3.3" text-anchor="middle" font-style="italic" fill="#c0385c" text-rendering="geometricPrecision" stroke="#c0385c" stroke-width="0.04">Nplh2</text>
<text x="318.50" y="131.80" font-size="3.3" text-anchor="middle" font-style="italic" fill="#c0385c" text-rendering="geometricPrecision" stroke="#c0385c" stroke-width="0.04">Bcor</text>
<text x="318.50" y="136.05" font-size="3.3" text-anchor="middle" font-style="italic" fill="#c0385c" text-rendering="geometricPrecision" stroke="#c0385c" stroke-width="0.04">Wwox</text>
<text x="318.50" y="140.30" font-size="3.3" text-anchor="middle" font-style="italic" fill="#c0385c" text-rendering="geometricPrecision" stroke="#c0385c" stroke-width="0.04">Nup160</text>
<text x="318.50" y="144.55" font-size="3.3" text-anchor="middle" font-style="italic" fill="#c0385c" text-rendering="geometricPrecision" stroke="#c0385c" stroke-width="0.04">Kdm6a</text>
<line x1="343.70" y1="90.00" x2="343.70" y2="107.00" stroke="#777" stroke-width="0.4"/>
<text x="343.80" y="112.00" font-size="3.0" text-anchor="middle" fill="#d0308a" text-rendering="geometricPrecision" stroke="#d0308a" stroke-width="0.04">n</text>
<text x="343.80" y="116.30" font-size="3.3" text-anchor="middle" font-style="italic" fill="#444" text-rendering="geometricPrecision" stroke="#444" stroke-width="0.04">Fli1</text>
<text x="343.80" y="120.60" font-size="3.3" text-anchor="middle" font-style="italic" fill="#444" text-rendering="geometricPrecision" stroke="#444" stroke-width="0.04">Myb</text>
<line x1="372.00" y1="96.30" x2="381.80" y2="103.50" stroke="#444" stroke-width="0.4"/>
<text x="384.50" y="105.40" font-size="3.0" text-anchor="middle" fill="#d0308a" text-rendering="geometricPrecision" stroke="#d0308a" stroke-width="0.04">n</text>
<text x="377.00" y="111.50" font-size="3.3" text-anchor="middle" font-style="italic" fill="#3d5aa0" text-rendering="geometricPrecision" stroke="#3d5aa0" stroke-width="0.04">Cd3</text>
<text x="377.00" y="115.70" font-size="3.3" text-anchor="middle" font-style="italic" fill="#3d5aa0" text-rendering="geometricPrecision" stroke="#3d5aa0" stroke-width="0.04">Pax5</text>
<text x="377.00" y="119.90" font-size="3.3" text-anchor="middle" font-style="italic" fill="#3d5aa0" text-rendering="geometricPrecision" stroke="#3d5aa0" stroke-width="0.04">Pik3r5</text>
<text x="377.00" y="124.10" font-size="3.3" text-anchor="middle" font-style="italic" fill="#3d5aa0" text-rendering="geometricPrecision" stroke="#3d5aa0" stroke-width="0.04">Pigs</text>
<text x="377.00" y="128.30" font-size="3.3" text-anchor="middle" font-style="italic" fill="#3d5aa0" text-rendering="geometricPrecision" stroke="#3d5aa0" stroke-width="0.04">Dnm2</text>
<text x="377.00" y="132.50" font-size="3.3" text-anchor="middle" font-style="italic" fill="#3d5aa0" text-rendering="geometricPrecision" stroke="#3d5aa0" stroke-width="0.04">Picalm</text>
<text x="377.00" y="136.70" font-size="3.3" text-anchor="middle" font-style="italic" fill="#3d5aa0" text-rendering="geometricPrecision" stroke="#3d5aa0" stroke-width="0.04">Rasgrp1</text>
<text x="377.00" y="140.90" font-size="3.3" text-anchor="middle" font-style="italic" fill="#3d5aa0" text-rendering="geometricPrecision" stroke="#3d5aa0" stroke-width="0.04">Nup98</text>
<text x="393.50" y="111.50" font-size="3.3" text-anchor="middle" font-style="italic" fill="#3d5aa0" text-rendering="geometricPrecision" stroke="#3d5aa0" stroke-width="0.04">Ptpn2</text>
<text x="393.50" y="115.70" font-size="3.3" text-anchor="middle" font-style="italic" fill="#3d5aa0" text-rendering="geometricPrecision" stroke="#3d5aa0" stroke-width="0.04">Pyrr1</text>
<text x="393.50" y="119.90" font-size="3.3" text-anchor="middle" font-style="italic" fill="#3d5aa0" text-rendering="geometricPrecision" stroke="#3d5aa0" stroke-width="0.04">Zfp521</text>
<text x="393.50" y="124.10" font-size="3.3" text-anchor="middle" font-style="italic" fill="#3d5aa0" text-rendering="geometricPrecision" stroke="#3d5aa0" stroke-width="0.04">Sesn</text>
<text x="393.50" y="128.30" font-size="3.3" text-anchor="middle" font-style="italic" fill="#3d5aa0" text-rendering="geometricPrecision" stroke="#3d5aa0" stroke-width="0.04">Pyn1</text>
<text x="393.50" y="132.50" font-size="3.3" text-anchor="middle" font-style="italic" fill="#3d5aa0" text-rendering="geometricPrecision" stroke="#3d5aa0" stroke-width="0.04">Bach2</text>
<text x="393.50" y="136.70" font-size="3.3" text-anchor="middle" font-style="italic" fill="#3d5aa0" text-rendering="geometricPrecision" stroke="#3d5aa0" stroke-width="0.04">Mh1</text>
<text x="393.50" y="140.90" font-size="3.3" text-anchor="middle" font-style="italic" fill="#3d5aa0" text-rendering="geometricPrecision" stroke="#3d5aa0" stroke-width="0.04">(intergenic)</text>
<rect x="273.00" y="192.70" width="32.30" height="32.60" fill="#050505"/>
<rect x="273.60" y="193.70" width="3.20" height="30.60" fill="#151515" opacity="0.5"/>
<rect x="274.00" y="195.40" width="2.40" height="1.30" fill="#ffffff" opacity="0.95"/>
<rect x="274.00" y="197.00" width="2.40" height="1.30" fill="#ffffff" opacity="0.8"/>
<rect x="274.00" y="198.60" width="2.40" height="1.30" fill="#ffffff" opacity="0.6"/>
<rect x="274.10" y="201.80" width="2.20" height="1.30" fill="#ffffff" opacity="0.55"/>
<rect x="274.00" y="205.80" width="2.40" height="1.30" fill="#ffffff" opacity="0.85"/>
<rect x="274.00" y="207.60" width="2.40" height="1.30" fill="#ffffff" opacity="0.9"/>
<rect x="274.10" y="210.50" width="2.20" height="1.30" fill="#ffffff" opacity="0.7"/>
<rect x="274.20" y="214.60" width="2.00" height="1.30" fill="#ffffff" opacity="0.55"/>
<rect x="274.45" y="221.40" width="1.50" height="1.30" fill="#ffffff" opacity="0.3"/>
<rect x="280.60" y="193.70" width="3.20" height="30.60" fill="#151515" opacity="0.5"/>
<rect x="280.60" y="222.30" width="3.20" height="1.30" fill="#ffffff" opacity="1.0"/>
<rect x="288.00" y="193.70" width="3.20" height="30.60" fill="#151515" opacity="0.5"/>
<rect x="288.35" y="199.40" width="2.50" height="1.30" fill="#ffffff" opacity="0.15"/>
<rect x="288.35" y="203.40" width="2.50" height="1.30" fill="#ffffff" opacity="0.15"/>
<rect x="288.10" y="210.50" width="3.00" height="1.30" fill="#ffffff" opacity="0.9"/>
<rect x="288.10" y="212.60" width="3.00" height="1.30" fill="#ffffff" opacity="0.85"/>
<rect x="288.00" y="215.00" width="3.20" height="1.30" fill="#ffffff" opacity="1.0"/>
<rect x="295.70" y="193.70" width="3.20" height="30.60" fill="#151515" opacity="0.5"/>
<rect x="295.80" y="214.90" width="3.00" height="1.30" fill="#ffffff" opacity="0.75"/>
<text x="271.80" y="197.50" font-size="3.8" text-anchor="end" text-rendering="geometricPrecision" stroke="#222" stroke-width="0.04">10000</text>
<text x="271.80" y="202.80" font-size="3.8" text-anchor="end" text-rendering="geometricPrecision" stroke="#222" stroke-width="0.04">2500</text>
<text x="271.80" y="210.00" font-size="3.8" text-anchor="end" text-rendering="geometricPrecision" stroke="#222" stroke-width="0.04">1000</text>
<text x="271.80" y="213.80" font-size="3.8" text-anchor="end" text-rendering="geometricPrecision" stroke="#222" stroke-width="0.04">800</text>
<text x="271.80" y="217.60" font-size="3.8" text-anchor="end" text-rendering="geometricPrecision" stroke="#222" stroke-width="0.04">400</text>
<text x="271.80" y="224.30" font-size="3.8" text-anchor="end" text-rendering="geometricPrecision" stroke="#222" stroke-width="0.04">300</text>
<text x="274.60" y="190.60" font-size="3.4" textLength="21.00" lengthAdjust="spacingAndGlyphs" transform="rotate(-36 274.60 190.60)" text-rendering="geometricPrecision" stroke="#222" stroke-width="0.04">1Kb DNA ladder</text>
<text x="281.50" y="191.20" font-size="3.4" textLength="41.00" lengthAdjust="spacingAndGlyphs" transform="rotate(-36 281.50 191.20)" text-rendering="geometricPrecision" stroke="#222" stroke-width="0.04">Flt3ITD/+ Setbp1cis/+ Leukemia 6</text>
<text x="289.50" y="191.00" font-size="3.4" textLength="44.00" lengthAdjust="spacingAndGlyphs" transform="rotate(-36 289.50 191.00)" text-rendering="geometricPrecision" stroke="#222" stroke-width="0.04">Flt3ITD/+ Setbp1cis/+ Leukemia 11</text>
<text x="297.80" y="190.80" font-size="3.4" textLength="44.00" lengthAdjust="spacingAndGlyphs" transform="rotate(-36 297.80 190.80)" text-rendering="geometricPrecision" stroke="#222" stroke-width="0.04">Flt3ITD/+ Setbp1cis/+ Leukemia 12</text>
<text x="308.40" y="200.60" font-size="5.0" font-style="italic" textLength="12.80" lengthAdjust="spacingAndGlyphs" text-rendering="geometricPrecision" stroke="#222" stroke-width="0.04">Setbp1</text>
<text x="308.20" y="203.60" font-size="1.9" fill="#444" textLength="21.00" lengthAdjust="spacingAndGlyphs" text-rendering="geometricPrecision" stroke="#444" stroke-width="0.04">chromosome 18 (forward strand)</text>
<text x="327.50" y="197.50" font-size="2.8" text-rendering="geometricPrecision" stroke="#222" stroke-width="0.04">5'</text>
<line x1="330.50" y1="199.30" x2="338.60" y2="199.30" stroke="#555" stroke-width="0.5"/>
<path d="M338.6,199.5 Q362,201 386.2,199.5" fill="none" stroke="#555" stroke-width="0.5" />
<path d="M386.20,199.50 L396.00,201.90 L405.80,199.50" fill="none" stroke="#555" stroke-width="0.5" />
<path d="M405.80,199.50 L417.00,202.00 L427.70,199.50" fill="none" stroke="#555" stroke-width="0.5" />
<path d="M427.70,199.50 L431.50,201.20 L435.00,199.50" fill="none" stroke="#555" stroke-width="0.5" />
<line x1="332.00" y1="197.30" x2="332.00" y2="201.80" stroke="#333" stroke-width="0.6"/>
<line x1="338.60" y1="197.30" x2="338.60" y2="201.80" stroke="#333" stroke-width="0.6"/>
<line x1="386.20" y1="197.30" x2="386.20" y2="201.80" stroke="#333" stroke-width="0.6"/>
<line x1="405.80" y1="197.30" x2="405.80" y2="201.80" stroke="#333" stroke-width="0.6"/>
<line x1="427.70" y1="197.30" x2="427.70" y2="201.80" stroke="#333" stroke-width="0.6"/>
<rect x="434.40" y="197.60" width="2.00" height="4.00" fill="#111"/>
<text x="436.60" y="195.20" font-size="2.8" text-rendering="geometricPrecision" stroke="#222" stroke-width="0.04">3'</text>
<text x="332.50" y="204.60" font-size="1.9" text-anchor="middle" fill="#333" text-rendering="geometricPrecision" stroke="#333" stroke-width="0.04">Ex</text>
<text x="340.00" y="204.60" font-size="1.9" text-anchor="middle" fill="#333" text-rendering="geometricPrecision" stroke="#333" stroke-width="0.04">Ex</text>
<text x="386.50" y="204.60" font-size="1.9" text-anchor="middle" fill="#333" text-rendering="geometricPrecision" stroke="#333" stroke-width="0.04">Ex</text>
<text x="406.00" y="204.60" font-size="1.9" text-anchor="middle" fill="#333" text-rendering="geometricPrecision" stroke="#333" stroke-width="0.04">Ex</text>
<text x="428.00" y="204.60" font-size="1.9" text-anchor="middle" fill="#333" text-rendering="geometricPrecision" stroke="#333" stroke-width="0.04">Ex</text>
<text x="435.50" y="204.60" font-size="1.9" text-anchor="middle" fill="#333" text-rendering="geometricPrecision" stroke="#333" stroke-width="0.04">Ex</text>
<rect x="331.20" y="194.20" width="1.20" height="1.20" fill="#e8b030"/>
<rect x="332.40" y="192.60" width="1.20" height="1.20" fill="#f0a020"/>
<rect x="331.80" y="191.40" width="1.20" height="1.20" fill="#d03040"/>
<rect x="334.00" y="194.00" width="1.20" height="1.20" fill="#e8d040"/>
<rect x="335.40" y="194.00" width="1.20" height="1.20" fill="#60b040"/>
<rect x="336.90" y="194.00" width="1.20" height="1.20" fill="#d04040"/>
<rect x="348.20" y="194.60" width="1.00" height="0.90" fill="#8fb0e0"/>
<rect x="357.70" y="194.60" width="1.00" height="0.90" fill="#8fb0e0"/>
<rect x="369.80" y="194.60" width="1.00" height="0.90" fill="#8fb0e0"/>
<rect x="381.00" y="194.60" width="1.00" height="0.90" fill="#8fb0e0"/>
<rect x="391.90" y="194.60" width="1.00" height="0.90" fill="#8fb0e0"/>
<rect x="409.60" y="194.60" width="1.00" height="0.90" fill="#8fb0e0"/>
<text x="385.20" y="186.50" font-size="3.4" textLength="52.00" lengthAdjust="spacingAndGlyphs" text-rendering="geometricPrecision" stroke="#222" stroke-width="0.04">Forward primer: Transposon Gr1 ALTR</text>
<text x="385.20" y="191.30" font-size="3.4" textLength="41.00" lengthAdjust="spacingAndGlyphs" text-rendering="geometricPrecision" stroke="#222" stroke-width="0.04">Reverse primer: Setbp1 Exon2</text>
<rect x="316.50" y="213.30" width="122.30" height="18.20" fill="#fffaf2" stroke="#efc282" stroke-width="0.7" rx="0.8"/>
<path d="M317.50,220.70 Q318.50,215.77 319.50,220.70" fill="none" stroke="#303030" stroke-width="0.35" />
<path d="M319.55,220.70 Q320.55,215.52 321.55,220.70" fill="none" stroke="#3050c0" stroke-width="0.35" />
<path d="M321.60,220.70 Q322.60,216.01 323.60,220.70" fill="none" stroke="#d03040" stroke-width="0.35" />
<path d="M323.65,220.70 Q324.65,216.73 325.65,220.70" fill="none" stroke="#3050c0" stroke-width="0.35" />
<path d="M325.70,220.70 Q326.70,216.29 327.70,220.70" fill="none" stroke="#40a040" stroke-width="0.35" />
<path d="M327.75,220.70 Q328.75,215.80 329.75,220.70" fill="none" stroke="#3050c0" stroke-width="0.35" />
<path d="M329.80,220.70 Q330.80,215.32 331.80,220.70" fill="none" stroke="#d03040" stroke-width="0.35" />
<path d="M331.85,220.70 Q332.85,215.72 333.85,220.70" fill="none" stroke="#d03040" stroke-width="0.35" />
<path d="M333.90,220.70 Q334.90,211.10 335.90,220.70" fill="none" stroke="#50b050" stroke-width="0.35" />
<path d="M335.95,220.70 Q336.95,217.16 337.95,220.70" fill="none" stroke="#3050c0" stroke-width="0.35" />
<path d="M338.00,220.70 Q339.00,215.43 340.00,220.70" fill="none" stroke="#d03040" stroke-width="0.35" />
<path d="M340.05,220.70 Q341.05,216.30 342.05,220.70" fill="none" stroke="#d03040" stroke-width="0.35" />
<path d="M342.10,220.70 Q343.10,217.23 344.10,220.70" fill="none" stroke="#d03040" stroke-width="0.35" />
<path d="M344.15,220.70 Q345.15,215.19 346.15,220.70" fill="none" stroke="#d03040" stroke-width="0.35" />
<path d="M346.20,220.70 Q347.20,217.64 348.20,220.70" fill="none" stroke="#303030" stroke-width="0.35" />
<path d="M348.25,220.70 Q349.25,217.01 350.25,220.70" fill="none" stroke="#d03040" stroke-width="0.35" />
<path d="M350.30,220.70 Q351.30,216.15 352.30,220.70" fill="none" stroke="#3050c0" stroke-width="0.35" />
<path d="M352.35,220.70 Q353.35,216.89 354.35,220.70" fill="none" stroke="#3050c0" stroke-width="0.35" />
<path d="M354.40,220.70 Q355.40,215.89 356.40,220.70" fill="none" stroke="#40a040" stroke-width="0.35" />
<path d="M356.45,220.70 Q357.45,211.10 358.45,220.70" fill="none" stroke="#50b050" stroke-width="0.35" />
<path d="M358.50,220.70 Q359.50,215.23 360.50,220.70" fill="none" stroke="#3050c0" stroke-width="0.35" />
<path d="M360.55,220.70 Q361.55,217.65 362.55,220.70" fill="none" stroke="#40a040" stroke-width="0.35" />
<path d="M362.60,220.70 Q363.60,216.72 364.60,220.70" fill="none" stroke="#303030" stroke-width="0.35" />
<path d="M364.65,220.70 Q365.65,217.58 366.65,220.70" fill="none" stroke="#40a040" stroke-width="0.35" />
<path d="M366.70,220.70 Q367.70,217.39 368.70,220.70" fill="none" stroke="#d03040" stroke-width="0.35" />
<path d="M368.75,220.70 Q369.75,216.80 370.75,220.70" fill="none" stroke="#40a040" stroke-width="0.35" />
<path d="M370.80,220.70 Q371.80,215.68 372.80,220.70" fill="none" stroke="#303030" stroke-width="0.35" />
<path d="M372.85,220.70 Q373.85,211.10 374.85,220.70" fill="none" stroke="#50b050" stroke-width="0.35" />
<path d="M374.90,220.70 Q375.90,217.16 376.90,220.70" fill="none" stroke="#3050c0" stroke-width="0.35" />
<path d="M376.95,220.70 Q377.95,215.31 378.95,220.70" fill="none" stroke="#303030" stroke-width="0.35" />
<path d="M379.00,220.70 Q380.00,216.89 381.00,220.70" fill="none" stroke="#3050c0" stroke-width="0.35" />
<path d="M381.05,220.70 Q382.05,215.62 383.05,220.70" fill="none" stroke="#d03040" stroke-width="0.35" />
<path d="M383.10,220.70 Q384.10,215.11 385.10,220.70" fill="none" stroke="#303030" stroke-width="0.35" />
<path d="M385.15,220.70 Q386.15,217.49 387.15,220.70" fill="none" stroke="#3050c0" stroke-width="0.35" />
<path d="M387.20,220.70 Q388.20,217.62 389.20,220.70" fill="none" stroke="#40a040" stroke-width="0.35" />
<path d="M389.25,220.70 Q390.25,215.55 391.25,220.70" fill="none" stroke="#303030" stroke-width="0.35" />
<path d="M391.30,220.70 Q392.30,217.32 393.30,220.70" fill="none" stroke="#40a040" stroke-width="0.35" />
<path d="M393.35,220.70 Q394.35,215.62 395.35,220.70" fill="none" stroke="#3050c0" stroke-width="0.35" />
<path d="M395.40,220.70 Q396.40,217.36 397.40,220.70" fill="none" stroke="#d03040" stroke-width="0.35" />
<path d="M397.45,220.70 Q398.45,216.06 399.45,220.70" fill="none" stroke="#d03040" stroke-width="0.35" />
<path d="M399.50,220.70 Q400.50,217.26 401.50,220.70" fill="none" stroke="#3050c0" stroke-width="0.35" />
<path d="M401.55,220.70 Q402.55,215.50 403.55,220.70" fill="none" stroke="#3050c0" stroke-width="0.35" />
<path d="M403.60,220.70 Q404.60,215.30 405.60,220.70" fill="none" stroke="#40a040" stroke-width="0.35" />
<path d="M405.65,220.70 Q406.65,215.16 407.65,220.70" fill="none" stroke="#d03040" stroke-width="0.35" />
<path d="M407.70,220.70 Q408.70,215.91 409.70,220.70" fill="none" stroke="#40a040" stroke-width="0.35" />
<path d="M409.75,220.70 Q410.75,216.94 411.75,220.70" fill="none" stroke="#303030" stroke-width="0.35" />
<path d="M411.80,220.70 Q412.80,217.41 413.80,220.70" fill="none" stroke="#d03040" stroke-width="0.35" />
<path d="M413.85,220.70 Q414.85,216.07 415.85,220.70" fill="none" stroke="#d03040" stroke-width="0.35" />
<path d="M415.90,220.70 Q416.90,217.23 417.90,220.70" fill="none" stroke="#303030" stroke-width="0.35" />
<path d="M417.95,220.70 Q418.95,217.54 419.95,220.70" fill="none" stroke="#303030" stroke-width="0.35" />
<path d="M420.00,220.70 Q421.00,215.89 422.00,220.70" fill="none" stroke="#303030" stroke-width="0.35" />
<path d="M422.05,220.70 Q423.05,216.76 424.05,220.70" fill="none" stroke="#303030" stroke-width="0.35" />
<path d="M424.10,220.70 Q425.10,215.53 426.10,220.70" fill="none" stroke="#303030" stroke-width="0.35" />
<path d="M426.15,220.70 Q427.15,215.21 428.15,220.70" fill="none" stroke="#303030" stroke-width="0.35" />
<path d="M428.20,220.70 Q429.20,211.10 430.20,220.70" fill="none" stroke="#50b050" stroke-width="0.35" />
<path d="M430.25,220.70 Q431.25,216.85 432.25,220.70" fill="none" stroke="#303030" stroke-width="0.35" />
<path d="M432.30,220.70 Q433.30,215.58 434.30,220.70" fill="none" stroke="#303030" stroke-width="0.35" />
<path d="M434.35,220.70 Q435.35,216.80 436.35,220.70" fill="none" stroke="#303030" stroke-width="0.35" />
<line x1="318.00" y1="220.70" x2="437.30" y2="220.70" stroke="#888" stroke-width="0.2"/>
<rect x="317.50" y="222.80" width="58.50" height="2.60" fill="#f0e2c4"/>
<rect x="376.00" y="222.80" width="61.80" height="2.60" fill="#d4d6ec"/>
<rect x="317.80" y="223.30" width="1.40" height="1.60" fill="#9a7fb0"/>
<rect x="319.85" y="223.30" width="1.40" height="1.60" fill="#8080a8"/>
<rect x="321.90" y="223.30" width="1.40" height="1.60" fill="#c09060"/>
<rect x="323.95" y="223.30" width="1.40" height="1.60" fill="#9090b0"/>
<rect x="326.00" y="223.30" width="1.40" height="1.60" fill="#9a7fb0"/>
<rect x="328.05" y="223.30" width="1.40" height="1.60" fill="#8080a8"/>
<rect x="330.10" y="223.30" width="1.40" height="1.60" fill="#c09060"/>
<rect x="332.15" y="223.30" width="1.40" height="1.60" fill="#c09060"/>
<rect x="334.20" y="223.30" width="1.40" height="1.60" fill="#d0a050"/>
<rect x="336.25" y="223.30" width="1.40" height="1.60" fill="#9090b0"/>
<rect x="338.30" y="223.30" width="1.40" height="1.60" fill="#d0a050"/>
<rect x="340.35" y="223.30" width="1.40" height="1.60" fill="#9090b0"/>
<rect x="342.40" y="223.30" width="1.40" height="1.60" fill="#9090b0"/>
<rect x="344.45" y="223.30" width="1.40" height="1.60" fill="#c09060"/>
<rect x="346.50" y="223.30" width="1.40" height="1.60" fill="#8080a8"/>
<rect x="348.55" y="223.30" width="1.40" height="1.60" fill="#c09060"/>
<rect x="350.60" y="223.30" width="1.40" height="1.60" fill="#9a7fb0"/>
<rect x="352.65" y="223.30" width="1.40" height="1.60" fill="#b0a070"/>
<rect x="354.70" y="223.30" width="1.40" height="1.60" fill="#9a7fb0"/>
<rect x="356.75" y="223.30" width="1.40" height="1.60" fill="#9a7fb0"/>
<rect x="358.80" y="223.30" width="1.40" height="1.60" fill="#9a7fb0"/>
<rect x="360.85" y="223.30" width="1.40" height="1.60" fill="#8080a8"/>
<rect x="362.90" y="223.30" width="1.40" height="1.60" fill="#9090b0"/>
<rect x="364.95" y="223.30" width="1.40" height="1.60" fill="#d0a050"/>
<rect x="367.00" y="223.30" width="1.40" height="1.60" fill="#d0a050"/>
<rect x="369.05" y="223.30" width="1.40" height="1.60" fill="#d0a050"/>
<rect x="371.10" y="223.30" width="1.40" height="1.60" fill="#9a7fb0"/>
<rect x="373.15" y="223.30" width="1.40" height="1.60" fill="#8080a8"/>
<rect x="375.20" y="223.30" width="1.40" height="1.60" fill="#c09060"/>
<rect x="377.25" y="223.30" width="1.40" height="1.60" fill="#d0a050"/>
<rect x="379.30" y="223.30" width="1.40" height="1.60" fill="#d0a050"/>
<rect x="381.35" y="223.30" width="1.40" height="1.60" fill="#9a7fb0"/>
<rect x="383.40" y="223.30" width="1.40" height="1.60" fill="#c09060"/>
<rect x="385.45" y="223.30" width="1.40" height="1.60" fill="#9a7fb0"/>
<rect x="387.50" y="223.30" width="1.40" height="1.60" fill="#b0a070"/>
<rect x="389.55" y="223.30" width="1.40" height="1.60" fill="#9090b0"/>
<rect x="391.60" y="223.30" width="1.40" height="1.60" fill="#9090b0"/>
<rect x="393.65" y="223.30" width="1.40" height="1.60" fill="#d0a050"/>
<rect x="395.70" y="223.30" width="1.40" height="1.60" fill="#8080a8"/>
<rect x="397.75" y="223.30" width="1.40" height="1.60" fill="#d0a050"/>
<rect x="399.80" y="223.30" width="1.40" height="1.60" fill="#9a7fb0"/>
<rect x="401.85" y="223.30" width="1.40" height="1.60" fill="#9090b0"/>
<rect x="403.90" y="223.30" width="1.40" height="1.60" fill="#9090b0"/>
<rect x="405.95" y="223.30" width="1.40" height="1.60" fill="#9a7fb0"/>
<rect x="408.00" y="223.30" width="1.40" height="1.60" fill="#9090b0"/>
<rect x="410.05" y="223.30" width="1.40" height="1.60" fill="#9a7fb0"/>
<rect x="412.10" y="223.30" width="1.40" height="1.60" fill="#9a7fb0"/>
<rect x="414.15" y="223.30" width="1.40" height="1.60" fill="#b0a070"/>
<rect x="416.20" y="223.30" width="1.40" height="1.60" fill="#8080a8"/>
<rect x="418.25" y="223.30" width="1.40" height="1.60" fill="#9090b0"/>
<rect x="420.30" y="223.30" width="1.40" height="1.60" fill="#9090b0"/>
<rect x="422.35" y="223.30" width="1.40" height="1.60" fill="#b0a070"/>
<rect x="424.40" y="223.30" width="1.40" height="1.60" fill="#9090b0"/>
<rect x="426.45" y="223.30" width="1.40" height="1.60" fill="#b0a070"/>
<rect x="428.50" y="223.30" width="1.40" height="1.60" fill="#c09060"/>
<rect x="430.55" y="223.30" width="1.40" height="1.60" fill="#9090b0"/>
<rect x="432.60" y="223.30" width="1.40" height="1.60" fill="#8080a8"/>
<rect x="434.65" y="223.30" width="1.40" height="1.60" fill="#9090b0"/>
<text x="339.20" y="229.50" font-size="3.4" text-anchor="middle" text-rendering="geometricPrecision" stroke="#222" stroke-width="0.04">Transposon</text>
<text x="397.50" y="229.50" font-size="3.4" text-anchor="middle" text-rendering="geometricPrecision" stroke="#222" stroke-width="0.04">Setbp1 Exon2</text>
<text x="317.60" y="212.00" font-size="3.6" fill="#d02840" textLength="42.50" lengthAdjust="spacingAndGlyphs" text-rendering="geometricPrecision" stroke="#d02840" stroke-width="0.04">Sequence from Leukemia No12</text>
<text x="317.00" y="234.90" font-size="3.8" textLength="27.00" lengthAdjust="spacingAndGlyphs" text-rendering="geometricPrecision" stroke="#222" stroke-width="0.04">Read coverage range</text>
<circle cx="318.5" cy="237.7" r="0.95" fill="#c02030"/>
<text x="321.10" y="238.90" font-size="3.4" text-rendering="geometricPrecision" stroke="#222" stroke-width="0.04">10000-20000</text>
<circle cx="318.5" cy="241.5" r="0.95" fill="#e88a20"/>
<text x="321.10" y="242.70" font-size="3.4" text-rendering="geometricPrecision" stroke="#222" stroke-width="0.04">5000-9999</text>
<circle cx="318.5" cy="245.3" r="0.95" fill="#e8c830"/>
<text x="321.10" y="246.50" font-size="3.4" text-rendering="geometricPrecision" stroke="#222" stroke-width="0.04">1000-4999</text>
<circle cx="318.5" cy="249.1" r="0.95" fill="#7ab648"/>
<text x="321.10" y="250.30" font-size="3.4" text-rendering="geometricPrecision" stroke="#222" stroke-width="0.04">800-999</text>
<circle cx="346.6" cy="237.7" r="0.95" fill="#e8a060"/>
<text x="349.20" y="238.90" font-size="3.4" text-rendering="geometricPrecision" stroke="#222" stroke-width="0.04">400-599</text>
<circle cx="346.6" cy="241.5" r="0.95" fill="#2a7a7a"/>
<text x="349.20" y="242.70" font-size="3.4" text-rendering="geometricPrecision" stroke="#222" stroke-width="0.04">200-399</text>
<circle cx="346.6" cy="245.3" r="0.95" fill="#4060c0"/>
<text x="349.20" y="246.50" font-size="3.4" text-rendering="geometricPrecision" stroke="#222" stroke-width="0.04">60-199</text>
<text x="470.9" y="168.6" font-size="5.2" fill="#222" stroke="#222" stroke-width="0.07" textLength="42.3" lengthAdjust="spacingAndGlyphs"><tspan font-style="italic">Setbp1</tspan> expression</text>
<line x1="476.40" y1="174.00" x2="476.40" y2="230.60" stroke="#222" stroke-width="0.75"/>
<line x1="476.10" y1="230.60" x2="507.30" y2="230.60" stroke="#222" stroke-width="0.75"/>
<line x1="474.90" y1="174.60" x2="476.40" y2="174.60" stroke="#333" stroke-width="0.5"/>
<text x="474.60" y="176.10" font-size="4.4" text-rendering="geometricPrecision" text-anchor="end">10</text>
<line x1="474.90" y1="193.20" x2="476.40" y2="193.20" stroke="#333" stroke-width="0.5"/>
<text x="474.60" y="194.70" font-size="4.4" text-rendering="geometricPrecision" text-anchor="end">5</text>
<line x1="474.90" y1="211.90" x2="476.40" y2="211.90" stroke="#333" stroke-width="0.5"/>
<text x="474.60" y="213.40" font-size="4.4" text-rendering="geometricPrecision" text-anchor="end">0</text>
<line x1="474.90" y1="230.60" x2="476.40" y2="230.60" stroke="#333" stroke-width="0.5"/>
<text x="474.60" y="232.10" font-size="4.4" text-rendering="geometricPrecision" text-anchor="end">-5</text>
<text x="465.00" y="202.40" font-size="5.0" text-anchor="middle" font-weight="bold" fill="#111" textLength="36.00" lengthAdjust="spacingAndGlyphs" transform="rotate(-90 465.00 202.40)" text-rendering="geometricPrecision" stroke="#111" stroke-width="0.04">Normalised FPKM</text>
<line x1="487.00" y1="185.40" x2="497.00" y2="185.40" stroke="#555" stroke-width="0.4"/>
<line x1="487.00" y1="185.40" x2="487.00" y2="224.00" stroke="#888" stroke-width="0.35"/>
<line x1="497.00" y1="185.40" x2="497.00" y2="196.50" stroke="#888" stroke-width="0.35"/>
<text x="492.00" y="187.20" font-size="4.0" text-anchor="middle" fill="#e03050" text-rendering="geometricPrecision" stroke="#e03050" stroke-width="0.04">****</text>
<circle cx="487.5" cy="224.3" r="0.75" fill="none" stroke="#5a6a9a" stroke-width="0.35"/>
<circle cx="486.3" cy="226.2" r="0.75" fill="none" stroke="#5a6a9a" stroke-width="0.35"/>
<circle cx="488.7" cy="226.2" r="0.75" fill="none" stroke="#5a6a9a" stroke-width="0.35"/>
<circle cx="487.5" cy="226.6" r="0.75" fill="none" stroke="#5a6a9a" stroke-width="0.35"/>
<line x1="485.60" y1="225.40" x2="489.40" y2="225.40" stroke="#4a5a8a" stroke-width="0.35"/>
<line x1="487.50" y1="223.20" x2="487.50" y2="227.20" stroke="#4a5a8a" stroke-width="0.35"/>
<circle cx="497.5" cy="196.9" r="0.7" fill="none" stroke="#c84060" stroke-width="0.35"/>
<circle cx="497.5" cy="199.2" r="0.7" fill="none" stroke="#c84060" stroke-width="0.35"/>
<circle cx="496.6" cy="198.3" r="0.7" fill="none" stroke="#c84060" stroke-width="0.35"/>
<circle cx="498.4" cy="198.3" r="0.7" fill="none" stroke="#c84060" stroke-width="0.35"/>
<line x1="494.60" y1="198.00" x2="500.40" y2="198.00" stroke="#aaa" stroke-width="0.4"/>
<line x1="497.50" y1="196.00" x2="497.50" y2="200.00" stroke="#c84060" stroke-width="0.4"/>
<text x="462.00" y="261.50" font-size="4.0" textLength="38.00" lengthAdjust="spacingAndGlyphs" transform="rotate(-45 462.00 261.50)" text-rendering="geometricPrecision" stroke="#222" stroke-width="0.04">WT Lineage negative</text>
<text x="474.5" y="259.5" font-size="4.0" fill="#222" stroke="#222" stroke-width="0.07" transform="rotate(-45 474.5 259.5)" textLength="34" lengthAdjust="spacingAndGlyphs"><tspan font-style="italic">Flt3</tspan><tspan font-size="2.4" dy="-1.5">ITD/+</tspan><tspan dy="1.5"> </tspan><tspan font-style="italic">Setbp1</tspan><tspan font-size="2.4" dy="-1.5">cis/+</tspan></text>
<rect x="271.20" y="301.60" width="18.70" height="32.00" fill="#0c0c0c"/>
<rect x="271.60" y="302.60" width="3.20" height="30.00" fill="#1a1a1a" opacity="0.5"/>
<rect x="272.40" y="302.90" width="1.60" height="1.20" fill="#ffffff" opacity="0.35"/>
<rect x="272.40" y="306.10" width="1.60" height="1.20" fill="#ffffff" opacity="0.4"/>
<rect x="272.40" y="309.50" width="1.60" height="1.20" fill="#ffffff" opacity="0.45"/>
<rect x="272.20" y="313.10" width="2.00" height="1.20" fill="#ffffff" opacity="0.85"/>
<rect x="272.30" y="315.50" width="1.80" height="1.20" fill="#ffffff" opacity="0.5"/>
<rect x="272.20" y="318.00" width="2.00" height="1.20" fill="#ffffff" opacity="0.8"/>
<rect x="272.40" y="321.60" width="1.60" height="1.20" fill="#ffffff" opacity="0.45"/>
<rect x="272.50" y="323.90" width="1.40" height="1.20" fill="#ffffff" opacity="0.35"/>
<rect x="272.50" y="327.00" width="1.40" height="1.20" fill="#ffffff" opacity="0.35"/>
<rect x="272.60" y="329.90" width="1.20" height="1.20" fill="#ffffff" opacity="0.25"/>
<rect x="276.60" y="302.60" width="3.20" height="30.00" fill="#1a1a1a" opacity="0.5"/>
<rect x="277.10" y="317.60" width="2.20" height="1.20" fill="#ffffff" opacity="0.2"/>
<rect x="276.90" y="321.20" width="2.60" height="1.20" fill="#ffffff" opacity="0.7"/>
<rect x="281.70" y="302.60" width="3.20" height="30.00" fill="#1a1a1a" opacity="0.5"/>
<rect x="282.10" y="321.20" width="2.40" height="1.20" fill="#ffffff" opacity="0.3"/>
<text x="269.90" y="308.30" font-size="3.8" text-anchor="end" text-rendering="geometricPrecision" stroke="#222" stroke-width="0.04">3000</text>
<text x="269.90" y="315.40" font-size="3.8" text-anchor="end" text-rendering="geometricPrecision" stroke="#222" stroke-width="0.04">1000</text>
<text x="269.90" y="320.50" font-size="3.8" text-anchor="end" text-rendering="geometricPrecision" stroke="#222" stroke-width="0.04">500</text>
<text x="269.90" y="328.90" font-size="3.8" text-anchor="end" text-rendering="geometricPrecision" stroke="#222" stroke-width="0.04">100</text>
<text x="271.20" y="299.80" font-size="3.4" textLength="25.00" lengthAdjust="spacingAndGlyphs" transform="rotate(-34 271.20 299.80)" text-rendering="geometricPrecision" stroke="#222" stroke-width="0.04">100bp DNA ladder</text>
<text x="277.80" y="300.50" font-size="3.4" textLength="39.50" lengthAdjust="spacingAndGlyphs" transform="rotate(-34 277.80 300.50)" text-rendering="geometricPrecision" stroke="#222" stroke-width="0.04">Flt3ITD/+ Runx1cis/+ Leukemia 2</text>
<text x="284.00" y="300.40" font-size="3.4" textLength="43.00" lengthAdjust="spacingAndGlyphs" transform="rotate(-34 284.00 300.40)" text-rendering="geometricPrecision" stroke="#222" stroke-width="0.04">Flt3ITD/+ Runx1cis/+ Leukemia 13</text>
<text x="302.10" y="294.40" font-size="3.4" textLength="52.00" lengthAdjust="spacingAndGlyphs" text-rendering="geometricPrecision" stroke="#222" stroke-width="0.04">Forward primer: Transposon Gr1 ALTR</text>
<text x="302.10" y="298.40" font-size="3.4" textLength="40.00" lengthAdjust="spacingAndGlyphs" text-rendering="geometricPrecision" stroke="#222" stroke-width="0.04">Reverse primer: Runx1 Exon8</text>
<rect x="301.80" y="300.20" width="122.50" height="18.30" fill="#fffaf2" stroke="#efc282" stroke-width="0.7" rx="0.8"/>
<path d="M302.70,308.50 Q303.80,300.93 304.90,308.50" fill="none" stroke="#40a040" stroke-width="0.35" />
<path d="M305.25,308.50 Q306.35,302.25 307.45,308.50" fill="none" stroke="#40a040" stroke-width="0.35" />
<path d="M307.80,308.50 Q308.90,303.11 310.00,308.50" fill="none" stroke="#d03040" stroke-width="0.35" />
<path d="M310.35,308.50 Q311.45,303.40 312.55,308.50" fill="none" stroke="#d03040" stroke-width="0.35" />
<path d="M312.90,308.50 Q314.00,301.98 315.10,308.50" fill="none" stroke="#3050c0" stroke-width="0.35" />
<path d="M315.45,308.50 Q316.55,301.79 317.65,308.50" fill="none" stroke="#3050c0" stroke-width="0.35" />
<path d="M318.00,308.50 Q319.10,301.61 320.20,308.50" fill="none" stroke="#40a040" stroke-width="0.35" />
<path d="M320.55,308.50 Q321.65,301.71 322.75,308.50" fill="none" stroke="#d03040" stroke-width="0.35" />
<path d="M323.10,308.50 Q324.20,303.51 325.30,308.50" fill="none" stroke="#3050c0" stroke-width="0.35" />
<path d="M325.65,308.50 Q326.75,301.78 327.85,308.50" fill="none" stroke="#d03040" stroke-width="0.35" />
<path d="M328.20,308.50 Q329.30,302.29 330.40,308.50" fill="none" stroke="#303030" stroke-width="0.35" />
<path d="M330.75,308.50 Q331.85,301.65 332.95,308.50" fill="none" stroke="#d03040" stroke-width="0.35" />
<path d="M333.30,308.50 Q334.40,302.24 335.50,308.50" fill="none" stroke="#3050c0" stroke-width="0.35" />
<path d="M335.85,308.50 Q336.95,301.44 338.05,308.50" fill="none" stroke="#3050c0" stroke-width="0.35" />
<path d="M338.40,308.50 Q339.50,298.10 340.60,308.50" fill="none" stroke="#50b050" stroke-width="0.35" />
<path d="M340.95,308.50 Q342.05,302.42 343.15,308.50" fill="none" stroke="#3050c0" stroke-width="0.35" />
<path d="M343.50,308.50 Q344.60,298.10 345.70,308.50" fill="none" stroke="#50b050" stroke-width="0.35" />
<path d="M346.05,308.50 Q347.15,303.02 348.25,308.50" fill="none" stroke="#3050c0" stroke-width="0.35" />
<path d="M348.60,308.50 Q349.70,302.20 350.80,308.50" fill="none" stroke="#3050c0" stroke-width="0.35" />
<path d="M351.15,308.50 Q352.25,302.36 353.35,308.50" fill="none" stroke="#40a040" stroke-width="0.35" />
<path d="M353.70,308.50 Q354.80,301.21 355.90,308.50" fill="none" stroke="#d03040" stroke-width="0.35" />
<path d="M356.25,308.50 Q357.35,298.10 358.45,308.50" fill="none" stroke="#50b050" stroke-width="0.35" />
<path d="M358.80,308.50 Q359.90,301.27 361.00,308.50" fill="none" stroke="#40a040" stroke-width="0.35" />
<path d="M361.35,308.50 Q362.45,298.10 363.55,308.50" fill="none" stroke="#50b050" stroke-width="0.35" />
<path d="M363.90,308.50 Q365.00,301.15 366.10,308.50" fill="none" stroke="#40a040" stroke-width="0.35" />
<path d="M366.45,308.50 Q367.55,302.27 368.65,308.50" fill="none" stroke="#d03040" stroke-width="0.35" />
<path d="M369.00,308.50 Q370.10,302.36 371.20,308.50" fill="none" stroke="#d03040" stroke-width="0.35" />
<path d="M371.55,308.50 Q372.65,302.35 373.75,308.50" fill="none" stroke="#40a040" stroke-width="0.35" />
<path d="M374.10,308.50 Q375.20,300.93 376.30,308.50" fill="none" stroke="#303030" stroke-width="0.35" />
<path d="M376.65,308.50 Q377.75,298.10 378.85,308.50" fill="none" stroke="#50b050" stroke-width="0.35" />
<path d="M379.20,308.50 Q380.30,302.44 381.40,308.50" fill="none" stroke="#d03040" stroke-width="0.35" />
<path d="M381.75,308.50 Q382.85,303.57 383.95,308.50" fill="none" stroke="#3050c0" stroke-width="0.35" />
<path d="M384.30,308.50 Q385.40,302.87 386.50,308.50" fill="none" stroke="#40a040" stroke-width="0.35" />
<path d="M386.85,308.50 Q387.95,301.04 389.05,308.50" fill="none" stroke="#303030" stroke-width="0.35" />
<path d="M389.40,308.50 Q390.50,303.41 391.60,308.50" fill="none" stroke="#3050c0" stroke-width="0.35" />
<path d="M391.95,308.50 Q393.05,303.65 394.15,308.50" fill="none" stroke="#d03040" stroke-width="0.35" />
<path d="M394.50,308.50 Q395.60,303.29 396.70,308.50" fill="none" stroke="#40a040" stroke-width="0.35" />
<path d="M397.05,308.50 Q398.15,300.93 399.25,308.50" fill="none" stroke="#d03040" stroke-width="0.35" />
<path d="M399.60,308.50 Q400.70,302.71 401.80,308.50" fill="none" stroke="#d03040" stroke-width="0.35" />
<path d="M402.15,308.50 Q403.25,301.38 404.35,308.50" fill="none" stroke="#d03040" stroke-width="0.35" />
<path d="M404.70,308.50 Q405.80,301.50 406.90,308.50" fill="none" stroke="#d03040" stroke-width="0.35" />
<path d="M407.25,308.50 Q408.35,301.77 409.45,308.50" fill="none" stroke="#40a040" stroke-width="0.35" />
<path d="M409.80,308.50 Q410.90,303.35 412.00,308.50" fill="none" stroke="#3050c0" stroke-width="0.35" />
<path d="M412.35,308.50 Q413.45,302.94 414.55,308.50" fill="none" stroke="#303030" stroke-width="0.35" />
<path d="M414.90,308.50 Q416.00,302.35 417.10,308.50" fill="none" stroke="#303030" stroke-width="0.35" />
<path d="M417.45,308.50 Q418.55,302.76 419.65,308.50" fill="none" stroke="#40a040" stroke-width="0.35" />
<path d="M420.00,308.50 Q421.10,303.30 422.20,308.50" fill="none" stroke="#3050c0" stroke-width="0.35" />
<line x1="303.30" y1="308.50" x2="422.80" y2="308.50" stroke="#888" stroke-width="0.2"/>
<rect x="302.80" y="311.30" width="59.90" height="2.60" fill="#f0e2c4"/>
<rect x="362.70" y="311.30" width="60.60" height="2.60" fill="#d4d6ec"/>
<rect x="303.00" y="311.80" width="1.60" height="1.60" fill="#9a7fb0"/>
<rect x="305.55" y="311.80" width="1.60" height="1.60" fill="#d0a050"/>
<rect x="308.10" y="311.80" width="1.60" height="1.60" fill="#d0a050"/>
<rect x="310.65" y="311.80" width="1.60" height="1.60" fill="#b0a070"/>
<rect x="313.20" y="311.80" width="1.60" height="1.60" fill="#c09060"/>
<rect x="315.75" y="311.80" width="1.60" height="1.60" fill="#9090b0"/>
<rect x="318.30" y="311.80" width="1.60" height="1.60" fill="#9090b0"/>
<rect x="320.85" y="311.80" width="1.60" height="1.60" fill="#9a7fb0"/>
<rect x="323.40" y="311.80" width="1.60" height="1.60" fill="#b0a070"/>
<rect x="325.95" y="311.80" width="1.60" height="1.60" fill="#b0a070"/>
<rect x="328.50" y="311.80" width="1.60" height="1.60" fill="#c09060"/>
<rect x="331.05" y="311.80" width="1.60" height="1.60" fill="#8080a8"/>
<rect x="333.60" y="311.80" width="1.60" height="1.60" fill="#8080a8"/>
<rect x="336.15" y="311.80" width="1.60" height="1.60" fill="#9090b0"/>
<rect x="338.70" y="311.80" width="1.60" height="1.60" fill="#b0a070"/>
<rect x="341.25" y="311.80" width="1.60" height="1.60" fill="#b0a070"/>
<rect x="343.80" y="311.80" width="1.60" height="1.60" fill="#9090b0"/>
<rect x="346.35" y="311.80" width="1.60" height="1.60" fill="#c09060"/>
<rect x="348.90" y="311.80" width="1.60" height="1.60" fill="#c09060"/>
<rect x="351.45" y="311.80" width="1.60" height="1.60" fill="#d0a050"/>
<rect x="354.00" y="311.80" width="1.60" height="1.60" fill="#d0a050"/>
<rect x="356.55" y="311.80" width="1.60" height="1.60" fill="#9090b0"/>
<rect x="359.10" y="311.80" width="1.60" height="1.60" fill="#b0a070"/>
<rect x="361.65" y="311.80" width="1.60" height="1.60" fill="#c09060"/>
<rect x="364.20" y="311.80" width="1.60" height="1.60" fill="#9090b0"/>
<rect x="366.75" y="311.80" width="1.60" height="1.60" fill="#8080a8"/>
<rect x="369.30" y="311.80" width="1.60" height="1.60" fill="#c09060"/>
<rect x="371.85" y="311.80" width="1.60" height="1.60" fill="#9a7fb0"/>
<rect x="374.40" y="311.80" width="1.60" height="1.60" fill="#9a7fb0"/>
<rect x="376.95" y="311.80" width="1.60" height="1.60" fill="#9a7fb0"/>
<rect x="379.50" y="311.80" width="1.60" height="1.60" fill="#d0a050"/>
<rect x="382.05" y="311.80" width="1.60" height="1.60" fill="#d0a050"/>
<rect x="384.60" y="311.80" width="1.60" height="1.60" fill="#9090b0"/>
<rect x="387.15" y="311.80" width="1.60" height="1.60" fill="#d0a050"/>
<rect x="389.70" y="311.80" width="1.60" height="1.60" fill="#b0a070"/>
<rect x="392.25" y="311.80" width="1.60" height="1.60" fill="#b0a070"/>
<rect x="394.80" y="311.80" width="1.60" height="1.60" fill="#8080a8"/>
<rect x="397.35" y="311.80" width="1.60" height="1.60" fill="#c09060"/>
<rect x="399.90" y="311.80" width="1.60" height="1.60" fill="#9a7fb0"/>
<rect x="402.45" y="311.80" width="1.60" height="1.60" fill="#c09060"/>
<rect x="405.00" y="311.80" width="1.60" height="1.60" fill="#b0a070"/>
<rect x="407.55" y="311.80" width="1.60" height="1.60" fill="#b0a070"/>
<rect x="410.10" y="311.80" width="1.60" height="1.60" fill="#d0a050"/>
<rect x="412.65" y="311.80" width="1.60" height="1.60" fill="#9a7fb0"/>
<rect x="415.20" y="311.80" width="1.60" height="1.60" fill="#b0a070"/>
<rect x="417.75" y="311.80" width="1.60" height="1.60" fill="#8080a8"/>
<rect x="420.30" y="311.80" width="1.60" height="1.60" fill="#b0a070"/>
<text x="328.00" y="317.20" font-size="3.4" text-anchor="middle" text-rendering="geometricPrecision" stroke="#222" stroke-width="0.04">Transposon</text>
<text x="390.60" y="317.20" font-size="3.4" text-anchor="middle" text-rendering="geometricPrecision" stroke="#222" stroke-width="0.04">Runx1 Exon8</text>
<line x1="304.00" y1="314.60" x2="362.00" y2="314.60" stroke="#444" stroke-width="0.25"/>
<text x="302.00" y="323.00" font-size="3.6" fill="#d02840" textLength="42.50" lengthAdjust="spacingAndGlyphs" text-rendering="geometricPrecision" stroke="#d02840" stroke-width="0.04">Sequence from Leukemia No13</text>
<text x="431.20" y="302.20" font-size="3.6" textLength="29.00" lengthAdjust="spacingAndGlyphs" text-rendering="geometricPrecision" stroke="#222" stroke-width="0.04">Read coverage range</text>
<circle cx="432.2" cy="305.2" r="0.9" fill="#c02030"/>
<text x="435.00" y="306.40" font-size="3.4" text-rendering="geometricPrecision" stroke="#222" stroke-width="0.04">10000-20000</text>
<circle cx="432.2" cy="308.8" r="0.9" fill="#c06020"/>
<text x="435.00" y="310.00" font-size="3.4" text-rendering="geometricPrecision" stroke="#222" stroke-width="0.04">5000-9999</text>
<circle cx="432.2" cy="312.2" r="0.9" fill="#e8b830"/>
<text x="435.00" y="313.40" font-size="3.4" text-rendering="geometricPrecision" stroke="#222" stroke-width="0.04">1000-4999</text>
<circle cx="432.2" cy="315.6" r="0.9" fill="#40a040"/>
<text x="435.00" y="316.80" font-size="3.4" text-rendering="geometricPrecision" stroke="#222" stroke-width="0.04">800-999</text>
<circle cx="460" cy="305.2" r="0.9" fill="#c8c890"/>
<text x="462.80" y="306.40" font-size="3.4" text-rendering="geometricPrecision" stroke="#222" stroke-width="0.04">400-599</text>
<circle cx="460" cy="308.8" r="0.9" fill="#2a7a6a"/>
<text x="462.80" y="310.00" font-size="3.4" text-rendering="geometricPrecision" stroke="#222" stroke-width="0.04">200-399</text>
<circle cx="460" cy="312.2" r="0.9" fill="#60a0e0"/>
<text x="462.80" y="313.40" font-size="3.4" text-rendering="geometricPrecision" stroke="#222" stroke-width="0.04">60-199</text>
<text x="292.30" y="337.60" font-size="4.9" font-style="italic" textLength="10.80" lengthAdjust="spacingAndGlyphs" text-rendering="geometricPrecision" stroke="#222" stroke-width="0.04">Runx1</text>
<text x="292.10" y="340.60" font-size="1.9" fill="#444" textLength="20.00" lengthAdjust="spacingAndGlyphs" text-rendering="geometricPrecision" stroke="#444" stroke-width="0.04">chromosome 16 (reverse strand)</text>
<text x="312.60" y="337.60" font-size="2.8" text-rendering="geometricPrecision" stroke="#222" stroke-width="0.04">5'</text>
<rect x="315.80" y="335.30" width="3.30" height="2.40" fill="#111"/>
<path d="M319,336.5 L325.6,336.5 Q337,339 349.2,336.5 Q361,339.5 373.3,336.5 Q390,340.5 407.1,336.5 Q411.5,338.5 416,336.5" fill="none" stroke="#777" stroke-width="0.6" />
<line x1="325.60" y1="334.20" x2="325.60" y2="338.40" stroke="#444" stroke-width="0.45"/>
<line x1="349.20" y1="334.20" x2="349.20" y2="338.40" stroke="#444" stroke-width="0.45"/>
<line x1="373.30" y1="334.20" x2="373.30" y2="338.40" stroke="#444" stroke-width="0.45"/>
<line x1="407.10" y1="334.20" x2="407.10" y2="338.40" stroke="#444" stroke-width="0.45"/>
<rect x="415.70" y="335.30" width="4.10" height="2.40" fill="#111"/>
<text x="421.40" y="337.60" font-size="2.8" text-rendering="geometricPrecision" stroke="#222" stroke-width="0.04">3'</text>
<text x="320.50" y="340.90" font-size="1.9" text-anchor="middle" fill="#333" text-rendering="geometricPrecision" stroke="#333" stroke-width="0.04">Ex</text>
<text x="326.50" y="340.90" font-size="1.9" text-anchor="middle" fill="#333" text-rendering="geometricPrecision" stroke="#333" stroke-width="0.04">Ex</text>
<text x="350.00" y="340.90" font-size="1.9" text-anchor="middle" fill="#333" text-rendering="geometricPrecision" stroke="#333" stroke-width="0.04">Ex</text>
<text x="374.00" y="340.90" font-size="1.9" text-anchor="middle" fill="#333" text-rendering="geometricPrecision" stroke="#333" stroke-width="0.04">Ex</text>
<text x="408.50" y="340.90" font-size="1.9" text-anchor="middle" fill="#333" text-rendering="geometricPrecision" stroke="#333" stroke-width="0.04">Ex</text>
<text x="417.00" y="340.90" font-size="1.9" text-anchor="middle" fill="#333" text-rendering="geometricPrecision" stroke="#333" stroke-width="0.04">Ex</text>
<rect x="312.45" y="332.05" width="1.10" height="1.10" fill="#f0b030"/>
<rect x="313.65" y="332.05" width="1.10" height="1.10" fill="#f0b030"/>
<rect x="352.35" y="332.55" width="1.10" height="1.10" fill="#f0c040"/>
<rect x="357.85" y="328.05" width="1.10" height="1.10" fill="#d03050"/>
<rect x="357.85" y="330.05" width="1.10" height="1.10" fill="#f0c030"/>
<rect x="357.85" y="331.95" width="1.10" height="1.10" fill="#80b0e0"/>
<rect x="361.95" y="326.65" width="1.10" height="1.10" fill="#d03050"/>
<rect x="361.95" y="327.85" width="1.10" height="1.10" fill="#e070a0"/>
<rect x="361.95" y="329.65" width="1.10" height="1.10" fill="#f0c030"/>
<rect x="361.95" y="331.45" width="1.10" height="1.10" fill="#f0c030"/>
<rect x="361.95" y="333.05" width="1.10" height="1.10" fill="#70b040"/>
<rect x="378.05" y="332.65" width="1.10" height="1.10" fill="#d03050"/>
<rect x="409.45" y="332.05" width="1.10" height="1.10" fill="#e06080"/>
<path d="M320.40,342.20 L331.80,370.20 L337.10,370.20 Z" fill="#d7d7d7" />
<path d="M326.00,342.20 L337.10,370.20 L341.90,370.20 Z" fill="#d7d7d7" />
<path d="M349.60,342.20 L342.40,370.20 L354.90,370.20 Z" fill="#d7d7d7" />
<path d="M373.10,342.20 L355.00,370.20 L374.50,370.20 Z" fill="#d7d7d7" />
<path d="M405.60,342.20 L375.30,370.20 L386.80,370.20 Z" fill="#d7d7d7" />
<path d="M414.20,342.20 L388.20,370.20 L410.60,370.20 Z" fill="#d7d7d7" />
<path d="M351.40,342.50 L351.40,343.40 L365.20,343.40 L365.20,342.50" fill="none" stroke="#c8304e" stroke-width="0.5" />
<line x1="356.10" y1="343.40" x2="356.10" y2="364.50" stroke="#c8304e" stroke-width="0.55"/>
<path d="M355.2,363.6 L356.1,365.8 L357,363.6 Z" fill="#c8304e" />
<text x="359.80" y="359.60" font-size="3.4" fill="#c8304e" textLength="19.80" lengthAdjust="spacingAndGlyphs" text-rendering="geometricPrecision" stroke="#c8304e" stroke-width="0.04">Truncation site</text>
<rect x="327.40" y="370.30" width="83.00" height="6.50" fill="#ffffff" stroke="#777" stroke-width="0.5"/>
<rect x="332.60" y="370.30" width="23.00" height="6.50" fill="#bcd4ee" stroke="#8aa" stroke-width="0.3"/>
<rect x="375.30" y="370.30" width="29.80" height="6.50" fill="#eebc78" stroke="#b98" stroke-width="0.3"/>
<text x="344.10" y="375.20" font-size="4.6" text-anchor="middle" fill="#333" text-rendering="geometricPrecision" stroke="#333" stroke-width="0.04">RHD</text>
<text x="390.20" y="375.20" font-size="4.6" text-anchor="middle" fill="#333" text-rendering="geometricPrecision" stroke="#333" stroke-width="0.04">TAD</text>
<text x="324.30" y="375.40" font-size="4.8" text-anchor="end" fill="#333" textLength="13.60" lengthAdjust="spacingAndGlyphs" text-rendering="geometricPrecision" stroke="#333" stroke-width="0.04">RUNX1</text>
<text x="327.60" y="380.50" font-size="3.2" text-anchor="middle" text-rendering="geometricPrecision" stroke="#222" stroke-width="0.04">1</text>
<text x="332.80" y="380.50" font-size="3.2" text-anchor="middle" text-rendering="geometricPrecision" stroke="#222" stroke-width="0.04">50</text>
<text x="355.60" y="380.50" font-size="3.2" text-anchor="middle" text-rendering="geometricPrecision" stroke="#222" stroke-width="0.04">178</text>
<text x="375.40" y="380.50" font-size="3.2" text-anchor="middle" text-rendering="geometricPrecision" stroke="#222" stroke-width="0.04">242</text>
<text x="404.60" y="380.50" font-size="3.2" text-anchor="middle" text-rendering="geometricPrecision" stroke="#222" stroke-width="0.04">417</text>
<text x="410.20" y="380.50" font-size="3.2" text-anchor="middle" text-rendering="geometricPrecision" stroke="#222" stroke-width="0.04">451</text>
<line x1="352.30" y1="378.50" x2="352.30" y2="389.50" stroke="#f0b060" stroke-width="0.5"/>
<line x1="364.60" y1="378.50" x2="364.60" y2="382.50" stroke="#f0b060" stroke-width="0.5"/>
<text x="359.80" y="385.70" font-size="3.5" font-weight="bold" fill="#000" textLength="26.50" lengthAdjust="spacingAndGlyphs" text-rendering="geometricPrecision" stroke="#000" stroke-width="0.04">D198/R201/R204</text>
<text x="348.80" y="393.00" font-size="3.5" font-weight="bold" fill="#000" textLength="26.00" lengthAdjust="spacingAndGlyphs" text-rendering="geometricPrecision" stroke="#000" stroke-width="0.04">R162/G165/R166</text>
<path d="M387.50,384.40 L391.80,384.40 L391.80,391.70 L375.50,391.70" fill="none" stroke="#c8304e" stroke-width="0.5" />
<line x1="391.80" y1="389.60" x2="395.60" y2="389.60" stroke="#c8304e" stroke-width="0.4" stroke-dasharray="0.8,0.5"/>
<text x="396.20" y="390.70" font-size="3.4" fill="#c8304e" textLength="67.00" lengthAdjust="spacingAndGlyphs" text-rendering="geometricPrecision" stroke="#c8304e" stroke-width="0.04">mutation hotspots in human myeloid malignancies</text>
<text x="17.5" y="411.6" font-size="4.9" fill="#222" stroke="#222" stroke-width="0.07" textLength="149.5" lengthAdjust="spacingAndGlyphs"><tspan font-style="italic">SETBP1</tspan> expression in <tspan font-style="italic">FLT3</tspan>-ITD mutant AMLs (Leucegene cohort)</text>
<line x1="34.00" y1="424.00" x2="34.00" y2="512.60" stroke="#222" stroke-width="0.75"/>
<line x1="33.60" y1="512.60" x2="141.00" y2="512.60" stroke="#222" stroke-width="0.75"/>
<line x1="32.80" y1="424.80" x2="34.00" y2="424.80" stroke="#333" stroke-width="0.45"/>
<text x="32.20" y="426.20" font-size="4.0" text-anchor="end" text-rendering="geometricPrecision" stroke="#222" stroke-width="0.04">2.5</text>
<line x1="32.80" y1="437.30" x2="34.00" y2="437.30" stroke="#333" stroke-width="0.45"/>
<text x="32.20" y="438.70" font-size="4.0" text-anchor="end" text-rendering="geometricPrecision" stroke="#222" stroke-width="0.04">2.0</text>
<line x1="32.80" y1="449.80" x2="34.00" y2="449.80" stroke="#333" stroke-width="0.45"/>
<text x="32.20" y="451.20" font-size="4.0" text-anchor="end" text-rendering="geometricPrecision" stroke="#222" stroke-width="0.04">1.5</text>
<line x1="32.80" y1="462.30" x2="34.00" y2="462.30" stroke="#333" stroke-width="0.45"/>
<text x="32.20" y="463.70" font-size="4.0" text-anchor="end" text-rendering="geometricPrecision" stroke="#222" stroke-width="0.04">1.0</text>
<line x1="32.80" y1="474.80" x2="34.00" y2="474.80" stroke="#333" stroke-width="0.45"/>
<text x="32.20" y="476.20" font-size="4.0" text-anchor="end" text-rendering="geometricPrecision" stroke="#222" stroke-width="0.04">0.5</text>
<line x1="32.80" y1="487.30" x2="34.00" y2="487.30" stroke="#333" stroke-width="0.45"/>
<text x="32.20" y="488.70" font-size="4.0" text-anchor="end" text-rendering="geometricPrecision" stroke="#222" stroke-width="0.04">0.0</text>
<line x1="32.80" y1="499.80" x2="34.00" y2="499.80" stroke="#333" stroke-width="0.45"/>
<text x="32.20" y="501.20" font-size="4.0" text-anchor="end" text-rendering="geometricPrecision" stroke="#222" stroke-width="0.04">-0.5</text>
<line x1="32.80" y1="512.30" x2="34.00" y2="512.30" stroke="#333" stroke-width="0.45"/>
<text x="32.20" y="513.70" font-size="4.0" text-anchor="end" text-rendering="geometricPrecision" stroke="#222" stroke-width="0.04">-1.0</text>
<line x1="58.00" y1="512.60" x2="58.00" y2="513.80" stroke="#333" stroke-width="0.45"/>
<line x1="92.50" y1="512.60" x2="92.50" y2="513.80" stroke="#333" stroke-width="0.45"/>
<line x1="127.00" y1="512.60" x2="127.00" y2="513.80" stroke="#333" stroke-width="0.45"/>
<text x="22.4" y="463" font-size="5.4" fill="#111" stroke="#111" stroke-width="0.07" text-anchor="middle" transform="rotate(-90 22.4 463)" textLength="70" lengthAdjust="spacingAndGlyphs"><tspan font-style="italic">SETBP1</tspan> expression (log<tspan font-size="2.8" dy="1">10</tspan><tspan dy="-1"> FPKM)</tspan></text>
<line x1="57.50" y1="424.60" x2="126.30" y2="424.60" stroke="#888" stroke-width="0.45"/>
<text x="91.50" y="425.60" font-size="2.8" text-anchor="middle" fill="#333" text-rendering="geometricPrecision" stroke="#333" stroke-width="0.04">****</text>
<line x1="57.50" y1="432.60" x2="92.50" y2="432.60" stroke="#888" stroke-width="0.45"/>
<text x="75.00" y="433.60" font-size="2.8" text-anchor="middle" fill="#333" text-rendering="geometricPrecision" stroke="#333" stroke-width="0.04">*</text>
<circle cx="57.80" cy="453.00" r="1.22" fill="#b4c9e8" fill-opacity="0.55" stroke="#4474b8" stroke-width="0.55"/>
<circle cx="57.80" cy="460.00" r="1.22" fill="#b4c9e8" fill-opacity="0.55" stroke="#4474b8" stroke-width="0.55"/>
<circle cx="57.80" cy="467.70" r="1.22" fill="#b4c9e8" fill-opacity="0.55" stroke="#4474b8" stroke-width="0.55"/>
<circle cx="57.80" cy="470.50" r="1.22" fill="#b4c9e8" fill-opacity="0.55" stroke="#4474b8" stroke-width="0.55"/>
<circle cx="57.80" cy="472.50" r="1.22" fill="#b4c9e8" fill-opacity="0.55" stroke="#4474b8" stroke-width="0.55"/>
<circle cx="59.60" cy="473.50" r="1.22" fill="#b4c9e8" fill-opacity="0.55" stroke="#4474b8" stroke-width="0.55"/>
<circle cx="57.80" cy="474.81" r="1.22" fill="#b4c9e8" fill-opacity="0.55" stroke="#4474b8" stroke-width="0.55"/>
<circle cx="59.60" cy="475.23" r="1.22" fill="#b4c9e8" fill-opacity="0.55" stroke="#4474b8" stroke-width="0.55"/>
<circle cx="56.00" cy="475.34" r="1.22" fill="#b4c9e8" fill-opacity="0.55" stroke="#4474b8" stroke-width="0.55"/>
<circle cx="61.40" cy="475.35" r="1.22" fill="#b4c9e8" fill-opacity="0.55" stroke="#4474b8" stroke-width="0.55"/>
<circle cx="54.20" cy="475.71" r="1.22" fill="#b4c9e8" fill-opacity="0.55" stroke="#4474b8" stroke-width="0.55"/>
<circle cx="63.20" cy="476.12" r="1.22" fill="#b4c9e8" fill-opacity="0.55" stroke="#4474b8" stroke-width="0.55"/>
<circle cx="52.40" cy="476.14" r="1.22" fill="#b4c9e8" fill-opacity="0.55" stroke="#4474b8" stroke-width="0.55"/>
<circle cx="65.00" cy="476.21" r="1.22" fill="#b4c9e8" fill-opacity="0.55" stroke="#4474b8" stroke-width="0.55"/>
<circle cx="50.60" cy="476.23" r="1.22" fill="#b4c9e8" fill-opacity="0.55" stroke="#4474b8" stroke-width="0.55"/>
<circle cx="66.80" cy="476.27" r="1.22" fill="#b4c9e8" fill-opacity="0.55" stroke="#4474b8" stroke-width="0.55"/>
<circle cx="57.80" cy="476.58" r="1.22" fill="#b4c9e8" fill-opacity="0.55" stroke="#4474b8" stroke-width="0.55"/>
<circle cx="59.60" cy="477.25" r="1.22" fill="#b4c9e8" fill-opacity="0.55" stroke="#4474b8" stroke-width="0.55"/>
<circle cx="56.45" cy="477.76" r="1.22" fill="#b4c9e8" fill-opacity="0.55" stroke="#4474b8" stroke-width="0.55"/>
<circle cx="58.25" cy="478.57" r="1.22" fill="#b4c9e8" fill-opacity="0.55" stroke="#4474b8" stroke-width="0.55"/>
<circle cx="60.95" cy="478.57" r="1.22" fill="#b4c9e8" fill-opacity="0.55" stroke="#4474b8" stroke-width="0.55"/>
<circle cx="54.65" cy="478.72" r="1.22" fill="#b4c9e8" fill-opacity="0.55" stroke="#4474b8" stroke-width="0.55"/>
<circle cx="62.75" cy="478.90" r="1.22" fill="#b4c9e8" fill-opacity="0.55" stroke="#4474b8" stroke-width="0.55"/>
<circle cx="56.90" cy="479.65" r="1.22" fill="#b4c9e8" fill-opacity="0.55" stroke="#4474b8" stroke-width="0.55"/>
<circle cx="59.15" cy="480.20" r="1.22" fill="#b4c9e8" fill-opacity="0.55" stroke="#4474b8" stroke-width="0.55"/>
<circle cx="60.95" cy="480.36" r="1.22" fill="#b4c9e8" fill-opacity="0.55" stroke="#4474b8" stroke-width="0.55"/>
<circle cx="55.10" cy="480.51" r="1.22" fill="#b4c9e8" fill-opacity="0.55" stroke="#4474b8" stroke-width="0.55"/>
<circle cx="53.30" cy="480.83" r="1.22" fill="#b4c9e8" fill-opacity="0.55" stroke="#4474b8" stroke-width="0.55"/>
<circle cx="62.75" cy="480.94" r="1.22" fill="#b4c9e8" fill-opacity="0.55" stroke="#4474b8" stroke-width="0.55"/>
<circle cx="57.80" cy="481.82" r="1.22" fill="#b4c9e8" fill-opacity="0.55" stroke="#4474b8" stroke-width="0.55"/>
<circle cx="59.60" cy="482.02" r="1.22" fill="#b4c9e8" fill-opacity="0.55" stroke="#4474b8" stroke-width="0.55"/>
<circle cx="56.00" cy="482.38" r="1.22" fill="#b4c9e8" fill-opacity="0.55" stroke="#4474b8" stroke-width="0.55"/>
<circle cx="61.40" cy="482.63" r="1.22" fill="#b4c9e8" fill-opacity="0.55" stroke="#4474b8" stroke-width="0.55"/>
<circle cx="54.20" cy="482.63" r="1.22" fill="#b4c9e8" fill-opacity="0.55" stroke="#4474b8" stroke-width="0.55"/>
<circle cx="63.20" cy="482.94" r="1.22" fill="#b4c9e8" fill-opacity="0.55" stroke="#4474b8" stroke-width="0.55"/>
<circle cx="52.40" cy="483.14" r="1.22" fill="#b4c9e8" fill-opacity="0.55" stroke="#4474b8" stroke-width="0.55"/>
<circle cx="65.00" cy="483.44" r="1.22" fill="#b4c9e8" fill-opacity="0.55" stroke="#4474b8" stroke-width="0.55"/>
<circle cx="58.25" cy="483.51" r="1.22" fill="#b4c9e8" fill-opacity="0.55" stroke="#4474b8" stroke-width="0.55"/>
<circle cx="60.05" cy="483.82" r="1.22" fill="#b4c9e8" fill-opacity="0.55" stroke="#4474b8" stroke-width="0.55"/>
<circle cx="50.60" cy="484.02" r="1.22" fill="#b4c9e8" fill-opacity="0.55" stroke="#4474b8" stroke-width="0.55"/>
<circle cx="56.90" cy="484.68" r="1.22" fill="#b4c9e8" fill-opacity="0.55" stroke="#4474b8" stroke-width="0.55"/>
<circle cx="55.10" cy="484.92" r="1.22" fill="#b4c9e8" fill-opacity="0.55" stroke="#4474b8" stroke-width="0.55"/>
<circle cx="58.70" cy="485.51" r="1.22" fill="#b4c9e8" fill-opacity="0.55" stroke="#4474b8" stroke-width="0.55"/>
<circle cx="60.50" cy="486.25" r="1.22" fill="#b4c9e8" fill-opacity="0.55" stroke="#4474b8" stroke-width="0.55"/>
<circle cx="56.45" cy="486.34" r="1.22" fill="#b4c9e8" fill-opacity="0.55" stroke="#4474b8" stroke-width="0.55"/>
<circle cx="54.65" cy="486.82" r="1.22" fill="#b4c9e8" fill-opacity="0.55" stroke="#4474b8" stroke-width="0.55"/>
<circle cx="62.30" cy="487.09" r="1.22" fill="#b4c9e8" fill-opacity="0.55" stroke="#4474b8" stroke-width="0.55"/>
<circle cx="58.25" cy="487.36" r="1.22" fill="#b4c9e8" fill-opacity="0.55" stroke="#4474b8" stroke-width="0.55"/>
<circle cx="56.90" cy="488.54" r="1.22" fill="#b4c9e8" fill-opacity="0.55" stroke="#4474b8" stroke-width="0.55"/>
<circle cx="58.70" cy="489.19" r="1.22" fill="#b4c9e8" fill-opacity="0.55" stroke="#4474b8" stroke-width="0.55"/>
<circle cx="55.55" cy="489.99" r="1.22" fill="#b4c9e8" fill-opacity="0.55" stroke="#4474b8" stroke-width="0.55"/>
<circle cx="60.50" cy="490.16" r="1.22" fill="#b4c9e8" fill-opacity="0.55" stroke="#4474b8" stroke-width="0.55"/>
<circle cx="57.35" cy="490.30" r="1.22" fill="#b4c9e8" fill-opacity="0.55" stroke="#4474b8" stroke-width="0.55"/>
<circle cx="53.75" cy="490.46" r="1.22" fill="#b4c9e8" fill-opacity="0.55" stroke="#4474b8" stroke-width="0.55"/>
<circle cx="62.30" cy="490.58" r="1.22" fill="#b4c9e8" fill-opacity="0.55" stroke="#4474b8" stroke-width="0.55"/>
<circle cx="51.95" cy="490.58" r="1.22" fill="#b4c9e8" fill-opacity="0.55" stroke="#4474b8" stroke-width="0.55"/>
<circle cx="64.10" cy="490.81" r="1.22" fill="#b4c9e8" fill-opacity="0.55" stroke="#4474b8" stroke-width="0.55"/>
<circle cx="50.15" cy="491.13" r="1.22" fill="#b4c9e8" fill-opacity="0.55" stroke="#4474b8" stroke-width="0.55"/>
<circle cx="59.15" cy="491.24" r="1.22" fill="#b4c9e8" fill-opacity="0.55" stroke="#4474b8" stroke-width="0.55"/>
<circle cx="56.45" cy="491.83" r="1.22" fill="#b4c9e8" fill-opacity="0.55" stroke="#4474b8" stroke-width="0.55"/>
<circle cx="60.95" cy="492.06" r="1.22" fill="#b4c9e8" fill-opacity="0.55" stroke="#4474b8" stroke-width="0.55"/>
<circle cx="57.80" cy="493.95" r="1.22" fill="#b4c9e8" fill-opacity="0.55" stroke="#4474b8" stroke-width="0.55"/>
<circle cx="59.60" cy="494.35" r="1.22" fill="#b4c9e8" fill-opacity="0.55" stroke="#4474b8" stroke-width="0.55"/>
<circle cx="56.00" cy="494.43" r="1.22" fill="#b4c9e8" fill-opacity="0.55" stroke="#4474b8" stroke-width="0.55"/>
<circle cx="61.40" cy="494.51" r="1.22" fill="#b4c9e8" fill-opacity="0.55" stroke="#4474b8" stroke-width="0.55"/>
<circle cx="54.20" cy="495.26" r="1.22" fill="#b4c9e8" fill-opacity="0.55" stroke="#4474b8" stroke-width="0.55"/>
<circle cx="57.80" cy="496.12" r="1.22" fill="#b4c9e8" fill-opacity="0.55" stroke="#4474b8" stroke-width="0.55"/>
<circle cx="59.60" cy="496.12" r="1.22" fill="#b4c9e8" fill-opacity="0.55" stroke="#4474b8" stroke-width="0.55"/>
<circle cx="56.00" cy="497.11" r="1.22" fill="#b4c9e8" fill-opacity="0.55" stroke="#4474b8" stroke-width="0.55"/>
<circle cx="61.40" cy="497.14" r="1.22" fill="#b4c9e8" fill-opacity="0.55" stroke="#4474b8" stroke-width="0.55"/>
<circle cx="57.80" cy="497.93" r="1.22" fill="#b4c9e8" fill-opacity="0.55" stroke="#4474b8" stroke-width="0.55"/>
<circle cx="59.60" cy="497.94" r="1.22" fill="#b4c9e8" fill-opacity="0.55" stroke="#4474b8" stroke-width="0.55"/>
<circle cx="54.65" cy="498.23" r="1.22" fill="#b4c9e8" fill-opacity="0.55" stroke="#4474b8" stroke-width="0.55"/>
<circle cx="61.40" cy="498.91" r="1.22" fill="#b4c9e8" fill-opacity="0.55" stroke="#4474b8" stroke-width="0.55"/>
<circle cx="56.45" cy="499.37" r="1.22" fill="#b4c9e8" fill-opacity="0.55" stroke="#4474b8" stroke-width="0.55"/>
<circle cx="58.25" cy="499.58" r="1.22" fill="#b4c9e8" fill-opacity="0.55" stroke="#4474b8" stroke-width="0.55"/>
<circle cx="53.75" cy="499.76" r="1.22" fill="#b4c9e8" fill-opacity="0.55" stroke="#4474b8" stroke-width="0.55"/>
<circle cx="60.05" cy="500.18" r="1.22" fill="#b4c9e8" fill-opacity="0.55" stroke="#4474b8" stroke-width="0.55"/>
<circle cx="62.30" cy="500.38" r="1.22" fill="#b4c9e8" fill-opacity="0.55" stroke="#4474b8" stroke-width="0.55"/>
<circle cx="51.95" cy="500.39" r="1.22" fill="#b4c9e8" fill-opacity="0.55" stroke="#4474b8" stroke-width="0.55"/>
<circle cx="64.10" cy="500.51" r="1.22" fill="#b4c9e8" fill-opacity="0.55" stroke="#4474b8" stroke-width="0.55"/>
<circle cx="50.15" cy="500.68" r="1.22" fill="#b4c9e8" fill-opacity="0.55" stroke="#4474b8" stroke-width="0.55"/>
<circle cx="57.80" cy="501.46" r="1.22" fill="#b4c9e8" fill-opacity="0.55" stroke="#4474b8" stroke-width="0.55"/>
<circle cx="56.00" cy="501.51" r="1.22" fill="#b4c9e8" fill-opacity="0.55" stroke="#4474b8" stroke-width="0.55"/>
<circle cx="60.95" cy="501.74" r="1.22" fill="#b4c9e8" fill-opacity="0.55" stroke="#4474b8" stroke-width="0.55"/>
<circle cx="54.20" cy="501.80" r="1.22" fill="#b4c9e8" fill-opacity="0.55" stroke="#4474b8" stroke-width="0.55"/>
<circle cx="65.45" cy="501.88" r="1.22" fill="#b4c9e8" fill-opacity="0.55" stroke="#4474b8" stroke-width="0.55"/>
<circle cx="48.80" cy="501.89" r="1.22" fill="#b4c9e8" fill-opacity="0.55" stroke="#4474b8" stroke-width="0.55"/>
<circle cx="63.20" cy="502.03" r="1.22" fill="#b4c9e8" fill-opacity="0.55" stroke="#4474b8" stroke-width="0.55"/>
<circle cx="52.40" cy="502.08" r="1.22" fill="#b4c9e8" fill-opacity="0.55" stroke="#4474b8" stroke-width="0.55"/>
<circle cx="67.25" cy="502.28" r="1.22" fill="#b4c9e8" fill-opacity="0.55" stroke="#4474b8" stroke-width="0.55"/>
<circle cx="57.80" cy="503.86" r="1.22" fill="#b4c9e8" fill-opacity="0.55" stroke="#4474b8" stroke-width="0.55"/>
<circle cx="59.60" cy="503.92" r="1.22" fill="#b4c9e8" fill-opacity="0.55" stroke="#4474b8" stroke-width="0.55"/>
<circle cx="56.00" cy="503.96" r="1.22" fill="#b4c9e8" fill-opacity="0.55" stroke="#4474b8" stroke-width="0.55"/>
<circle cx="61.40" cy="503.96" r="1.22" fill="#b4c9e8" fill-opacity="0.55" stroke="#4474b8" stroke-width="0.55"/>
<circle cx="58.70" cy="505.40" r="1.22" fill="#b4c9e8" fill-opacity="0.55" stroke="#4474b8" stroke-width="0.55"/>
<circle cx="54.65" cy="505.40" r="1.22" fill="#b4c9e8" fill-opacity="0.55" stroke="#4474b8" stroke-width="0.55"/>
<circle cx="62.75" cy="505.40" r="1.22" fill="#b4c9e8" fill-opacity="0.55" stroke="#4474b8" stroke-width="0.55"/>
<line x1="43.50" y1="487.70" x2="71.50" y2="487.70" stroke="#666" stroke-width="0.8"/>
<path d="M86.50,460.00 L87.30,459.20 L88.10,460.00 L87.30,460.80 Z" fill="#9aa448" />
<path d="M96.40,457.00 L97.20,456.20 L98.00,457.00 L97.20,457.80 Z" fill="#9aa448" />
<path d="M91.50,464.80 L92.30,464.00 L93.10,464.80 L92.30,465.60 Z" fill="#9aa448" />
<path d="M96.40,463.00 L97.20,462.20 L98.00,463.00 L97.20,463.80 Z" fill="#9aa448" />
<path d="M91.50,468.50 L92.30,467.70 L93.10,468.50 L92.30,469.30 Z" fill="#9aa448" />
<path d="M96.40,470.80 L97.20,470.00 L98.00,470.80 L97.20,471.60 Z" fill="#9aa448" />
<path d="M91.50,474.00 L92.30,473.20 L93.10,474.00 L92.30,474.80 Z" fill="#9aa448" />
<path d="M86.00,478.50 L86.80,477.70 L87.60,478.50 L86.80,479.30 Z" fill="#9aa448" />
<path d="M91.50,478.50 L92.30,477.70 L93.10,478.50 L92.30,479.30 Z" fill="#9aa448" />
<path d="M81.50,481.00 L82.30,480.20 L83.10,481.00 L82.30,481.80 Z" fill="#9aa448" />
<path d="M91.50,481.50 L92.30,480.70 L93.10,481.50 L92.30,482.30 Z" fill="#9aa448" />
<path d="M96.40,481.00 L97.20,480.20 L98.00,481.00 L97.20,481.80 Z" fill="#9aa448" />
<path d="M101.20,479.00 L102.00,478.20 L102.80,479.00 L102.00,479.80 Z" fill="#9aa448" />
<path d="M86.50,486.00 L87.30,485.20 L88.10,486.00 L87.30,486.80 Z" fill="#9aa448" />
<path d="M91.50,486.00 L92.30,485.20 L93.10,486.00 L92.30,486.80 Z" fill="#9aa448" />
<path d="M101.20,486.00 L102.00,485.20 L102.80,486.00 L102.00,486.80 Z" fill="#9aa448" />
<path d="M81.50,488.00 L82.30,487.20 L83.10,488.00 L82.30,488.80 Z" fill="#9aa448" />
<path d="M91.50,490.00 L92.30,489.20 L93.10,490.00 L92.30,490.80 Z" fill="#9aa448" />
<path d="M96.40,489.00 L97.20,488.20 L98.00,489.00 L97.20,489.80 Z" fill="#9aa448" />
<path d="M91.50,495.50 L92.30,494.70 L93.10,495.50 L92.30,496.30 Z" fill="#9aa448" />
<line x1="78.20" y1="477.80" x2="106.50" y2="477.80" stroke="#888" stroke-width="0.9"/>
<line x1="92.30" y1="467.40" x2="92.30" y2="488.90" stroke="#999" stroke-width="0.5"/>
<line x1="86.90" y1="467.40" x2="97.70" y2="467.40" stroke="#888" stroke-width="0.55"/>
<line x1="86.90" y1="488.90" x2="97.70" y2="488.90" stroke="#888" stroke-width="0.55"/>
<line x1="127.00" y1="451.80" x2="127.00" y2="481.30" stroke="#aaa" stroke-width="0.55"/>
<line x1="121.30" y1="451.80" x2="132.50" y2="451.80" stroke="#999" stroke-width="0.6"/>
<line x1="121.30" y1="481.30" x2="132.50" y2="481.30" stroke="#999" stroke-width="0.6"/>
<line x1="113.00" y1="466.80" x2="140.80" y2="466.80" stroke="#222" stroke-width="0.9"/>
<circle cx="127" cy="453" r="0.95" fill="#c8283c"/>
<circle cx="127" cy="455.4" r="0.95" fill="#c8283c"/>
<circle cx="125.3" cy="467" r="0.95" fill="#c8283c"/>
<circle cx="128.8" cy="467" r="0.95" fill="#c8283c"/>
<circle cx="127" cy="490.3" r="0.95" fill="#c8283c"/>
<circle cx="148.8" cy="437" r="1.1" fill="none" stroke="#4f7fc0" stroke-width="0.45"/>
<text x="152.50" y="438.10" font-size="3.0" text-rendering="geometricPrecision" stroke="#222" stroke-width="0.04">NPM1 mutations</text>
<text x="148.30" y="446.50" font-size="3.0" textLength="33.50" lengthAdjust="spacingAndGlyphs" text-rendering="geometricPrecision" stroke="#222" stroke-width="0.04">Class defining mutations:</text>
<text x="148.30" y="450.00" font-size="2.9" font-style="italic" text-rendering="geometricPrecision" stroke="#222" stroke-width="0.04">PML-RARA</text>
<text x="148.30" y="453.40" font-size="2.9" font-style="italic" text-rendering="geometricPrecision" stroke="#222" stroke-width="0.04">MYH11-CBFB</text>
<text x="148.30" y="456.80" font-size="2.9" font-style="italic" text-rendering="geometricPrecision" stroke="#222" stroke-width="0.04">MLL-X</text>
<text x="148.30" y="460.20" font-size="2.9" font-style="italic" text-rendering="geometricPrecision" stroke="#222" stroke-width="0.04">RUNX1-RUNX1T1</text>
<text x="148.30" y="463.60" font-size="2.9" font-style="italic" text-rendering="geometricPrecision" stroke="#222" stroke-width="0.04">NPM1</text>
<text x="148.30" y="467.00" font-size="2.9" font-style="italic" text-rendering="geometricPrecision" stroke="#222" stroke-width="0.04">CEBPA</text>
<text x="148.30" y="470.40" font-size="2.9" font-style="italic" text-rendering="geometricPrecision" stroke="#222" stroke-width="0.04">IDH2</text>
<text x="148.30" y="473.80" font-size="2.9" font-style="italic" text-rendering="geometricPrecision" stroke="#222" stroke-width="0.04">MLL</text>
<text x="43.99" y="532.89" font-size="4.0" text-anchor="middle" textLength="38.00" lengthAdjust="spacingAndGlyphs" transform="rotate(-44 43.99 532.89)" text-rendering="geometricPrecision" stroke="#222" stroke-width="0.04">FLT3-ITD+ AMLs with</text>
<text x="47.39" y="535.79" font-size="4.0" text-anchor="middle" textLength="43.50" lengthAdjust="spacingAndGlyphs" transform="rotate(-44 47.39 535.79)" text-rendering="geometricPrecision" stroke="#222" stroke-width="0.04">class defining mutations</text>
<text x="50.29" y="538.89" font-size="4.0" text-anchor="middle" textLength="13.30" lengthAdjust="spacingAndGlyphs" transform="rotate(-44 50.29 538.89)" text-rendering="geometricPrecision" stroke="#222" stroke-width="0.04">(n=65)</text>
<text x="79.19" y="534.49" font-size="4.0" text-anchor="middle" textLength="43.80" lengthAdjust="spacingAndGlyphs" transform="rotate(-44 79.19 534.49)" text-rendering="geometricPrecision" stroke="#222" stroke-width="0.04">FLT3-ITD+ AMLs without</text>
<text x="82.09" y="537.89" font-size="4.0" text-anchor="middle" textLength="44.00" lengthAdjust="spacingAndGlyphs" transform="rotate(-44 82.09 537.89)" text-rendering="geometricPrecision" stroke="#222" stroke-width="0.04">class defining mutations</text>
<text x="85.19" y="541.39" font-size="4.0" text-anchor="middle" textLength="12.00" lengthAdjust="spacingAndGlyphs" transform="rotate(-44 85.19 541.39)" text-rendering="geometricPrecision" stroke="#222" stroke-width="0.04">(n=20)</text>
<text x="113.69" y="532.49" font-size="4.0" text-anchor="middle" textLength="38.60" lengthAdjust="spacingAndGlyphs" transform="rotate(-44 113.69 532.49)" text-rendering="geometricPrecision" stroke="#222" stroke-width="0.04">FLT3-ITD+ AMLs with</text>
<text x="117.49" y="535.99" font-size="4.0" text-anchor="middle" textLength="30.50" lengthAdjust="spacingAndGlyphs" transform="rotate(-44 117.49 535.99)" text-rendering="geometricPrecision" stroke="#222" stroke-width="0.04">Runx1 mutations</text>
<text x="119.79" y="538.99" font-size="4.0" text-anchor="middle" textLength="10.00" lengthAdjust="spacingAndGlyphs" transform="rotate(-44 119.79 538.99)" text-rendering="geometricPrecision" stroke="#222" stroke-width="0.04">(n=6)</text>
<text x="216" y="411.9" font-size="4.9" fill="#222" stroke="#222" stroke-width="0.07" textLength="124.3" lengthAdjust="spacingAndGlyphs"><tspan font-style="italic">SETBP1</tspan> expression in 437 AMLs  (Leucegene cohort)</text>
<path d="M219.60,513.90 L219.60,462.30 L220.80,464.20 L223.00,468.00 L225.00,472.00 L227.00,475.80 L229.00,479.60 L231.00,481.50 L233.00,483.00 L235.00,484.40 L237.00,486.30 L239.00,490.20 L241.00,494.00 L243.00,497.00 L245.00,499.80 L247.00,502.30 L249.00,504.60 L251.00,508.50 L252.50,512.30 L253.00,513.60 L253.00,513.90 Z" fill="#a6d08a" />
<line x1="220.00" y1="462.93" x2="220.00" y2="513.90" stroke="#86c066" stroke-width="0.3" opacity="0.8"/>
<line x1="220.85" y1="464.29" x2="220.85" y2="513.90" stroke="#86c066" stroke-width="0.3" opacity="0.8"/>
<line x1="221.70" y1="465.75" x2="221.70" y2="513.90" stroke="#86c066" stroke-width="0.3" opacity="0.8"/>
<line x1="222.55" y1="467.22" x2="222.55" y2="513.90" stroke="#86c066" stroke-width="0.3" opacity="0.8"/>
<line x1="223.40" y1="468.80" x2="223.40" y2="513.90" stroke="#86c066" stroke-width="0.3" opacity="0.8"/>
<line x1="224.25" y1="470.50" x2="224.25" y2="513.90" stroke="#86c066" stroke-width="0.3" opacity="0.8"/>
<line x1="225.10" y1="472.19" x2="225.10" y2="513.90" stroke="#86c066" stroke-width="0.3" opacity="0.8"/>
<line x1="225.95" y1="473.80" x2="225.95" y2="513.90" stroke="#86c066" stroke-width="0.3" opacity="0.8"/>
<line x1="226.80" y1="475.42" x2="226.80" y2="513.90" stroke="#86c066" stroke-width="0.3" opacity="0.8"/>
<line x1="227.65" y1="477.03" x2="227.65" y2="513.90" stroke="#86c066" stroke-width="0.3" opacity="0.8"/>
<line x1="228.50" y1="478.65" x2="228.50" y2="513.90" stroke="#86c066" stroke-width="0.3" opacity="0.8"/>
<line x1="229.35" y1="479.93" x2="229.35" y2="513.90" stroke="#86c066" stroke-width="0.3" opacity="0.8"/>
<line x1="230.20" y1="480.74" x2="230.20" y2="513.90" stroke="#86c066" stroke-width="0.3" opacity="0.8"/>
<line x1="231.05" y1="481.54" x2="231.05" y2="513.90" stroke="#86c066" stroke-width="0.3" opacity="0.8"/>
<line x1="231.90" y1="482.17" x2="231.90" y2="513.90" stroke="#86c066" stroke-width="0.3" opacity="0.8"/>
<line x1="232.75" y1="482.81" x2="232.75" y2="513.90" stroke="#86c066" stroke-width="0.3" opacity="0.8"/>
<line x1="233.60" y1="483.42" x2="233.60" y2="513.90" stroke="#86c066" stroke-width="0.3" opacity="0.8"/>
<line x1="234.45" y1="484.01" x2="234.45" y2="513.90" stroke="#86c066" stroke-width="0.3" opacity="0.8"/>
<line x1="235.30" y1="484.68" x2="235.30" y2="513.90" stroke="#86c066" stroke-width="0.3" opacity="0.8"/>
<line x1="236.15" y1="485.49" x2="236.15" y2="513.90" stroke="#86c066" stroke-width="0.3" opacity="0.8"/>
<line x1="237.00" y1="486.30" x2="237.00" y2="513.90" stroke="#86c066" stroke-width="0.3" opacity="0.8"/>
<line x1="237.85" y1="487.96" x2="237.85" y2="513.90" stroke="#86c066" stroke-width="0.3" opacity="0.8"/>
<line x1="238.70" y1="489.61" x2="238.70" y2="513.90" stroke="#86c066" stroke-width="0.3" opacity="0.8"/>
<line x1="239.55" y1="491.24" x2="239.55" y2="513.90" stroke="#86c066" stroke-width="0.3" opacity="0.8"/>
<line x1="240.40" y1="492.86" x2="240.40" y2="513.90" stroke="#86c066" stroke-width="0.3" opacity="0.8"/>
<line x1="241.25" y1="494.37" x2="241.25" y2="513.90" stroke="#86c066" stroke-width="0.3" opacity="0.8"/>
<line x1="242.10" y1="495.65" x2="242.10" y2="513.90" stroke="#86c066" stroke-width="0.3" opacity="0.8"/>
<line x1="242.95" y1="496.92" x2="242.95" y2="513.90" stroke="#86c066" stroke-width="0.3" opacity="0.8"/>
<line x1="243.80" y1="498.12" x2="243.80" y2="513.90" stroke="#86c066" stroke-width="0.3" opacity="0.8"/>
<line x1="244.65" y1="499.31" x2="244.65" y2="513.90" stroke="#86c066" stroke-width="0.3" opacity="0.8"/>
<line x1="245.50" y1="500.42" x2="245.50" y2="513.90" stroke="#86c066" stroke-width="0.3" opacity="0.8"/>
<line x1="246.35" y1="501.49" x2="246.35" y2="513.90" stroke="#86c066" stroke-width="0.3" opacity="0.8"/>
<line x1="247.20" y1="502.53" x2="247.20" y2="513.90" stroke="#86c066" stroke-width="0.3" opacity="0.8"/>
<line x1="248.05" y1="503.51" x2="248.05" y2="513.90" stroke="#86c066" stroke-width="0.3" opacity="0.8"/>
<line x1="248.90" y1="504.48" x2="248.90" y2="513.90" stroke="#86c066" stroke-width="0.3" opacity="0.8"/>
<line x1="249.75" y1="506.06" x2="249.75" y2="513.90" stroke="#86c066" stroke-width="0.3" opacity="0.8"/>
<line x1="250.60" y1="507.72" x2="250.60" y2="513.90" stroke="#86c066" stroke-width="0.3" opacity="0.8"/>
<line x1="251.45" y1="509.64" x2="251.45" y2="513.90" stroke="#86c066" stroke-width="0.3" opacity="0.8"/>
<line x1="252.30" y1="511.79" x2="252.30" y2="513.90" stroke="#86c066" stroke-width="0.3" opacity="0.8"/>
<rect x="252.50" y="512.90" width="4.80" height="1.00" fill="#4a5a4a"/>
<path d="M253.20,513.90 L253.20,514.20 L254.00,515.30 L255.00,517.00 L255.80,521.00 L256.40,526.00 L256.90,532.00 L257.20,539.00 L257.30,513.90 Z" fill="#9fce80" />
<rect x="257.60" y="457.50" width="1.54" height="56.40" fill="#b6bfd8"/>
<rect x="259.34" y="462.63" width="1.72" height="51.27" fill="#d994aa"/>
<rect x="260.21" y="462.63" width="0.55" height="51.27" fill="#b42a4c"/>
<rect x="261.26" y="468.43" width="1.70" height="45.47" fill="#d994aa"/>
<rect x="261.49" y="468.43" width="0.55" height="45.47" fill="#b42a4c"/>
<rect x="263.17" y="471.90" width="1.37" height="42.00" fill="#d994aa"/>
<rect x="263.33" y="471.90" width="0.55" height="42.00" fill="#b42a4c"/>
<rect x="264.74" y="473.51" width="1.57" height="40.39" fill="#d994aa"/>
<rect x="266.50" y="475.20" width="1.42" height="38.70" fill="#d994aa"/>
<rect x="267.04" y="475.20" width="0.55" height="38.70" fill="#b42a4c"/>
<rect x="268.12" y="476.99" width="1.02" height="36.91" fill="#dfdfe4"/>
<rect x="269.34" y="478.91" width="1.76" height="34.99" fill="#d994aa"/>
<rect x="271.30" y="480.81" width="1.74" height="33.09" fill="#b6bfd8"/>
<rect x="273.24" y="482.39" width="1.10" height="31.51" fill="#d994aa"/>
<rect x="273.28" y="482.39" width="0.55" height="31.51" fill="#b42a4c"/>
<rect x="274.54" y="483.07" width="1.10" height="30.83" fill="#d994aa"/>
<rect x="274.74" y="483.07" width="0.55" height="30.83" fill="#b42a4c"/>
<rect x="275.84" y="483.89" width="1.87" height="30.01" fill="#d994aa"/>
<rect x="277.91" y="484.94" width="2.07" height="28.96" fill="#d994aa"/>
<rect x="278.81" y="484.94" width="0.55" height="28.96" fill="#b42a4c"/>
<rect x="280.19" y="486.18" width="1.48" height="27.72" fill="#dfdfe4"/>
<rect x="280.70" y="486.18" width="0.55" height="27.72" fill="#b42a4c"/>
<rect x="281.87" y="487.88" width="2.58" height="26.02" fill="#d994aa"/>
<rect x="284.65" y="489.59" width="1.91" height="24.31" fill="#b6bfd8"/>
<rect x="284.70" y="489.59" width="0.55" height="24.31" fill="#b42a4c"/>
<rect x="286.76" y="490.71" width="1.65" height="23.19" fill="#dfdfe4"/>
<rect x="287.41" y="490.71" width="0.55" height="23.19" fill="#b42a4c"/>
<rect x="288.61" y="492.03" width="2.70" height="21.87" fill="#dfdfe4"/>
<rect x="289.29" y="492.03" width="0.55" height="21.87" fill="#b42a4c"/>
<rect x="291.52" y="493.07" width="2.13" height="20.83" fill="#b6bfd8"/>
<rect x="292.52" y="493.07" width="0.55" height="20.83" fill="#b42a4c"/>
<rect x="293.85" y="494.06" width="2.52" height="19.84" fill="#b6bfd8"/>
<rect x="295.47" y="494.06" width="0.55" height="19.84" fill="#b42a4c"/>
<rect x="296.57" y="494.68" width="1.53" height="19.22" fill="#d994aa"/>
<rect x="297.24" y="494.68" width="0.55" height="19.22" fill="#4a5c94"/>
<rect x="298.29" y="495.21" width="1.88" height="18.69" fill="#dfdfe4"/>
<rect x="298.63" y="495.21" width="0.55" height="18.69" fill="#4a5c94"/>
<rect x="300.37" y="495.93" width="1.59" height="17.97" fill="#d994aa"/>
<rect x="300.53" y="495.93" width="0.55" height="17.97" fill="#b42a4c"/>
<rect x="302.41" y="496.80" width="2.11" height="17.10" fill="#dfdfe4"/>
<rect x="302.49" y="496.80" width="0.55" height="17.10" fill="#b42a4c"/>
<rect x="304.98" y="497.71" width="2.53" height="16.19" fill="#b6bfd8"/>
<rect x="305.45" y="497.71" width="0.55" height="16.19" fill="#b42a4c"/>
<rect x="307.96" y="498.47" width="1.98" height="15.43" fill="#b6bfd8"/>
<rect x="308.56" y="498.47" width="0.55" height="15.43" fill="#4a5c94"/>
<rect x="310.39" y="499.10" width="1.23" height="14.80" fill="#dc9fb3"/>
<rect x="310.73" y="499.10" width="0.55" height="14.80" fill="#b42a4c"/>
<rect x="312.07" y="499.82" width="2.32" height="14.08" fill="#dfdfe4"/>
<rect x="314.84" y="500.75" width="2.48" height="13.15" fill="#b6bfd8"/>
<rect x="317.77" y="501.49" width="1.30" height="12.41" fill="#dfdfe4"/>
<rect x="318.41" y="501.49" width="0.55" height="12.41" fill="#b42a4c"/>
<rect x="319.52" y="502.06" width="1.56" height="11.84" fill="#b6bfd8"/>
<rect x="321.54" y="502.78" width="2.34" height="11.12" fill="#dc9fb3"/>
<rect x="322.41" y="502.78" width="0.55" height="11.12" fill="#4a5c94"/>
<rect x="324.33" y="503.55" width="2.17" height="10.35" fill="#b6bfd8"/>
<rect x="324.98" y="503.55" width="0.55" height="10.35" fill="#b42a4c"/>
<rect x="326.95" y="504.05" width="1.36" height="9.85" fill="#dfdfe4"/>
<rect x="328.76" y="504.59" width="2.49" height="9.31" fill="#b6bfd8"/>
<rect x="329.41" y="504.59" width="0.55" height="9.31" fill="#4a5c94"/>
<rect x="331.70" y="505.14" width="1.27" height="8.76" fill="#dfdfe4"/>
<rect x="333.42" y="505.71" width="2.36" height="8.19" fill="#dfdfe4"/>
<rect x="336.24" y="506.40" width="2.23" height="7.50" fill="#b6bfd8"/>
<rect x="338.92" y="507.06" width="2.21" height="6.84" fill="#dfdfe4"/>
<rect x="341.59" y="507.65" width="1.54" height="6.25" fill="#b6bfd8"/>
<rect x="343.58" y="508.22" width="2.12" height="5.68" fill="#dfdfe4"/>
<rect x="346.15" y="508.85" width="2.06" height="5.05" fill="#b6bfd8"/>
<rect x="346.97" y="508.85" width="0.55" height="5.05" fill="#b42a4c"/>
<rect x="348.66" y="509.28" width="1.50" height="4.62" fill="#b6bfd8"/>
<rect x="349.43" y="509.28" width="0.55" height="4.62" fill="#4a5c94"/>
<rect x="350.61" y="509.66" width="2.06" height="4.24" fill="#b6bfd8"/>
<rect x="351.58" y="509.66" width="0.55" height="4.24" fill="#4a5c94"/>
<rect x="353.11" y="510.10" width="2.18" height="3.80" fill="#b6bfd8"/>
<rect x="354.49" y="510.10" width="0.55" height="3.80" fill="#4a5c94"/>
<rect x="355.75" y="510.54" width="2.37" height="3.36" fill="#b6bfd8"/>
<rect x="358.56" y="510.99" width="2.49" height="2.91" fill="#b6bfd8"/>
<rect x="358.89" y="510.99" width="0.55" height="2.91" fill="#4a5c94"/>
<rect x="361.50" y="511.46" width="2.32" height="2.44" fill="#dc9fb3"/>
<rect x="362.73" y="511.46" width="0.55" height="2.44" fill="#4a5c94"/>
<rect x="364.27" y="511.93" width="2.16" height="1.97" fill="#b6bfd8"/>
<rect x="365.53" y="511.93" width="0.55" height="1.97" fill="#b42a4c"/>
<rect x="366.88" y="512.37" width="1.96" height="1.53" fill="#b6bfd8"/>
<rect x="367.76" y="512.37" width="0.55" height="1.53" fill="#4a5c94"/>
<rect x="369.30" y="512.80" width="2.23" height="1.10" fill="#b6bfd8"/>
<rect x="371.98" y="513.12" width="1.19" height="0.78" fill="#dfdfe4"/>
<rect x="372.40" y="513.12" width="0.55" height="0.78" fill="#4a5c94"/>
<rect x="373.62" y="513.39" width="1.46" height="0.51" fill="#b6bfd8"/>
<rect x="375.53" y="513.65" width="1.21" height="0.25" fill="#b6bfd8"/>
<rect x="375.56" y="513.65" width="0.55" height="0.25" fill="#4a5c94"/>
<rect x="377.18" y="513.91" width="1.34" height="-0.01" fill="#dfdfe4"/>
<rect x="377.34" y="513.91" width="0.55" height="-0.01" fill="#b42a4c"/>
<rect x="378.97" y="514.17" width="1.20" height="-0.27" fill="#b6bfd8"/>
<rect x="379.37" y="514.17" width="0.55" height="-0.27" fill="#4a5c94"/>
<rect x="380.62" y="513.90" width="1.93" height="0.78" fill="#7f92c0"/>
<rect x="383.05" y="513.90" width="1.10" height="1.30" fill="#7f92c0"/>
<rect x="384.65" y="513.90" width="1.67" height="1.76" fill="#7f92c0"/>
<rect x="386.82" y="513.90" width="1.62" height="2.22" fill="#7f92c0"/>
<rect x="388.95" y="513.90" width="1.23" height="2.63" fill="#7f92c0"/>
<rect x="390.68" y="513.90" width="1.91" height="3.08" fill="#7f92c0"/>
<rect x="393.09" y="513.90" width="1.69" height="4.08" fill="#7f92c0"/>
<rect x="395.28" y="513.90" width="1.62" height="5.05" fill="#7f92c0"/>
<rect x="397.40" y="513.90" width="1.89" height="6.01" fill="#c07080"/>
<rect x="399.79" y="513.90" width="1.95" height="6.85" fill="#7f92c0"/>
<rect x="402.24" y="513.90" width="1.10" height="7.56" fill="#7f92c0"/>
<rect x="403.84" y="513.90" width="1.96" height="8.58" fill="#7f92c0"/>
<rect x="406.30" y="513.90" width="2.35" height="10.28" fill="#7f92c0"/>
<rect x="409.15" y="513.90" width="1.42" height="11.54" fill="#c07080"/>
<rect x="411.06" y="513.90" width="1.63" height="12.35" fill="#7f92c0"/>
<rect x="413.20" y="513.90" width="1.93" height="13.72" fill="#c07080"/>
<rect x="415.63" y="513.90" width="1.07" height="19.84" fill="#7f92c0"/>
<rect x="257.60" y="457.50" width="0.90" height="56.40" fill="#c0405e"/>
<rect x="258.80" y="461.30" width="0.70" height="52.60" fill="#c85070"/>
<line x1="219.40" y1="488.60" x2="417.60" y2="488.60" stroke="#eaa3b4" stroke-width="0.6"/>
<line x1="219.20" y1="513.90" x2="417.40" y2="513.90" stroke="#3a3a3a" stroke-width="0.8"/>
<line x1="219.40" y1="449.80" x2="219.40" y2="539.40" stroke="#222" stroke-width="0.75"/>
<line x1="218.20" y1="450.65" x2="219.40" y2="450.65" stroke="#333" stroke-width="0.45"/>
<text x="217.60" y="452.05" font-size="4.0" text-anchor="end" text-rendering="geometricPrecision" stroke="#222" stroke-width="0.04">2.5</text>
<line x1="218.20" y1="463.30" x2="219.40" y2="463.30" stroke="#333" stroke-width="0.45"/>
<text x="217.60" y="464.70" font-size="4.0" text-anchor="end" text-rendering="geometricPrecision" stroke="#222" stroke-width="0.04">2.0</text>
<line x1="218.20" y1="475.95" x2="219.40" y2="475.95" stroke="#333" stroke-width="0.45"/>
<text x="217.60" y="477.35" font-size="4.0" text-anchor="end" text-rendering="geometricPrecision" stroke="#222" stroke-width="0.04">1.5</text>
<line x1="218.20" y1="488.60" x2="219.40" y2="488.60" stroke="#333" stroke-width="0.45"/>
<text x="217.60" y="490.00" font-size="4.0" text-anchor="end" text-rendering="geometricPrecision" stroke="#222" stroke-width="0.04">1.0</text>
<line x1="218.20" y1="501.25" x2="219.40" y2="501.25" stroke="#333" stroke-width="0.45"/>
<text x="217.60" y="502.65" font-size="4.0" text-anchor="end" text-rendering="geometricPrecision" stroke="#222" stroke-width="0.04">0.5</text>
<line x1="218.20" y1="513.90" x2="219.40" y2="513.90" stroke="#333" stroke-width="0.45"/>
<text x="217.60" y="515.30" font-size="4.0" text-anchor="end" text-rendering="geometricPrecision" stroke="#222" stroke-width="0.04">0.0</text>
<line x1="218.20" y1="526.55" x2="219.40" y2="526.55" stroke="#333" stroke-width="0.45"/>
<text x="217.60" y="527.95" font-size="4.0" text-anchor="end" text-rendering="geometricPrecision" stroke="#222" stroke-width="0.04">-0.5</text>
<line x1="218.20" y1="539.20" x2="219.40" y2="539.20" stroke="#333" stroke-width="0.45"/>
<text x="217.60" y="540.60" font-size="4.0" text-anchor="end" text-rendering="geometricPrecision" stroke="#222" stroke-width="0.04">-1.0</text>
<text x="206.3" y="494.5" font-size="4.9" fill="#111" stroke="#111" stroke-width="0.07" text-anchor="middle" transform="rotate(-90 206.3 494.5)" textLength="41.5" lengthAdjust="spacingAndGlyphs"><tspan font-style="italic">SETBP1</tspan> (log<tspan font-size="2.8" dy="1">10</tspan><tspan dy="-1"> FPKM)</tspan></text>
<text x="222.30" y="423.60" font-size="3.9" textLength="59.20" lengthAdjust="spacingAndGlyphs" text-rendering="geometricPrecision" stroke="#222" stroke-width="0.04">Without class defining mutations</text>
<line x1="223.50" y1="425.50" x2="223.50" y2="445.80" stroke="#777" stroke-width="0.45"/>
<line x1="219.20" y1="445.80" x2="257.70" y2="445.80" stroke="#aaa" stroke-width="0.9"/>
<line x1="219.60" y1="445.80" x2="219.60" y2="448.00" stroke="#aaa" stroke-width="0.6"/>
<line x1="257.30" y1="445.80" x2="257.30" y2="448.00" stroke="#aaa" stroke-width="0.6"/>
<text x="265.40" y="438.50" font-size="3.9" textLength="52.00" lengthAdjust="spacingAndGlyphs" text-rendering="geometricPrecision" stroke="#222" stroke-width="0.04">With class defining mutations</text>
<line x1="267.70" y1="440.40" x2="267.70" y2="448.10" stroke="#777" stroke-width="0.45"/>
<line x1="257.70" y1="448.10" x2="417.60" y2="448.10" stroke="#777" stroke-width="0.45"/>
<text x="264.6" y="453.6" font-size="3.9" fill="#c83a5a" stroke="#c83a5a" stroke-width="0.07" textLength="144.2" lengthAdjust="spacingAndGlyphs"><tspan font-style="italic">RUNX1</tspan> mutations are associates with higher <tspan font-style="italic">SETBP1</tspan> expression p = 1.94E-07</text>
<text x="266.8" y="538.3" font-size="3.9" fill="#3e5a9c" stroke="#3e5a9c" stroke-width="0.07" textLength="142" lengthAdjust="spacingAndGlyphs"><tspan font-style="italic">NPM1</tspan> mutations are associates with lower <tspan font-style="italic">SETBP1</tspan> expression p = 2.65E-25</text>
<rect x="419.20" y="454.30" width="2.20" height="2.00" fill="#b0223e"/>
<text x="423.00" y="456.10" font-size="2.9" fill="#333" text-rendering="geometricPrecision" stroke="#333" stroke-width="0.04">RUNX1 mutations</text>
<rect x="419.20" y="458.20" width="2.20" height="2.00" fill="#24357a"/>
<text x="423.00" y="460.00" font-size="2.9" fill="#333" text-rendering="geometricPrecision" stroke="#333" stroke-width="0.04">NPM1 mutations</text>
<rect x="419.20" y="462.90" width="2.20" height="2.00" fill="#c8c8cc"/>
<text x="423.00" y="464.70" font-size="2.9" fill="#333" text-rendering="geometricPrecision" stroke="#333" stroke-width="0.04">Other mutations</text>
<text x="423.00" y="468.60" font-size="2.8" font-style="italic" fill="#333" text-rendering="geometricPrecision" stroke="#333" stroke-width="0.04">PML-RARA</text>
<text x="423.00" y="472.32" font-size="2.8" font-style="italic" fill="#333" text-rendering="geometricPrecision" stroke="#333" stroke-width="0.04">MYH11-CBFB</text>
<text x="423.00" y="476.04" font-size="2.8" font-style="italic" fill="#333" text-rendering="geometricPrecision" stroke="#333" stroke-width="0.04">RUNX1-RUNX1T1</text>
<text x="423.00" y="479.76" font-size="2.8" font-style="italic" fill="#333" text-rendering="geometricPrecision" stroke="#333" stroke-width="0.04">MLL-X</text>
<text x="423.00" y="483.48" font-size="2.8" font-style="italic" fill="#333" text-rendering="geometricPrecision" stroke="#333" stroke-width="0.04">NPM1</text>
<text x="423.00" y="487.20" font-size="2.8" font-style="italic" fill="#333" text-rendering="geometricPrecision" stroke="#333" stroke-width="0.04">FLT3-ITD</text>
<text x="423.00" y="490.92" font-size="2.8" font-style="italic" fill="#333" text-rendering="geometricPrecision" stroke="#333" stroke-width="0.04">MLL-PTD</text>
<text x="423.00" y="494.64" font-size="2.8" font-style="italic" fill="#333" text-rendering="geometricPrecision" stroke="#333" stroke-width="0.04">FLT3</text>
<text x="423.00" y="498.36" font-size="2.8" font-style="italic" fill="#333" text-rendering="geometricPrecision" stroke="#333" stroke-width="0.04">CEBPA</text>
<text x="423.00" y="502.08" font-size="2.8" font-style="italic" fill="#333" text-rendering="geometricPrecision" stroke="#333" stroke-width="0.04">IDH2</text>
<text x="423.00" y="505.80" font-size="2.8" font-style="italic" fill="#333" text-rendering="geometricPrecision" stroke="#333" stroke-width="0.04">RUNX1</text>
</g>
<rect x="0.5" y="0.5" width="519" height="557" fill="none" stroke="#000" stroke-width="1.2"/>
</svg>
</body></html>
